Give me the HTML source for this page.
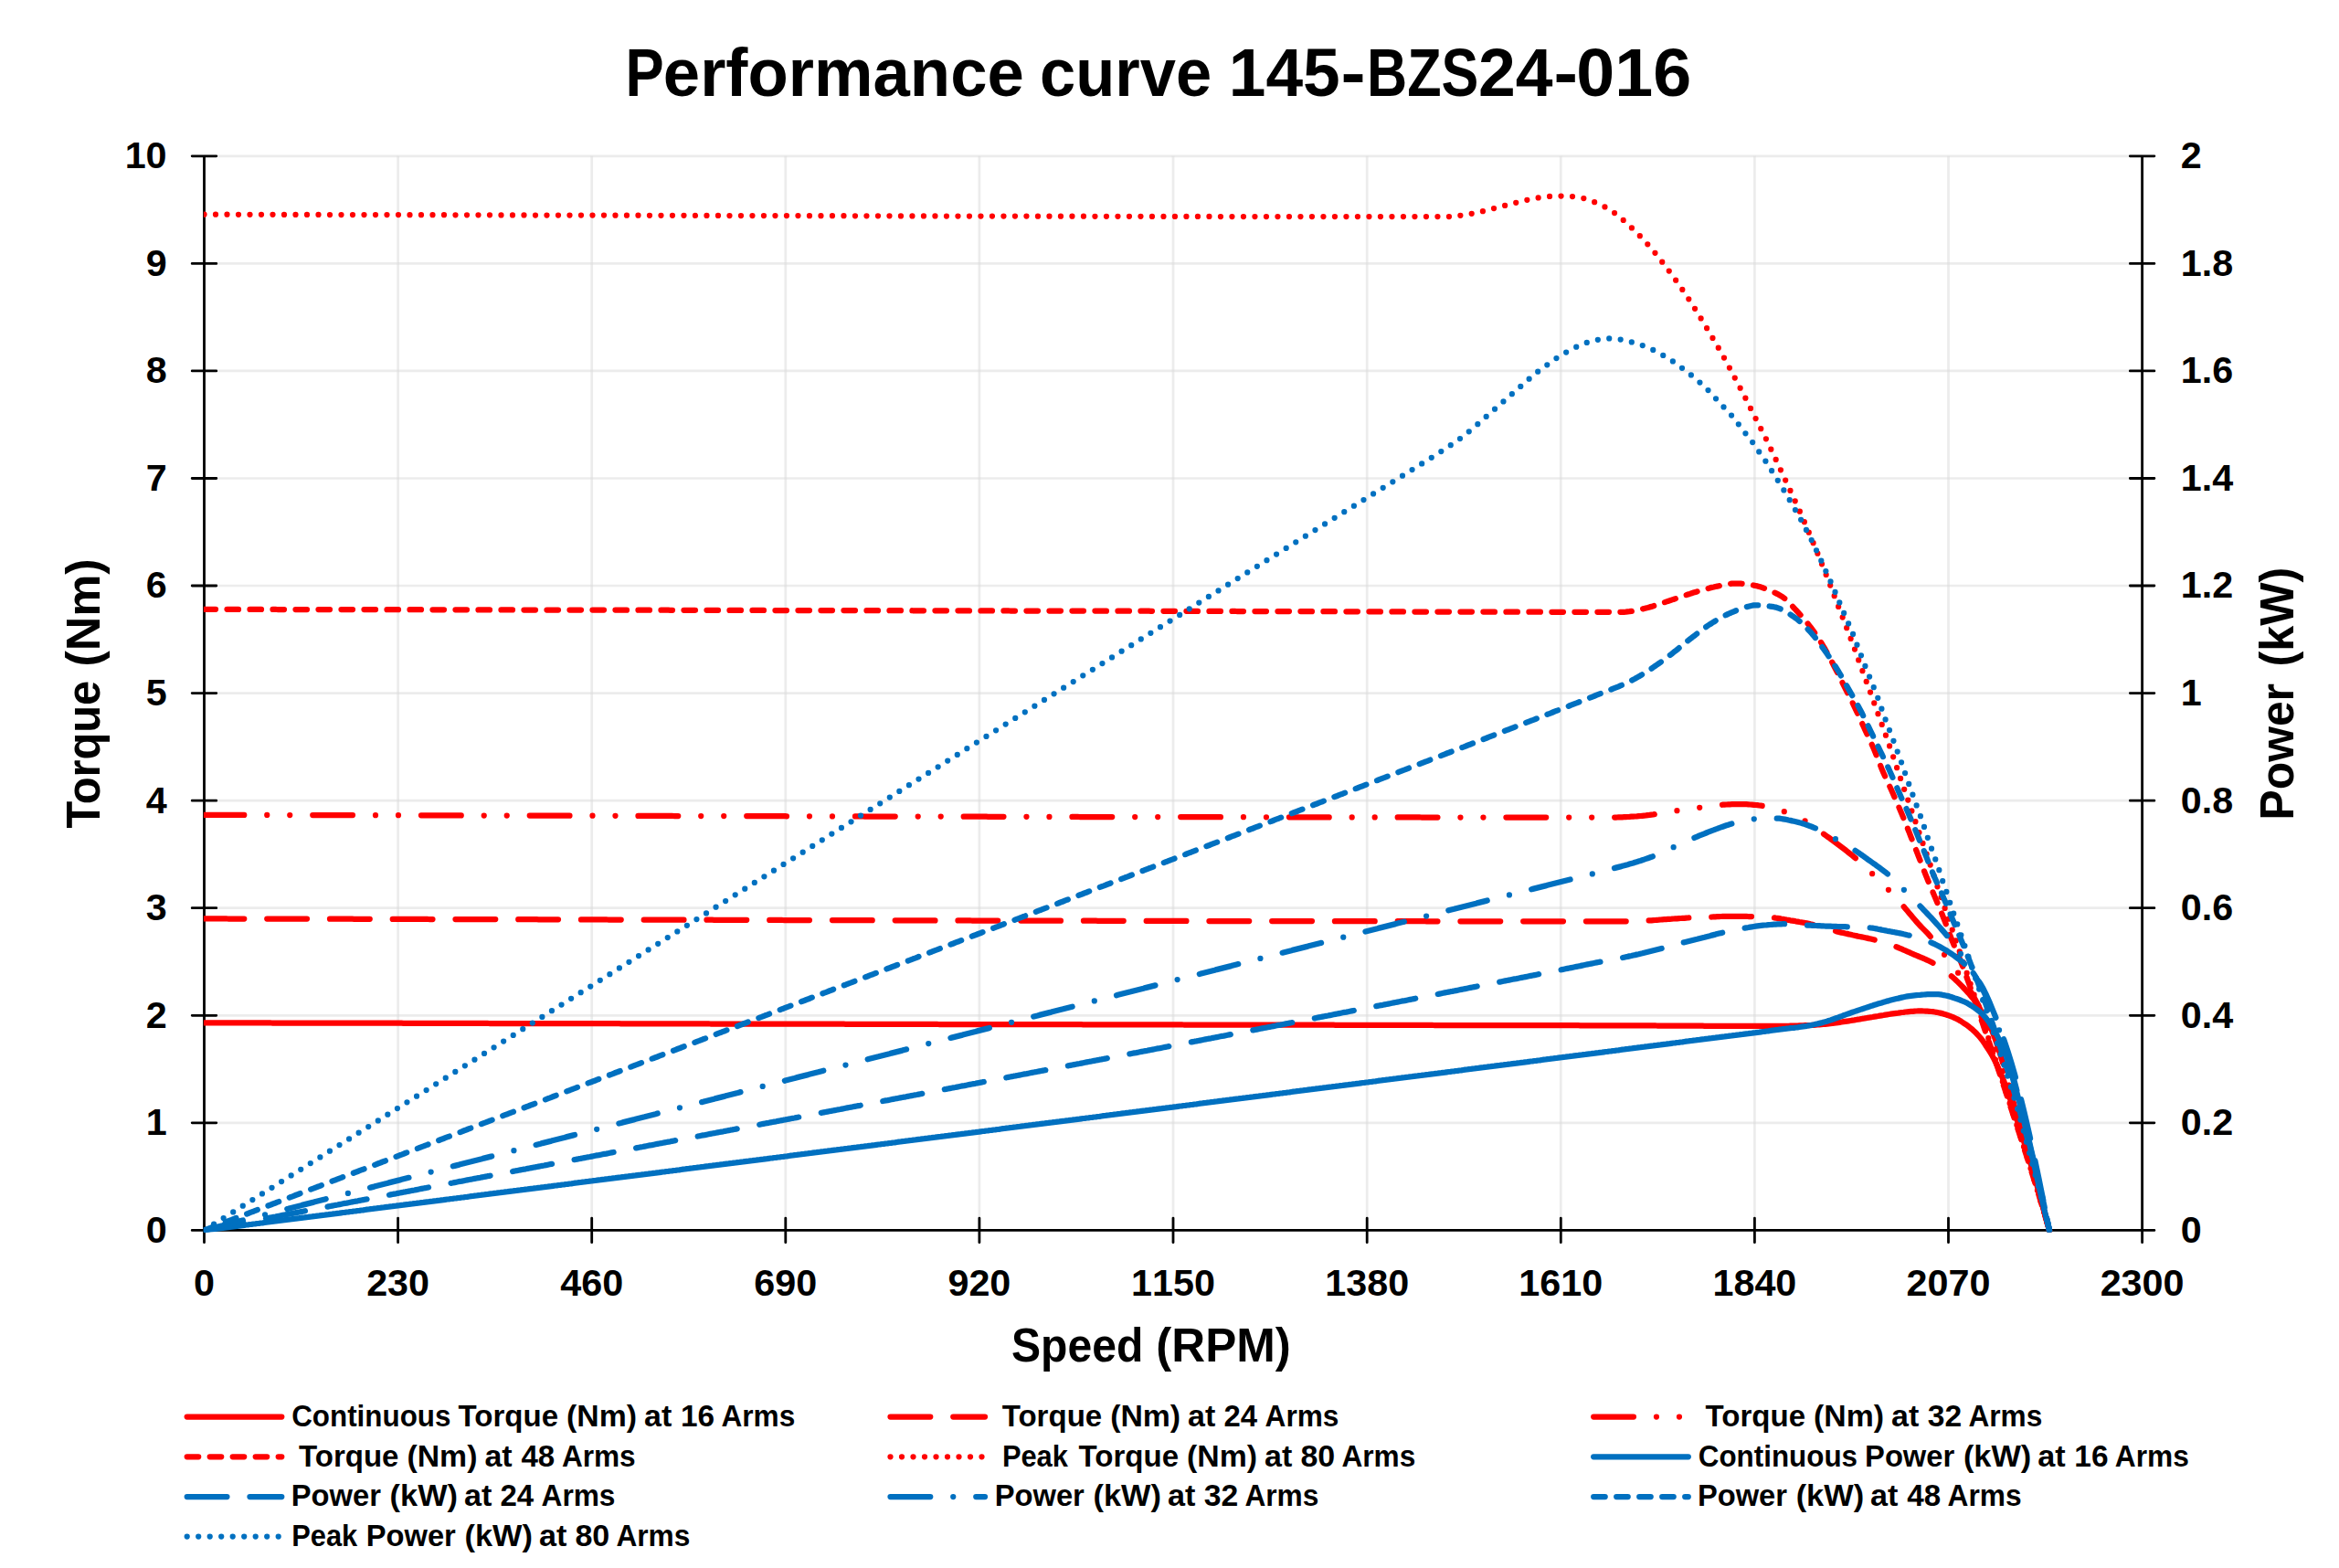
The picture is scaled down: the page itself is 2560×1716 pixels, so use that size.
<!DOCTYPE html>
<html lang="en"><head><meta charset="utf-8"><title>Performance curve 145-BZS24-016</title>
<style>html,body{margin:0;padding:0;background:#fff}svg{display:block}text{font-family:"Liberation Sans",sans-serif;font-weight:bold;fill:#000}.tk{font-kerning:none}</style>
</head><body>
<svg width="2560" height="1716" viewBox="0 0 2560 1716">
<rect width="2560" height="1716" fill="#fff"/>
<defs><clipPath id="plot"><rect x="222.9" y="166.8" width="2126.1" height="1181.6"/></clipPath></defs>
<path d="M223.5 1346.4H2344.6M223.5 1228.8H2344.6M223.5 1111.3H2344.6M223.5 993.7H2344.6M223.5 876.2H2344.6M223.5 758.6H2344.6M223.5 641.0H2344.6M223.5 523.5H2344.6M223.5 405.9H2344.6M223.5 288.4H2344.6M223.5 170.8H2344.6" stroke="#D9D9D9" stroke-opacity="0.5" stroke-width="2.7" fill="none"/>
<path d="M223.5 170.8V1346.4M435.6 170.8V1346.4M647.7 170.8V1346.4M859.8 170.8V1346.4M1071.9 170.8V1346.4M1284.0 170.8V1346.4M1496.2 170.8V1346.4M1708.3 170.8V1346.4M1920.4 170.8V1346.4M2132.5 170.8V1346.4M2344.6 170.8V1346.4" stroke="#D9D9D9" stroke-opacity="0.5" stroke-width="2.7" fill="none"/>
<path d="M223.5 170.8V1346.4M2344.6 170.8V1346.4M223.5 1346.4H2344.6M210.2 1346.4H236.8M2331.3 1346.4H2357.9M223.5 1333.1V1359.7M210.2 1228.8H236.8M2331.3 1228.8H2357.9M435.6 1333.1V1359.7M210.2 1111.3H236.8M2331.3 1111.3H2357.9M647.7 1333.1V1359.7M210.2 993.7H236.8M2331.3 993.7H2357.9M859.8 1333.1V1359.7M210.2 876.2H236.8M2331.3 876.2H2357.9M1071.9 1333.1V1359.7M210.2 758.6H236.8M2331.3 758.6H2357.9M1284.0 1333.1V1359.7M210.2 641.0H236.8M2331.3 641.0H2357.9M1496.2 1333.1V1359.7M210.2 523.5H236.8M2331.3 523.5H2357.9M1708.3 1333.1V1359.7M210.2 405.9H236.8M2331.3 405.9H2357.9M1920.4 1333.1V1359.7M210.2 288.4H236.8M2331.3 288.4H2357.9M2132.5 1333.1V1359.7M210.2 170.8H236.8M2331.3 170.8H2357.9M2344.6 1333.1V1359.7" stroke="#000" stroke-width="2.8" stroke-linecap="round" fill="none"/>
<g clip-path="url(#plot)" fill="none" stroke-linecap="round" stroke-linejoin="round" stroke-width="6.25">
<path d="M223.5 1119.3 L225.5 1119.3 L227.5 1119.3 L229.5 1119.3 L231.5 1119.3 L233.5 1119.3 L235.5 1119.3 L237.5 1119.3 L239.5 1119.3 L241.5 1119.3 L243.5 1119.3 L245.5 1119.3 L247.5 1119.3 L249.5 1119.4 L251.5 1119.4 L253.5 1119.4 L255.5 1119.4 L257.5 1119.4 L259.5 1119.4 L261.5 1119.4 L263.5 1119.4 L265.5 1119.4 L267.5 1119.4 L269.5 1119.4 L271.5 1119.4 L273.5 1119.4 L275.5 1119.4 L277.5 1119.4 L279.5 1119.4 L281.5 1119.4 L283.5 1119.4 L285.5 1119.4 L287.5 1119.4 L289.5 1119.4 L291.5 1119.4 L293.5 1119.4 L295.5 1119.4 L297.5 1119.5 L299.5 1119.5 L301.5 1119.5 L303.5 1119.5 L305.5 1119.5 L307.5 1119.5 L309.5 1119.5 L311.5 1119.5 L313.5 1119.5 L315.5 1119.5 L317.5 1119.5 L319.5 1119.5 L321.5 1119.5 L323.5 1119.5 L325.5 1119.5 L327.5 1119.5 L329.5 1119.5 L331.5 1119.5 L333.5 1119.5 L335.5 1119.5 L337.5 1119.5 L339.5 1119.5 L341.5 1119.5 L343.5 1119.5 L345.5 1119.6 L347.5 1119.6 L349.5 1119.6 L351.5 1119.6 L353.5 1119.6 L355.5 1119.6 L357.5 1119.6 L359.5 1119.6 L361.5 1119.6 L363.5 1119.6 L365.5 1119.6 L367.5 1119.6 L369.5 1119.6 L371.5 1119.6 L373.5 1119.6 L375.5 1119.6 L377.5 1119.6 L379.5 1119.6 L381.5 1119.6 L383.5 1119.6 L385.5 1119.6 L387.5 1119.6 L389.5 1119.6 L391.5 1119.6 L393.5 1119.7 L395.5 1119.7 L397.5 1119.7 L399.5 1119.7 L401.5 1119.7 L403.5 1119.7 L405.5 1119.7 L407.5 1119.7 L409.5 1119.7 L411.5 1119.7 L413.5 1119.7 L415.5 1119.7 L417.5 1119.7 L419.5 1119.7 L421.5 1119.7 L423.5 1119.7 L425.5 1119.7 L427.5 1119.7 L429.5 1119.7 L431.5 1119.7 L433.5 1119.7 L435.5 1119.7 L437.5 1119.7 L439.5 1119.7 L441.5 1119.8 L443.5 1119.8 L445.5 1119.8 L447.5 1119.8 L449.5 1119.8 L451.5 1119.8 L453.5 1119.8 L455.5 1119.8 L457.5 1119.8 L459.5 1119.8 L461.5 1119.8 L463.5 1119.8 L465.5 1119.8 L467.5 1119.8 L469.5 1119.8 L471.5 1119.8 L473.5 1119.8 L475.5 1119.8 L477.5 1119.8 L479.5 1119.8 L481.5 1119.8 L483.5 1119.8 L485.5 1119.8 L487.5 1119.9 L489.5 1119.9 L491.5 1119.9 L493.5 1119.9 L495.5 1119.9 L497.5 1119.9 L499.5 1119.9 L501.5 1119.9 L503.5 1119.9 L505.5 1119.9 L507.5 1119.9 L509.5 1119.9 L511.5 1119.9 L513.5 1119.9 L515.5 1119.9 L517.5 1119.9 L519.5 1119.9 L521.5 1119.9 L523.5 1119.9 L525.5 1119.9 L527.5 1119.9 L529.5 1119.9 L531.5 1119.9 L533.5 1119.9 L535.5 1120.0 L537.5 1120.0 L539.5 1120.0 L541.5 1120.0 L543.5 1120.0 L545.5 1120.0 L547.5 1120.0 L549.5 1120.0 L551.5 1120.0 L553.5 1120.0 L555.5 1120.0 L557.5 1120.0 L559.5 1120.0 L561.5 1120.0 L563.5 1120.0 L565.5 1120.0 L567.5 1120.0 L569.5 1120.0 L571.5 1120.0 L573.5 1120.0 L575.5 1120.0 L577.5 1120.0 L579.5 1120.0 L581.5 1120.0 L583.5 1120.1 L585.5 1120.1 L587.5 1120.1 L589.5 1120.1 L591.5 1120.1 L593.5 1120.1 L595.5 1120.1 L597.5 1120.1 L599.5 1120.1 L601.5 1120.1 L603.5 1120.1 L605.5 1120.1 L607.5 1120.1 L609.5 1120.1 L611.5 1120.1 L613.5 1120.1 L615.5 1120.1 L617.5 1120.1 L619.5 1120.1 L621.5 1120.1 L623.5 1120.1 L625.5 1120.1 L627.5 1120.1 L629.5 1120.1 L631.5 1120.2 L633.5 1120.2 L635.5 1120.2 L637.5 1120.2 L639.5 1120.2 L641.5 1120.2 L643.5 1120.2 L645.5 1120.2 L647.5 1120.2 L649.5 1120.2 L651.5 1120.2 L653.5 1120.2 L655.5 1120.2 L657.5 1120.2 L659.5 1120.2 L661.5 1120.2 L663.5 1120.2 L665.5 1120.2 L667.5 1120.2 L669.5 1120.2 L671.5 1120.2 L673.5 1120.2 L675.5 1120.2 L677.5 1120.2 L679.5 1120.3 L681.5 1120.3 L683.5 1120.3 L685.5 1120.3 L687.5 1120.3 L689.5 1120.3 L691.5 1120.3 L693.5 1120.3 L695.5 1120.3 L697.5 1120.3 L699.5 1120.3 L701.5 1120.3 L703.5 1120.3 L705.5 1120.3 L707.5 1120.3 L709.5 1120.3 L711.5 1120.3 L713.5 1120.3 L715.5 1120.3 L717.5 1120.3 L719.5 1120.3 L721.5 1120.3 L723.5 1120.3 L725.5 1120.3 L727.5 1120.4 L729.5 1120.4 L731.5 1120.4 L733.5 1120.4 L735.5 1120.4 L737.5 1120.4 L739.5 1120.4 L741.5 1120.4 L743.5 1120.4 L745.5 1120.4 L747.5 1120.4 L749.5 1120.4 L751.5 1120.4 L753.5 1120.4 L755.5 1120.4 L757.5 1120.4 L759.5 1120.4 L761.5 1120.4 L763.5 1120.4 L765.5 1120.4 L767.5 1120.4 L769.5 1120.4 L771.5 1120.4 L773.5 1120.4 L775.5 1120.4 L777.5 1120.5 L779.5 1120.5 L781.5 1120.5 L783.5 1120.5 L785.5 1120.5 L787.5 1120.5 L789.5 1120.5 L791.5 1120.5 L793.5 1120.5 L795.5 1120.5 L797.5 1120.5 L799.5 1120.5 L801.5 1120.5 L803.5 1120.5 L805.5 1120.5 L807.5 1120.5 L809.5 1120.5 L811.5 1120.5 L813.5 1120.5 L815.5 1120.5 L817.5 1120.5 L819.5 1120.5 L821.5 1120.5 L823.5 1120.5 L825.5 1120.6 L827.5 1120.6 L829.5 1120.6 L831.5 1120.6 L833.5 1120.6 L835.5 1120.6 L837.5 1120.6 L839.5 1120.6 L841.5 1120.6 L843.5 1120.6 L845.5 1120.6 L847.5 1120.6 L849.5 1120.6 L851.5 1120.6 L853.5 1120.6 L855.5 1120.6 L857.5 1120.6 L859.5 1120.6 L861.5 1120.6 L863.5 1120.6 L865.5 1120.6 L867.5 1120.6 L869.5 1120.6 L871.5 1120.6 L873.5 1120.6 L875.5 1120.7 L877.5 1120.7 L879.5 1120.7 L881.5 1120.7 L883.5 1120.7 L885.5 1120.7 L887.5 1120.7 L889.5 1120.7 L891.5 1120.7 L893.5 1120.7 L895.5 1120.7 L897.5 1120.7 L899.5 1120.7 L901.5 1120.7 L903.5 1120.7 L905.5 1120.7 L907.5 1120.7 L909.5 1120.7 L911.5 1120.7 L913.5 1120.7 L915.5 1120.7 L917.5 1120.7 L919.5 1120.7 L921.5 1120.7 L923.5 1120.7 L925.5 1120.8 L927.5 1120.8 L929.5 1120.8 L931.5 1120.8 L933.5 1120.8 L935.5 1120.8 L937.5 1120.8 L939.5 1120.8 L941.5 1120.8 L943.5 1120.8 L945.5 1120.8 L947.5 1120.8 L949.5 1120.8 L951.5 1120.8 L953.5 1120.8 L955.5 1120.8 L957.5 1120.8 L959.5 1120.8 L961.5 1120.8 L963.5 1120.8 L965.5 1120.8 L967.5 1120.8 L969.5 1120.8 L971.5 1120.8 L973.5 1120.8 L975.5 1120.9 L977.5 1120.9 L979.5 1120.9 L981.5 1120.9 L983.5 1120.9 L985.5 1120.9 L987.5 1120.9 L989.5 1120.9 L991.5 1120.9 L993.5 1120.9 L995.5 1120.9 L997.5 1120.9 L999.5 1120.9 L1001.5 1120.9 L1003.5 1120.9 L1005.5 1120.9 L1007.5 1120.9 L1009.5 1120.9 L1011.5 1120.9 L1013.5 1120.9 L1015.5 1120.9 L1017.5 1120.9 L1019.5 1120.9 L1021.5 1120.9 L1023.5 1120.9 L1025.5 1120.9 L1027.5 1121.0 L1029.5 1121.0 L1031.5 1121.0 L1033.5 1121.0 L1035.5 1121.0 L1037.5 1121.0 L1039.5 1121.0 L1041.5 1121.0 L1043.5 1121.0 L1045.5 1121.0 L1047.5 1121.0 L1049.5 1121.0 L1051.5 1121.0 L1053.5 1121.0 L1055.5 1121.0 L1057.5 1121.0 L1059.5 1121.0 L1061.5 1121.0 L1063.5 1121.0 L1065.5 1121.0 L1067.5 1121.0 L1069.5 1121.0 L1071.5 1121.0 L1073.5 1121.0 L1075.5 1121.0 L1077.5 1121.0 L1079.5 1121.1 L1081.5 1121.1 L1083.5 1121.1 L1085.5 1121.1 L1087.5 1121.1 L1089.5 1121.1 L1091.5 1121.1 L1093.5 1121.1 L1095.5 1121.1 L1097.5 1121.1 L1099.5 1121.1 L1101.5 1121.1 L1103.5 1121.1 L1105.5 1121.1 L1107.5 1121.1 L1109.5 1121.1 L1111.5 1121.1 L1113.5 1121.1 L1115.5 1121.1 L1117.5 1121.1 L1119.5 1121.1 L1121.5 1121.1 L1123.5 1121.1 L1125.5 1121.1 L1127.5 1121.1 L1129.5 1121.1 L1131.5 1121.2 L1133.5 1121.2 L1135.5 1121.2 L1137.5 1121.2 L1139.5 1121.2 L1141.5 1121.2 L1143.5 1121.2 L1145.5 1121.2 L1147.5 1121.2 L1149.5 1121.2 L1151.5 1121.2 L1153.5 1121.2 L1155.5 1121.2 L1157.5 1121.2 L1159.5 1121.2 L1161.5 1121.2 L1163.5 1121.2 L1165.5 1121.2 L1167.5 1121.2 L1169.5 1121.2 L1171.5 1121.2 L1173.5 1121.2 L1175.5 1121.2 L1177.5 1121.2 L1179.5 1121.2 L1181.5 1121.2 L1183.5 1121.2 L1185.5 1121.3 L1187.5 1121.3 L1189.5 1121.3 L1191.5 1121.3 L1193.5 1121.3 L1195.5 1121.3 L1197.5 1121.3 L1199.5 1121.3 L1201.5 1121.3 L1203.5 1121.3 L1205.5 1121.3 L1207.5 1121.3 L1209.5 1121.3 L1211.5 1121.3 L1213.5 1121.3 L1215.5 1121.3 L1217.5 1121.3 L1219.5 1121.3 L1221.5 1121.3 L1223.5 1121.3 L1225.5 1121.3 L1227.5 1121.3 L1229.5 1121.3 L1231.5 1121.3 L1233.5 1121.3 L1235.5 1121.3 L1237.5 1121.3 L1239.5 1121.3 L1241.5 1121.4 L1243.5 1121.4 L1245.5 1121.4 L1247.5 1121.4 L1249.5 1121.4 L1251.5 1121.4 L1253.5 1121.4 L1255.5 1121.4 L1257.5 1121.4 L1259.5 1121.4 L1261.5 1121.4 L1263.5 1121.4 L1265.5 1121.4 L1267.5 1121.4 L1269.5 1121.4 L1271.5 1121.4 L1273.5 1121.4 L1275.5 1121.4 L1277.5 1121.4 L1279.5 1121.4 L1281.5 1121.4 L1283.5 1121.4 L1285.5 1121.4 L1287.5 1121.4 L1289.5 1121.4 L1291.5 1121.4 L1293.5 1121.4 L1295.5 1121.5 L1297.5 1121.5 L1299.5 1121.5 L1301.5 1121.5 L1303.5 1121.5 L1305.5 1121.5 L1307.5 1121.5 L1309.5 1121.5 L1311.5 1121.5 L1313.5 1121.5 L1315.5 1121.5 L1317.5 1121.5 L1319.5 1121.5 L1321.5 1121.5 L1323.5 1121.5 L1325.5 1121.5 L1327.5 1121.5 L1329.5 1121.5 L1331.5 1121.5 L1333.5 1121.5 L1335.5 1121.5 L1337.5 1121.5 L1339.5 1121.5 L1341.5 1121.5 L1343.5 1121.5 L1345.5 1121.5 L1347.5 1121.5 L1349.5 1121.5 L1351.5 1121.6 L1353.5 1121.6 L1355.5 1121.6 L1357.5 1121.6 L1359.5 1121.6 L1361.5 1121.6 L1363.5 1121.6 L1365.5 1121.6 L1367.5 1121.6 L1369.5 1121.6 L1371.5 1121.6 L1373.5 1121.6 L1375.5 1121.6 L1377.5 1121.6 L1379.5 1121.6 L1381.5 1121.6 L1383.5 1121.6 L1385.5 1121.6 L1387.5 1121.6 L1389.5 1121.6 L1391.5 1121.6 L1393.5 1121.6 L1395.5 1121.6 L1397.5 1121.6 L1399.5 1121.6 L1401.5 1121.6 L1403.5 1121.6 L1405.5 1121.7 L1407.5 1121.7 L1409.5 1121.7 L1411.5 1121.7 L1413.5 1121.7 L1415.5 1121.7 L1417.5 1121.7 L1419.5 1121.7 L1421.5 1121.7 L1423.5 1121.7 L1425.5 1121.7 L1427.5 1121.7 L1429.5 1121.7 L1431.5 1121.7 L1433.5 1121.7 L1435.5 1121.7 L1437.5 1121.7 L1439.5 1121.7 L1441.5 1121.7 L1443.5 1121.7 L1445.5 1121.7 L1447.5 1121.7 L1449.5 1121.7 L1451.5 1121.7 L1453.5 1121.7 L1455.5 1121.7 L1457.5 1121.7 L1459.5 1121.7 L1461.5 1121.8 L1463.5 1121.8 L1465.5 1121.8 L1467.5 1121.8 L1469.5 1121.8 L1471.5 1121.8 L1473.5 1121.8 L1475.5 1121.8 L1477.5 1121.8 L1479.5 1121.8 L1481.5 1121.8 L1483.5 1121.8 L1485.5 1121.8 L1487.5 1121.8 L1489.5 1121.8 L1491.5 1121.8 L1493.5 1121.8 L1495.5 1121.8 L1497.5 1121.8 L1499.5 1121.8 L1501.5 1121.8 L1503.5 1121.8 L1505.5 1121.8 L1507.5 1121.8 L1509.5 1121.8 L1511.5 1121.8 L1513.5 1121.8 L1515.5 1121.9 L1517.5 1121.9 L1519.5 1121.9 L1521.5 1121.9 L1523.5 1121.9 L1525.5 1121.9 L1527.5 1121.9 L1529.5 1121.9 L1531.5 1121.9 L1533.5 1121.9 L1535.5 1121.9 L1537.5 1121.9 L1539.5 1121.9 L1541.5 1121.9 L1543.5 1121.9 L1545.5 1121.9 L1547.5 1121.9 L1549.5 1121.9 L1551.5 1121.9 L1553.5 1121.9 L1555.5 1121.9 L1557.5 1121.9 L1559.5 1121.9 L1561.5 1121.9 L1563.5 1121.9 L1565.5 1121.9 L1567.5 1121.9 L1569.5 1122.0 L1571.5 1122.0 L1573.5 1122.0 L1575.5 1122.0 L1577.5 1122.0 L1579.5 1122.0 L1581.5 1122.0 L1583.5 1122.0 L1585.5 1122.0 L1587.5 1122.0 L1589.5 1122.0 L1591.5 1122.0 L1593.5 1122.0 L1595.5 1122.0 L1597.5 1122.0 L1599.5 1122.0 L1601.5 1122.0 L1603.5 1122.0 L1605.5 1122.0 L1607.5 1122.0 L1609.5 1122.0 L1611.5 1122.0 L1613.5 1122.0 L1615.5 1122.0 L1617.5 1122.0 L1619.5 1122.0 L1621.5 1122.0 L1623.5 1122.1 L1625.5 1122.1 L1627.5 1122.1 L1629.5 1122.1 L1631.5 1122.1 L1633.5 1122.1 L1635.5 1122.1 L1637.5 1122.1 L1639.5 1122.1 L1641.5 1122.1 L1643.5 1122.1 L1645.5 1122.1 L1647.5 1122.1 L1649.5 1122.1 L1651.5 1122.1 L1653.5 1122.1 L1655.5 1122.1 L1657.5 1122.1 L1659.5 1122.1 L1661.5 1122.1 L1663.5 1122.1 L1665.5 1122.1 L1667.5 1122.1 L1669.5 1122.1 L1671.5 1122.1 L1673.5 1122.1 L1675.5 1122.2 L1677.5 1122.2 L1679.5 1122.2 L1681.5 1122.2 L1683.5 1122.2 L1685.5 1122.2 L1687.5 1122.2 L1689.5 1122.2 L1691.5 1122.2 L1693.5 1122.2 L1695.5 1122.2 L1697.5 1122.2 L1699.5 1122.2 L1701.5 1122.2 L1703.5 1122.2 L1705.5 1122.2 L1707.5 1122.2 L1709.5 1122.2 L1711.5 1122.2 L1713.5 1122.2 L1715.5 1122.2 L1717.5 1122.2 L1719.5 1122.2 L1721.5 1122.2 L1723.5 1122.2 L1725.5 1122.2 L1727.5 1122.2 L1729.5 1122.3 L1731.5 1122.3 L1733.5 1122.3 L1735.5 1122.3 L1737.5 1122.3 L1739.5 1122.3 L1741.5 1122.3 L1743.5 1122.3 L1745.5 1122.3 L1747.5 1122.3 L1749.5 1122.3 L1751.5 1122.3 L1753.5 1122.3 L1755.5 1122.3 L1757.5 1122.3 L1759.5 1122.3 L1761.5 1122.3 L1763.5 1122.3 L1765.5 1122.3 L1767.5 1122.3 L1769.5 1122.3 L1771.5 1122.3 L1773.5 1122.3 L1775.5 1122.3 L1777.5 1122.3 L1779.5 1122.3 L1781.5 1122.4 L1783.5 1122.4 L1785.5 1122.4 L1787.5 1122.4 L1789.5 1122.4 L1791.5 1122.4 L1793.5 1122.4 L1795.5 1122.4 L1797.5 1122.4 L1799.5 1122.4 L1801.5 1122.4 L1803.5 1122.4 L1805.5 1122.4 L1807.5 1122.4 L1809.5 1122.4 L1811.5 1122.4 L1813.5 1122.5 L1815.5 1122.5 L1817.5 1122.5 L1819.5 1122.5 L1821.5 1122.5 L1823.5 1122.5 L1825.5 1122.5 L1827.5 1122.5 L1829.5 1122.5 L1831.5 1122.6 L1833.5 1122.6 L1835.5 1122.6 L1837.5 1122.6 L1839.5 1122.6 L1841.5 1122.6 L1843.5 1122.6 L1845.5 1122.6 L1847.5 1122.7 L1849.5 1122.7 L1851.5 1122.7 L1853.5 1122.7 L1855.5 1122.7 L1857.5 1122.7 L1859.5 1122.7 L1861.5 1122.7 L1863.5 1122.7 L1865.5 1122.8 L1867.5 1122.8 L1869.5 1122.8 L1871.5 1122.8 L1873.5 1122.8 L1875.5 1122.8 L1877.5 1122.8 L1879.5 1122.8 L1881.5 1122.8 L1883.5 1122.8 L1885.5 1122.8 L1887.5 1122.8 L1889.5 1122.8 L1891.5 1122.8 L1893.5 1122.8 L1895.5 1122.8 L1897.5 1122.8 L1899.5 1122.8 L1901.5 1122.8 L1903.5 1122.8 L1905.5 1122.8 L1907.5 1122.8 L1909.5 1122.8 L1911.5 1122.8 L1913.5 1122.8 L1915.5 1122.8 L1917.5 1122.8 L1919.5 1122.8 L1921.5 1122.8 L1923.5 1122.8 L1925.5 1122.8 L1927.5 1122.8 L1929.5 1122.8 L1931.5 1122.8 L1933.5 1122.8 L1935.5 1122.8 L1937.5 1122.8 L1939.5 1122.8 L1941.5 1122.8 L1943.5 1122.8 L1945.5 1122.8 L1947.5 1122.8 L1949.5 1122.8 L1951.5 1122.8 L1953.5 1122.8 L1955.5 1122.8 L1957.5 1122.8 L1959.5 1122.7 L1961.5 1122.7 L1963.5 1122.6 L1965.5 1122.6 L1967.5 1122.5 L1969.5 1122.4 L1971.5 1122.4 L1973.5 1122.3 L1975.5 1122.2 L1977.5 1122.2 L1979.5 1122.1 L1981.5 1122.0 L1983.5 1121.9 L1985.5 1121.8 L1987.5 1121.6 L1989.5 1121.5 L1991.5 1121.3 L1993.5 1121.2 L1995.5 1121.0 L1997.5 1120.8 L1999.5 1120.6 L2001.5 1120.3 L2003.5 1120.1 L2005.5 1119.9 L2007.5 1119.6 L2009.5 1119.4 L2011.5 1119.1 L2013.5 1118.8 L2015.5 1118.5 L2017.5 1118.2 L2019.5 1117.9 L2021.5 1117.6 L2023.5 1117.3 L2025.5 1117.0 L2027.5 1116.7 L2029.5 1116.4 L2031.5 1116.0 L2033.5 1115.7 L2035.5 1115.4 L2037.5 1115.0 L2039.5 1114.7 L2041.5 1114.3 L2043.5 1114.0 L2045.5 1113.7 L2047.5 1113.3 L2049.5 1113.0 L2051.5 1112.6 L2053.5 1112.3 L2055.5 1112.0 L2057.5 1111.6 L2059.5 1111.3 L2061.5 1111.0 L2063.5 1110.6 L2065.5 1110.3 L2067.5 1110.0 L2069.5 1109.7 L2071.5 1109.4 L2073.5 1109.1 L2075.5 1108.8 L2077.5 1108.6 L2079.5 1108.3 L2081.5 1108.0 L2083.5 1107.8 L2085.5 1107.5 L2087.5 1107.3 L2089.5 1107.1 L2091.5 1106.9 L2093.5 1106.8 L2095.5 1106.6 L2097.5 1106.5 L2099.5 1106.4 L2101.5 1106.4 L2103.5 1106.4 L2105.5 1106.5 L2107.5 1106.6 L2109.5 1106.7 L2111.5 1106.8 L2113.5 1107.0 L2115.5 1107.2 L2117.5 1107.5 L2119.5 1107.8 L2121.5 1108.2 L2123.5 1108.6 L2125.5 1109.1 L2127.5 1109.7 L2129.5 1110.3 L2131.5 1110.9 L2133.5 1111.6 L2135.5 1112.4 L2137.5 1113.2 L2139.5 1114.1 L2141.5 1115.0 L2143.5 1116.1 L2145.5 1117.2 L2147.5 1118.5 L2149.5 1119.8 L2151.5 1121.1 L2153.5 1122.6 L2155.5 1124.1 L2157.5 1125.7 L2159.5 1127.4 L2161.5 1129.3 L2163.5 1131.3 L2165.5 1133.5 L2167.5 1135.8 L2169.5 1138.3 L2171.5 1141.1 L2173.5 1144.2 L2175.5 1147.3 L2177.5 1150.4 L2179.5 1153.6 L2181.5 1157.2 L2183.5 1161.2 L2185.5 1165.4 L2187.5 1169.7 L2189.5 1174.3 L2191.5 1179.0 L2193.5 1184.0 L2195.5 1189.4 L2197.5 1195.0 L2199.5 1200.9 L2201.5 1206.9 L2203.5 1212.9 L2205.5 1219.0 L2207.5 1225.1 L2209.5 1231.3 L2211.5 1237.6 L2213.5 1243.9 L2215.5 1250.2 L2217.5 1256.6 L2219.5 1263.2 L2221.5 1269.8 L2223.5 1276.6 L2225.5 1283.4 L2227.5 1290.4 L2229.5 1297.4 L2231.5 1304.6 L2233.5 1311.9 L2235.5 1319.2 L2237.5 1326.4 L2239.5 1333.7 L2241.5 1340.9 L2243.0 1346.4" stroke="#FF0000"/>
<path d="M223.5 1005.4 L225.5 1005.4 L227.5 1005.4 L229.5 1005.4 L231.5 1005.4 L233.5 1005.4 L235.5 1005.4 L237.5 1005.4 L239.5 1005.4 L241.5 1005.4 L243.5 1005.4 L245.5 1005.4 L247.5 1005.4 L249.5 1005.5 L251.5 1005.5 L253.5 1005.5 L255.5 1005.5 L257.5 1005.5 L259.5 1005.5 L261.5 1005.5 L263.5 1005.5 L265.5 1005.5 L267.5 1005.5 L269.5 1005.5 L271.5 1005.5 L273.5 1005.5 L275.5 1005.5 L277.5 1005.5 L279.5 1005.5 L281.5 1005.5 L283.5 1005.5 L285.5 1005.5 L287.5 1005.5 L289.5 1005.5 L291.5 1005.5 L293.5 1005.5 L295.5 1005.5 L297.5 1005.6 L299.5 1005.6 L301.5 1005.6 L303.5 1005.6 L305.5 1005.6 L307.5 1005.6 L309.5 1005.6 L311.5 1005.6 L313.5 1005.6 L315.5 1005.6 L317.5 1005.6 L319.5 1005.6 L321.5 1005.6 L323.5 1005.6 L325.5 1005.6 L327.5 1005.6 L329.5 1005.6 L331.5 1005.6 L333.5 1005.6 L335.5 1005.6 L337.5 1005.6 L339.5 1005.6 L341.5 1005.6 L343.5 1005.7 L345.5 1005.7 L347.5 1005.7 L349.5 1005.7 L351.5 1005.7 L353.5 1005.7 L355.5 1005.7 L357.5 1005.7 L359.5 1005.7 L361.5 1005.7 L363.5 1005.7 L365.5 1005.7 L367.5 1005.7 L369.5 1005.7 L371.5 1005.7 L373.5 1005.7 L375.5 1005.7 L377.5 1005.7 L379.5 1005.7 L381.5 1005.7 L383.5 1005.7 L385.5 1005.7 L387.5 1005.8 L389.5 1005.8 L391.5 1005.8 L393.5 1005.8 L395.5 1005.8 L397.5 1005.8 L399.5 1005.8 L401.5 1005.8 L403.5 1005.8 L405.5 1005.8 L407.5 1005.8 L409.5 1005.8 L411.5 1005.8 L413.5 1005.8 L415.5 1005.8 L417.5 1005.8 L419.5 1005.8 L421.5 1005.8 L423.5 1005.8 L425.5 1005.8 L427.5 1005.8 L429.5 1005.9 L431.5 1005.9 L433.5 1005.9 L435.5 1005.9 L437.5 1005.9 L439.5 1005.9 L441.5 1005.9 L443.5 1005.9 L445.5 1005.9 L447.5 1005.9 L449.5 1005.9 L451.5 1005.9 L453.5 1005.9 L455.5 1005.9 L457.5 1005.9 L459.5 1005.9 L461.5 1005.9 L463.5 1005.9 L465.5 1005.9 L467.5 1005.9 L469.5 1006.0 L471.5 1006.0 L473.5 1006.0 L475.5 1006.0 L477.5 1006.0 L479.5 1006.0 L481.5 1006.0 L483.5 1006.0 L485.5 1006.0 L487.5 1006.0 L489.5 1006.0 L491.5 1006.0 L493.5 1006.0 L495.5 1006.0 L497.5 1006.0 L499.5 1006.0 L501.5 1006.0 L503.5 1006.0 L505.5 1006.0 L507.5 1006.0 L509.5 1006.0 L511.5 1006.1 L513.5 1006.1 L515.5 1006.1 L517.5 1006.1 L519.5 1006.1 L521.5 1006.1 L523.5 1006.1 L525.5 1006.1 L527.5 1006.1 L529.5 1006.1 L531.5 1006.1 L533.5 1006.1 L535.5 1006.1 L537.5 1006.1 L539.5 1006.1 L541.5 1006.1 L543.5 1006.1 L545.5 1006.1 L547.5 1006.1 L549.5 1006.2 L551.5 1006.2 L553.5 1006.2 L555.5 1006.2 L557.5 1006.2 L559.5 1006.2 L561.5 1006.2 L563.5 1006.2 L565.5 1006.2 L567.5 1006.2 L569.5 1006.2 L571.5 1006.2 L573.5 1006.2 L575.5 1006.2 L577.5 1006.2 L579.5 1006.2 L581.5 1006.2 L583.5 1006.2 L585.5 1006.2 L587.5 1006.2 L589.5 1006.3 L591.5 1006.3 L593.5 1006.3 L595.5 1006.3 L597.5 1006.3 L599.5 1006.3 L601.5 1006.3 L603.5 1006.3 L605.5 1006.3 L607.5 1006.3 L609.5 1006.3 L611.5 1006.3 L613.5 1006.3 L615.5 1006.3 L617.5 1006.3 L619.5 1006.3 L621.5 1006.3 L623.5 1006.3 L625.5 1006.3 L627.5 1006.4 L629.5 1006.4 L631.5 1006.4 L633.5 1006.4 L635.5 1006.4 L637.5 1006.4 L639.5 1006.4 L641.5 1006.4 L643.5 1006.4 L645.5 1006.4 L647.5 1006.4 L649.5 1006.4 L651.5 1006.4 L653.5 1006.4 L655.5 1006.4 L657.5 1006.4 L659.5 1006.4 L661.5 1006.4 L663.5 1006.4 L665.5 1006.5 L667.5 1006.5 L669.5 1006.5 L671.5 1006.5 L673.5 1006.5 L675.5 1006.5 L677.5 1006.5 L679.5 1006.5 L681.5 1006.5 L683.5 1006.5 L685.5 1006.5 L687.5 1006.5 L689.5 1006.5 L691.5 1006.5 L693.5 1006.5 L695.5 1006.5 L697.5 1006.5 L699.5 1006.5 L701.5 1006.5 L703.5 1006.5 L705.5 1006.6 L707.5 1006.6 L709.5 1006.6 L711.5 1006.6 L713.5 1006.6 L715.5 1006.6 L717.5 1006.6 L719.5 1006.6 L721.5 1006.6 L723.5 1006.6 L725.5 1006.6 L727.5 1006.6 L729.5 1006.6 L731.5 1006.6 L733.5 1006.6 L735.5 1006.6 L737.5 1006.6 L739.5 1006.6 L741.5 1006.6 L743.5 1006.7 L745.5 1006.7 L747.5 1006.7 L749.5 1006.7 L751.5 1006.7 L753.5 1006.7 L755.5 1006.7 L757.5 1006.7 L759.5 1006.7 L761.5 1006.7 L763.5 1006.7 L765.5 1006.7 L767.5 1006.7 L769.5 1006.7 L771.5 1006.7 L773.5 1006.7 L775.5 1006.7 L777.5 1006.7 L779.5 1006.7 L781.5 1006.8 L783.5 1006.8 L785.5 1006.8 L787.5 1006.8 L789.5 1006.8 L791.5 1006.8 L793.5 1006.8 L795.5 1006.8 L797.5 1006.8 L799.5 1006.8 L801.5 1006.8 L803.5 1006.8 L805.5 1006.8 L807.5 1006.8 L809.5 1006.8 L811.5 1006.8 L813.5 1006.8 L815.5 1006.8 L817.5 1006.8 L819.5 1006.9 L821.5 1006.9 L823.5 1006.9 L825.5 1006.9 L827.5 1006.9 L829.5 1006.9 L831.5 1006.9 L833.5 1006.9 L835.5 1006.9 L837.5 1006.9 L839.5 1006.9 L841.5 1006.9 L843.5 1006.9 L845.5 1006.9 L847.5 1006.9 L849.5 1006.9 L851.5 1006.9 L853.5 1006.9 L855.5 1006.9 L857.5 1007.0 L859.5 1007.0 L861.5 1007.0 L863.5 1007.0 L865.5 1007.0 L867.5 1007.0 L869.5 1007.0 L871.5 1007.0 L873.5 1007.0 L875.5 1007.0 L877.5 1007.0 L879.5 1007.0 L881.5 1007.0 L883.5 1007.0 L885.5 1007.0 L887.5 1007.0 L889.5 1007.0 L891.5 1007.0 L893.5 1007.0 L895.5 1007.0 L897.5 1007.1 L899.5 1007.1 L901.5 1007.1 L903.5 1007.1 L905.5 1007.1 L907.5 1007.1 L909.5 1007.1 L911.5 1007.1 L913.5 1007.1 L915.5 1007.1 L917.5 1007.1 L919.5 1007.1 L921.5 1007.1 L923.5 1007.1 L925.5 1007.1 L927.5 1007.1 L929.5 1007.1 L931.5 1007.1 L933.5 1007.1 L935.5 1007.1 L937.5 1007.2 L939.5 1007.2 L941.5 1007.2 L943.5 1007.2 L945.5 1007.2 L947.5 1007.2 L949.5 1007.2 L951.5 1007.2 L953.5 1007.2 L955.5 1007.2 L957.5 1007.2 L959.5 1007.2 L961.5 1007.2 L963.5 1007.2 L965.5 1007.2 L967.5 1007.2 L969.5 1007.2 L971.5 1007.2 L973.5 1007.2 L975.5 1007.2 L977.5 1007.3 L979.5 1007.3 L981.5 1007.3 L983.5 1007.3 L985.5 1007.3 L987.5 1007.3 L989.5 1007.3 L991.5 1007.3 L993.5 1007.3 L995.5 1007.3 L997.5 1007.3 L999.5 1007.3 L1001.5 1007.3 L1003.5 1007.3 L1005.5 1007.3 L1007.5 1007.3 L1009.5 1007.3 L1011.5 1007.3 L1013.5 1007.3 L1015.5 1007.3 L1017.5 1007.3 L1019.5 1007.4 L1021.5 1007.4 L1023.5 1007.4 L1025.5 1007.4 L1027.5 1007.4 L1029.5 1007.4 L1031.5 1007.4 L1033.5 1007.4 L1035.5 1007.4 L1037.5 1007.4 L1039.5 1007.4 L1041.5 1007.4 L1043.5 1007.4 L1045.5 1007.4 L1047.5 1007.4 L1049.5 1007.4 L1051.5 1007.4 L1053.5 1007.4 L1055.5 1007.4 L1057.5 1007.4 L1059.5 1007.4 L1061.5 1007.4 L1063.5 1007.5 L1065.5 1007.5 L1067.5 1007.5 L1069.5 1007.5 L1071.5 1007.5 L1073.5 1007.5 L1075.5 1007.5 L1077.5 1007.5 L1079.5 1007.5 L1081.5 1007.5 L1083.5 1007.5 L1085.5 1007.5 L1087.5 1007.5 L1089.5 1007.5 L1091.5 1007.5 L1093.5 1007.5 L1095.5 1007.5 L1097.5 1007.5 L1099.5 1007.5 L1101.5 1007.5 L1103.5 1007.5 L1105.5 1007.5 L1107.5 1007.6 L1109.5 1007.6 L1111.5 1007.6 L1113.5 1007.6 L1115.5 1007.6 L1117.5 1007.6 L1119.5 1007.6 L1121.5 1007.6 L1123.5 1007.6 L1125.5 1007.6 L1127.5 1007.6 L1129.5 1007.6 L1131.5 1007.6 L1133.5 1007.6 L1135.5 1007.6 L1137.5 1007.6 L1139.5 1007.6 L1141.5 1007.6 L1143.5 1007.6 L1145.5 1007.6 L1147.5 1007.6 L1149.5 1007.6 L1151.5 1007.6 L1153.5 1007.7 L1155.5 1007.7 L1157.5 1007.7 L1159.5 1007.7 L1161.5 1007.7 L1163.5 1007.7 L1165.5 1007.7 L1167.5 1007.7 L1169.5 1007.7 L1171.5 1007.7 L1173.5 1007.7 L1175.5 1007.7 L1177.5 1007.7 L1179.5 1007.7 L1181.5 1007.7 L1183.5 1007.7 L1185.5 1007.7 L1187.5 1007.7 L1189.5 1007.7 L1191.5 1007.7 L1193.5 1007.7 L1195.5 1007.7 L1197.5 1007.7 L1199.5 1007.7 L1201.5 1007.8 L1203.5 1007.8 L1205.5 1007.8 L1207.5 1007.8 L1209.5 1007.8 L1211.5 1007.8 L1213.5 1007.8 L1215.5 1007.8 L1217.5 1007.8 L1219.5 1007.8 L1221.5 1007.8 L1223.5 1007.8 L1225.5 1007.8 L1227.5 1007.8 L1229.5 1007.8 L1231.5 1007.8 L1233.5 1007.8 L1235.5 1007.8 L1237.5 1007.8 L1239.5 1007.8 L1241.5 1007.8 L1243.5 1007.8 L1245.5 1007.8 L1247.5 1007.8 L1249.5 1007.8 L1251.5 1007.8 L1253.5 1007.8 L1255.5 1007.9 L1257.5 1007.9 L1259.5 1007.9 L1261.5 1007.9 L1263.5 1007.9 L1265.5 1007.9 L1267.5 1007.9 L1269.5 1007.9 L1271.5 1007.9 L1273.5 1007.9 L1275.5 1007.9 L1277.5 1007.9 L1279.5 1007.9 L1281.5 1007.9 L1283.5 1007.9 L1285.5 1007.9 L1287.5 1007.9 L1289.5 1007.9 L1291.5 1007.9 L1293.5 1007.9 L1295.5 1007.9 L1297.5 1007.9 L1299.5 1007.9 L1301.5 1007.9 L1303.5 1007.9 L1305.5 1007.9 L1307.5 1007.9 L1309.5 1007.9 L1311.5 1008.0 L1313.5 1008.0 L1315.5 1008.0 L1317.5 1008.0 L1319.5 1008.0 L1321.5 1008.0 L1323.5 1008.0 L1325.5 1008.0 L1327.5 1008.0 L1329.5 1008.0 L1331.5 1008.0 L1333.5 1008.0 L1335.5 1008.0 L1337.5 1008.0 L1339.5 1008.0 L1341.5 1008.0 L1343.5 1008.0 L1345.5 1008.0 L1347.5 1008.0 L1349.5 1008.0 L1351.5 1008.0 L1353.5 1008.0 L1355.5 1008.0 L1357.5 1008.0 L1359.5 1008.0 L1361.5 1008.0 L1363.5 1008.0 L1365.5 1008.0 L1367.5 1008.0 L1369.5 1008.0 L1371.5 1008.0 L1373.5 1008.0 L1375.5 1008.1 L1377.5 1008.1 L1379.5 1008.1 L1381.5 1008.1 L1383.5 1008.1 L1385.5 1008.1 L1387.5 1008.1 L1389.5 1008.1 L1391.5 1008.1 L1393.5 1008.1 L1395.5 1008.1 L1397.5 1008.1 L1399.5 1008.1 L1401.5 1008.1 L1403.5 1008.1 L1405.5 1008.1 L1407.5 1008.1 L1409.5 1008.1 L1411.5 1008.1 L1413.5 1008.1 L1415.5 1008.1 L1417.5 1008.1 L1419.5 1008.1 L1421.5 1008.1 L1423.5 1008.1 L1425.5 1008.1 L1427.5 1008.1 L1429.5 1008.1 L1431.5 1008.1 L1433.5 1008.1 L1435.5 1008.1 L1437.5 1008.1 L1439.5 1008.1 L1441.5 1008.1 L1443.5 1008.1 L1445.5 1008.1 L1447.5 1008.1 L1449.5 1008.1 L1451.5 1008.1 L1453.5 1008.2 L1455.5 1008.2 L1457.5 1008.2 L1459.5 1008.2 L1461.5 1008.2 L1463.5 1008.2 L1465.5 1008.2 L1467.5 1008.2 L1469.5 1008.2 L1471.5 1008.2 L1473.5 1008.2 L1475.5 1008.2 L1477.5 1008.2 L1479.5 1008.2 L1481.5 1008.2 L1483.5 1008.2 L1485.5 1008.2 L1487.5 1008.2 L1489.5 1008.2 L1491.5 1008.2 L1493.5 1008.2 L1495.5 1008.2 L1497.5 1008.2 L1499.5 1008.2 L1501.5 1008.2 L1503.5 1008.2 L1505.5 1008.2 L1507.5 1008.2 L1509.5 1008.2 L1511.5 1008.2 L1513.5 1008.2 L1515.5 1008.2 L1517.5 1008.2 L1519.5 1008.2 L1521.5 1008.2 L1523.5 1008.2 L1525.5 1008.2 L1527.5 1008.2 L1529.5 1008.2 L1531.5 1008.2 L1533.5 1008.2 L1535.5 1008.2 L1537.5 1008.2 L1539.5 1008.2 L1541.5 1008.2 L1543.5 1008.2 L1545.5 1008.2 L1547.5 1008.2 L1549.5 1008.2 L1551.5 1008.2 L1553.5 1008.2 L1555.5 1008.2 L1557.5 1008.2 L1559.5 1008.2 L1561.5 1008.3 L1563.5 1008.3 L1565.5 1008.3 L1567.5 1008.3 L1569.5 1008.3 L1571.5 1008.3 L1573.5 1008.3 L1575.5 1008.3 L1577.5 1008.3 L1579.5 1008.3 L1581.5 1008.3 L1583.5 1008.3 L1585.5 1008.3 L1587.5 1008.3 L1589.5 1008.3 L1591.5 1008.3 L1593.5 1008.3 L1595.5 1008.3 L1597.5 1008.3 L1599.5 1008.3 L1601.5 1008.3 L1603.5 1008.3 L1605.5 1008.3 L1607.5 1008.3 L1609.5 1008.3 L1611.5 1008.3 L1613.5 1008.3 L1615.5 1008.3 L1617.5 1008.3 L1619.5 1008.3 L1621.5 1008.3 L1623.5 1008.3 L1625.5 1008.3 L1627.5 1008.3 L1629.5 1008.3 L1631.5 1008.3 L1633.5 1008.3 L1635.5 1008.3 L1637.5 1008.3 L1639.5 1008.3 L1641.5 1008.3 L1643.5 1008.3 L1645.5 1008.3 L1647.5 1008.3 L1649.5 1008.3 L1651.5 1008.3 L1653.5 1008.3 L1655.5 1008.3 L1657.5 1008.3 L1659.5 1008.3 L1661.5 1008.3 L1663.5 1008.3 L1665.5 1008.3 L1667.5 1008.3 L1669.5 1008.3 L1671.5 1008.3 L1673.5 1008.3 L1675.5 1008.3 L1677.5 1008.3 L1679.5 1008.3 L1681.5 1008.3 L1683.5 1008.3 L1685.5 1008.3 L1687.5 1008.3 L1689.5 1008.3 L1691.5 1008.3 L1693.5 1008.3 L1695.5 1008.3 L1697.5 1008.3 L1699.5 1008.3 L1701.5 1008.3 L1703.5 1008.3 L1705.5 1008.3 L1707.5 1008.3 L1709.5 1008.3 L1711.5 1008.3 L1713.5 1008.3 L1715.5 1008.3 L1717.5 1008.3 L1719.5 1008.3 L1721.5 1008.3 L1723.5 1008.3 L1725.5 1008.3 L1727.5 1008.3 L1729.5 1008.3 L1731.5 1008.3 L1733.5 1008.3 L1735.5 1008.3 L1737.5 1008.3 L1739.5 1008.3 L1741.5 1008.3 L1743.5 1008.3 L1745.5 1008.3 L1747.5 1008.3 L1749.5 1008.3 L1751.5 1008.3 L1753.5 1008.3 L1755.5 1008.3 L1757.5 1008.3 L1759.5 1008.3 L1761.5 1008.3 L1763.5 1008.3 L1765.5 1008.3 L1767.5 1008.3 L1769.5 1008.3 L1771.5 1008.3 L1773.5 1008.3 L1775.5 1008.3 L1777.5 1008.3 L1779.5 1008.3 L1781.5 1008.3 L1783.5 1008.3 L1785.5 1008.2 L1787.5 1008.2 L1789.5 1008.1 L1791.5 1008.0 L1793.5 1008.0 L1795.5 1007.9 L1797.5 1007.8 L1799.5 1007.7 L1801.5 1007.6 L1803.5 1007.5 L1805.5 1007.4 L1807.5 1007.3 L1809.5 1007.1 L1811.5 1007.0 L1813.5 1006.8 L1815.5 1006.7 L1817.5 1006.5 L1819.5 1006.3 L1821.5 1006.2 L1823.5 1006.1 L1825.5 1005.9 L1827.5 1005.8 L1829.5 1005.7 L1831.5 1005.5 L1833.5 1005.4 L1835.5 1005.3 L1837.5 1005.1 L1839.5 1005.0 L1841.5 1004.9 L1843.5 1004.8 L1845.5 1004.6 L1847.5 1004.5 L1849.5 1004.4 L1851.5 1004.3 L1853.5 1004.3 L1855.5 1004.2 L1857.5 1004.1 L1859.5 1004.0 L1861.5 1003.9 L1863.5 1003.9 L1865.5 1003.8 L1867.5 1003.7 L1869.5 1003.6 L1871.5 1003.6 L1873.5 1003.5 L1875.5 1003.4 L1877.5 1003.3 L1879.5 1003.2 L1881.5 1003.1 L1883.5 1003.0 L1885.5 1002.9 L1887.5 1002.9 L1889.5 1002.8 L1891.5 1002.8 L1893.5 1002.8 L1895.5 1002.8 L1897.5 1002.8 L1899.5 1002.8 L1901.5 1002.8 L1903.5 1002.8 L1905.5 1002.9 L1907.5 1002.9 L1909.5 1002.9 L1911.5 1002.9 L1913.5 1003.0 L1915.5 1003.0 L1917.5 1003.0 L1919.5 1003.0 L1921.5 1003.1 L1923.5 1003.2 L1925.5 1003.3 L1927.5 1003.3 L1929.5 1003.5 L1931.5 1003.6 L1933.5 1003.7 L1935.5 1003.8 L1937.5 1004.0 L1939.5 1004.1 L1941.5 1004.3 L1943.5 1004.6 L1945.5 1004.8 L1947.5 1005.1 L1949.5 1005.5 L1951.5 1005.8 L1953.5 1006.2 L1955.5 1006.6 L1957.5 1006.9 L1959.5 1007.3 L1961.5 1007.6 L1963.5 1007.9 L1965.5 1008.3 L1967.5 1008.6 L1969.5 1009.0 L1971.5 1009.3 L1973.5 1009.7 L1975.5 1010.0 L1977.5 1010.4 L1979.5 1010.8 L1981.5 1011.3 L1983.5 1011.7 L1985.5 1012.3 L1987.5 1012.8 L1989.5 1013.4 L1991.5 1014.0 L1993.5 1014.6 L1995.5 1015.2 L1997.5 1015.8 L1999.5 1016.4 L2001.5 1017.0 L2003.5 1017.6 L2005.5 1018.1 L2007.5 1018.7 L2009.5 1019.1 L2011.5 1019.6 L2013.5 1020.1 L2015.5 1020.6 L2017.5 1021.0 L2019.5 1021.5 L2021.5 1021.9 L2023.5 1022.4 L2025.5 1022.8 L2027.5 1023.3 L2029.5 1023.7 L2031.5 1024.1 L2033.5 1024.6 L2035.5 1025.0 L2037.5 1025.4 L2039.5 1025.8 L2041.5 1026.2 L2043.5 1026.6 L2045.5 1027.1 L2047.5 1027.5 L2049.5 1028.0 L2051.5 1028.5 L2053.5 1029.1 L2055.5 1029.6 L2057.5 1030.2 L2059.5 1030.8 L2061.5 1031.4 L2063.5 1032.0 L2065.5 1032.7 L2067.5 1033.4 L2069.5 1034.1 L2071.5 1034.8 L2073.5 1035.5 L2075.5 1036.2 L2077.5 1037.0 L2079.5 1037.8 L2081.5 1038.7 L2083.5 1039.6 L2085.5 1040.4 L2087.5 1041.3 L2089.5 1042.2 L2091.5 1043.1 L2093.5 1044.0 L2095.5 1044.8 L2097.5 1045.7 L2099.5 1046.5 L2101.5 1047.3 L2103.5 1048.2 L2105.5 1049.0 L2107.5 1049.9 L2109.5 1050.8 L2111.5 1051.8 L2113.5 1052.8 L2115.5 1053.8 L2117.5 1055.0 L2119.5 1056.2 L2121.5 1057.5 L2123.5 1058.8 L2125.5 1060.2 L2127.5 1061.7 L2129.5 1063.2 L2131.5 1064.7 L2133.5 1066.3 L2135.5 1068.0 L2137.5 1069.7 L2139.5 1071.5 L2141.5 1073.4 L2143.5 1075.4 L2145.5 1077.4 L2147.5 1079.4 L2149.5 1081.5 L2151.5 1083.6 L2153.5 1085.8 L2155.5 1088.0 L2157.5 1090.4 L2159.5 1092.8 L2161.5 1095.3 L2163.5 1098.0 L2165.5 1100.8 L2167.5 1103.7 L2169.5 1106.8 L2171.5 1110.1 L2173.5 1113.7 L2175.5 1117.7 L2177.5 1121.9 L2179.5 1126.4 L2181.5 1131.2 L2183.5 1136.5 L2185.5 1142.2 L2187.5 1148.3 L2189.5 1154.6 L2191.5 1161.4 L2193.5 1168.5 L2195.5 1175.8 L2197.5 1183.2 L2199.5 1190.8 L2201.5 1198.5 L2203.5 1206.0 L2205.5 1213.3 L2207.5 1220.5 L2209.5 1227.7 L2211.5 1234.8 L2213.5 1241.7 L2215.5 1248.5 L2217.5 1255.3 L2219.5 1262.2 L2221.5 1269.0 L2223.5 1275.8 L2225.5 1282.7 L2227.5 1289.6 L2229.5 1296.8 L2231.5 1304.1 L2233.5 1311.5 L2235.5 1318.8 L2237.5 1326.2 L2239.5 1333.5 L2241.5 1340.9 L2243.0 1346.4" stroke="#FF0000" stroke-dasharray="43.75 25.00"/>
<path d="M223.5 891.8 L225.5 891.8 L227.5 891.8 L229.5 891.8 L231.5 891.8 L233.5 891.8 L235.5 891.8 L237.5 891.8 L239.5 891.8 L241.5 891.8 L243.5 891.8 L245.5 891.8 L247.5 891.8 L249.5 891.8 L251.5 891.9 L253.5 891.9 L255.5 891.9 L257.5 891.9 L259.5 891.9 L261.5 891.9 L263.5 891.9 L265.5 891.9 L267.5 891.9 L269.5 891.9 L271.5 891.9 L273.5 891.9 L275.5 891.9 L277.5 891.9 L279.5 891.9 L281.5 891.9 L283.5 891.9 L285.5 891.9 L287.5 891.9 L289.5 891.9 L291.5 891.9 L293.5 891.9 L295.5 891.9 L297.5 891.9 L299.5 891.9 L301.5 891.9 L303.5 892.0 L305.5 892.0 L307.5 892.0 L309.5 892.0 L311.5 892.0 L313.5 892.0 L315.5 892.0 L317.5 892.0 L319.5 892.0 L321.5 892.0 L323.5 892.0 L325.5 892.0 L327.5 892.0 L329.5 892.0 L331.5 892.0 L333.5 892.0 L335.5 892.0 L337.5 892.0 L339.5 892.0 L341.5 892.0 L343.5 892.0 L345.5 892.0 L347.5 892.0 L349.5 892.0 L351.5 892.1 L353.5 892.1 L355.5 892.1 L357.5 892.1 L359.5 892.1 L361.5 892.1 L363.5 892.1 L365.5 892.1 L367.5 892.1 L369.5 892.1 L371.5 892.1 L373.5 892.1 L375.5 892.1 L377.5 892.1 L379.5 892.1 L381.5 892.1 L383.5 892.1 L385.5 892.1 L387.5 892.1 L389.5 892.1 L391.5 892.1 L393.5 892.1 L395.5 892.1 L397.5 892.2 L399.5 892.2 L401.5 892.2 L403.5 892.2 L405.5 892.2 L407.5 892.2 L409.5 892.2 L411.5 892.2 L413.5 892.2 L415.5 892.2 L417.5 892.2 L419.5 892.2 L421.5 892.2 L423.5 892.2 L425.5 892.2 L427.5 892.2 L429.5 892.2 L431.5 892.2 L433.5 892.2 L435.5 892.2 L437.5 892.2 L439.5 892.2 L441.5 892.2 L443.5 892.3 L445.5 892.3 L447.5 892.3 L449.5 892.3 L451.5 892.3 L453.5 892.3 L455.5 892.3 L457.5 892.3 L459.5 892.3 L461.5 892.3 L463.5 892.3 L465.5 892.3 L467.5 892.3 L469.5 892.3 L471.5 892.3 L473.5 892.3 L475.5 892.3 L477.5 892.3 L479.5 892.3 L481.5 892.3 L483.5 892.3 L485.5 892.3 L487.5 892.4 L489.5 892.4 L491.5 892.4 L493.5 892.4 L495.5 892.4 L497.5 892.4 L499.5 892.4 L501.5 892.4 L503.5 892.4 L505.5 892.4 L507.5 892.4 L509.5 892.4 L511.5 892.4 L513.5 892.4 L515.5 892.4 L517.5 892.4 L519.5 892.4 L521.5 892.4 L523.5 892.4 L525.5 892.4 L527.5 892.4 L529.5 892.5 L531.5 892.5 L533.5 892.5 L535.5 892.5 L537.5 892.5 L539.5 892.5 L541.5 892.5 L543.5 892.5 L545.5 892.5 L547.5 892.5 L549.5 892.5 L551.5 892.5 L553.5 892.5 L555.5 892.5 L557.5 892.5 L559.5 892.5 L561.5 892.5 L563.5 892.5 L565.5 892.5 L567.5 892.5 L569.5 892.5 L571.5 892.6 L573.5 892.6 L575.5 892.6 L577.5 892.6 L579.5 892.6 L581.5 892.6 L583.5 892.6 L585.5 892.6 L587.5 892.6 L589.5 892.6 L591.5 892.6 L593.5 892.6 L595.5 892.6 L597.5 892.6 L599.5 892.6 L601.5 892.6 L603.5 892.6 L605.5 892.6 L607.5 892.6 L609.5 892.6 L611.5 892.6 L613.5 892.7 L615.5 892.7 L617.5 892.7 L619.5 892.7 L621.5 892.7 L623.5 892.7 L625.5 892.7 L627.5 892.7 L629.5 892.7 L631.5 892.7 L633.5 892.7 L635.5 892.7 L637.5 892.7 L639.5 892.7 L641.5 892.7 L643.5 892.7 L645.5 892.7 L647.5 892.7 L649.5 892.7 L651.5 892.7 L653.5 892.7 L655.5 892.8 L657.5 892.8 L659.5 892.8 L661.5 892.8 L663.5 892.8 L665.5 892.8 L667.5 892.8 L669.5 892.8 L671.5 892.8 L673.5 892.8 L675.5 892.8 L677.5 892.8 L679.5 892.8 L681.5 892.8 L683.5 892.8 L685.5 892.8 L687.5 892.8 L689.5 892.8 L691.5 892.8 L693.5 892.8 L695.5 892.9 L697.5 892.9 L699.5 892.9 L701.5 892.9 L703.5 892.9 L705.5 892.9 L707.5 892.9 L709.5 892.9 L711.5 892.9 L713.5 892.9 L715.5 892.9 L717.5 892.9 L719.5 892.9 L721.5 892.9 L723.5 892.9 L725.5 892.9 L727.5 892.9 L729.5 892.9 L731.5 892.9 L733.5 892.9 L735.5 892.9 L737.5 893.0 L739.5 893.0 L741.5 893.0 L743.5 893.0 L745.5 893.0 L747.5 893.0 L749.5 893.0 L751.5 893.0 L753.5 893.0 L755.5 893.0 L757.5 893.0 L759.5 893.0 L761.5 893.0 L763.5 893.0 L765.5 893.0 L767.5 893.0 L769.5 893.0 L771.5 893.0 L773.5 893.0 L775.5 893.0 L777.5 893.1 L779.5 893.1 L781.5 893.1 L783.5 893.1 L785.5 893.1 L787.5 893.1 L789.5 893.1 L791.5 893.1 L793.5 893.1 L795.5 893.1 L797.5 893.1 L799.5 893.1 L801.5 893.1 L803.5 893.1 L805.5 893.1 L807.5 893.1 L809.5 893.1 L811.5 893.1 L813.5 893.1 L815.5 893.1 L817.5 893.1 L819.5 893.2 L821.5 893.2 L823.5 893.2 L825.5 893.2 L827.5 893.2 L829.5 893.2 L831.5 893.2 L833.5 893.2 L835.5 893.2 L837.5 893.2 L839.5 893.2 L841.5 893.2 L843.5 893.2 L845.5 893.2 L847.5 893.2 L849.5 893.2 L851.5 893.2 L853.5 893.2 L855.5 893.2 L857.5 893.2 L859.5 893.2 L861.5 893.3 L863.5 893.3 L865.5 893.3 L867.5 893.3 L869.5 893.3 L871.5 893.3 L873.5 893.3 L875.5 893.3 L877.5 893.3 L879.5 893.3 L881.5 893.3 L883.5 893.3 L885.5 893.3 L887.5 893.3 L889.5 893.3 L891.5 893.3 L893.5 893.3 L895.5 893.3 L897.5 893.3 L899.5 893.3 L901.5 893.3 L903.5 893.4 L905.5 893.4 L907.5 893.4 L909.5 893.4 L911.5 893.4 L913.5 893.4 L915.5 893.4 L917.5 893.4 L919.5 893.4 L921.5 893.4 L923.5 893.4 L925.5 893.4 L927.5 893.4 L929.5 893.4 L931.5 893.4 L933.5 893.4 L935.5 893.4 L937.5 893.4 L939.5 893.4 L941.5 893.4 L943.5 893.4 L945.5 893.5 L947.5 893.5 L949.5 893.5 L951.5 893.5 L953.5 893.5 L955.5 893.5 L957.5 893.5 L959.5 893.5 L961.5 893.5 L963.5 893.5 L965.5 893.5 L967.5 893.5 L969.5 893.5 L971.5 893.5 L973.5 893.5 L975.5 893.5 L977.5 893.5 L979.5 893.5 L981.5 893.5 L983.5 893.5 L985.5 893.5 L987.5 893.5 L989.5 893.6 L991.5 893.6 L993.5 893.6 L995.5 893.6 L997.5 893.6 L999.5 893.6 L1001.5 893.6 L1003.5 893.6 L1005.5 893.6 L1007.5 893.6 L1009.5 893.6 L1011.5 893.6 L1013.5 893.6 L1015.5 893.6 L1017.5 893.6 L1019.5 893.6 L1021.5 893.6 L1023.5 893.6 L1025.5 893.6 L1027.5 893.6 L1029.5 893.6 L1031.5 893.6 L1033.5 893.6 L1035.5 893.7 L1037.5 893.7 L1039.5 893.7 L1041.5 893.7 L1043.5 893.7 L1045.5 893.7 L1047.5 893.7 L1049.5 893.7 L1051.5 893.7 L1053.5 893.7 L1055.5 893.7 L1057.5 893.7 L1059.5 893.7 L1061.5 893.7 L1063.5 893.7 L1065.5 893.7 L1067.5 893.7 L1069.5 893.7 L1071.5 893.7 L1073.5 893.7 L1075.5 893.7 L1077.5 893.7 L1079.5 893.7 L1081.5 893.8 L1083.5 893.8 L1085.5 893.8 L1087.5 893.8 L1089.5 893.8 L1091.5 893.8 L1093.5 893.8 L1095.5 893.8 L1097.5 893.8 L1099.5 893.8 L1101.5 893.8 L1103.5 893.8 L1105.5 893.8 L1107.5 893.8 L1109.5 893.8 L1111.5 893.8 L1113.5 893.8 L1115.5 893.8 L1117.5 893.8 L1119.5 893.8 L1121.5 893.8 L1123.5 893.8 L1125.5 893.8 L1127.5 893.8 L1129.5 893.8 L1131.5 893.9 L1133.5 893.9 L1135.5 893.9 L1137.5 893.9 L1139.5 893.9 L1141.5 893.9 L1143.5 893.9 L1145.5 893.9 L1147.5 893.9 L1149.5 893.9 L1151.5 893.9 L1153.5 893.9 L1155.5 893.9 L1157.5 893.9 L1159.5 893.9 L1161.5 893.9 L1163.5 893.9 L1165.5 893.9 L1167.5 893.9 L1169.5 893.9 L1171.5 893.9 L1173.5 893.9 L1175.5 893.9 L1177.5 893.9 L1179.5 893.9 L1181.5 894.0 L1183.5 894.0 L1185.5 894.0 L1187.5 894.0 L1189.5 894.0 L1191.5 894.0 L1193.5 894.0 L1195.5 894.0 L1197.5 894.0 L1199.5 894.0 L1201.5 894.0 L1203.5 894.0 L1205.5 894.0 L1207.5 894.0 L1209.5 894.0 L1211.5 894.0 L1213.5 894.0 L1215.5 894.0 L1217.5 894.0 L1219.5 894.0 L1221.5 894.0 L1223.5 894.0 L1225.5 894.0 L1227.5 894.0 L1229.5 894.0 L1231.5 894.0 L1233.5 894.0 L1235.5 894.0 L1237.5 894.1 L1239.5 894.1 L1241.5 894.1 L1243.5 894.1 L1245.5 894.1 L1247.5 894.1 L1249.5 894.1 L1251.5 894.1 L1253.5 894.1 L1255.5 894.1 L1257.5 894.1 L1259.5 894.1 L1261.5 894.1 L1263.5 894.1 L1265.5 894.1 L1267.5 894.1 L1269.5 894.1 L1271.5 894.1 L1273.5 894.1 L1275.5 894.1 L1277.5 894.1 L1279.5 894.1 L1281.5 894.1 L1283.5 894.1 L1285.5 894.1 L1287.5 894.1 L1289.5 894.1 L1291.5 894.1 L1293.5 894.1 L1295.5 894.2 L1297.5 894.2 L1299.5 894.2 L1301.5 894.2 L1303.5 894.2 L1305.5 894.2 L1307.5 894.2 L1309.5 894.2 L1311.5 894.2 L1313.5 894.2 L1315.5 894.2 L1317.5 894.2 L1319.5 894.2 L1321.5 894.2 L1323.5 894.2 L1325.5 894.2 L1327.5 894.2 L1329.5 894.2 L1331.5 894.2 L1333.5 894.2 L1335.5 894.2 L1337.5 894.2 L1339.5 894.2 L1341.5 894.2 L1343.5 894.2 L1345.5 894.2 L1347.5 894.2 L1349.5 894.2 L1351.5 894.2 L1353.5 894.2 L1355.5 894.2 L1357.5 894.2 L1359.5 894.2 L1361.5 894.2 L1363.5 894.3 L1365.5 894.3 L1367.5 894.3 L1369.5 894.3 L1371.5 894.3 L1373.5 894.3 L1375.5 894.3 L1377.5 894.3 L1379.5 894.3 L1381.5 894.3 L1383.5 894.3 L1385.5 894.3 L1387.5 894.3 L1389.5 894.3 L1391.5 894.3 L1393.5 894.3 L1395.5 894.3 L1397.5 894.3 L1399.5 894.3 L1401.5 894.3 L1403.5 894.3 L1405.5 894.3 L1407.5 894.3 L1409.5 894.3 L1411.5 894.3 L1413.5 894.3 L1415.5 894.3 L1417.5 894.3 L1419.5 894.3 L1421.5 894.3 L1423.5 894.3 L1425.5 894.3 L1427.5 894.3 L1429.5 894.3 L1431.5 894.3 L1433.5 894.3 L1435.5 894.3 L1437.5 894.3 L1439.5 894.3 L1441.5 894.3 L1443.5 894.4 L1445.5 894.4 L1447.5 894.4 L1449.5 894.4 L1451.5 894.4 L1453.5 894.4 L1455.5 894.4 L1457.5 894.4 L1459.5 894.4 L1461.5 894.4 L1463.5 894.4 L1465.5 894.4 L1467.5 894.4 L1469.5 894.4 L1471.5 894.4 L1473.5 894.4 L1475.5 894.4 L1477.5 894.4 L1479.5 894.4 L1481.5 894.4 L1483.5 894.4 L1485.5 894.4 L1487.5 894.4 L1489.5 894.4 L1491.5 894.4 L1493.5 894.4 L1495.5 894.4 L1497.5 894.4 L1499.5 894.4 L1501.5 894.4 L1503.5 894.4 L1505.5 894.4 L1507.5 894.4 L1509.5 894.4 L1511.5 894.4 L1513.5 894.4 L1515.5 894.4 L1517.5 894.4 L1519.5 894.4 L1521.5 894.4 L1523.5 894.4 L1525.5 894.4 L1527.5 894.4 L1529.5 894.4 L1531.5 894.4 L1533.5 894.4 L1535.5 894.4 L1537.5 894.4 L1539.5 894.4 L1541.5 894.4 L1543.5 894.4 L1545.5 894.4 L1547.5 894.4 L1549.5 894.4 L1551.5 894.4 L1553.5 894.4 L1555.5 894.5 L1557.5 894.5 L1559.5 894.5 L1561.5 894.5 L1563.5 894.5 L1565.5 894.5 L1567.5 894.5 L1569.5 894.5 L1571.5 894.5 L1573.5 894.5 L1575.5 894.5 L1577.5 894.5 L1579.5 894.5 L1581.5 894.5 L1583.5 894.5 L1585.5 894.5 L1587.5 894.5 L1589.5 894.5 L1591.5 894.5 L1593.5 894.5 L1595.5 894.5 L1597.5 894.5 L1599.5 894.5 L1601.5 894.5 L1603.5 894.5 L1605.5 894.5 L1607.5 894.5 L1609.5 894.5 L1611.5 894.5 L1613.5 894.5 L1615.5 894.5 L1617.5 894.5 L1619.5 894.5 L1621.5 894.5 L1623.5 894.5 L1625.5 894.5 L1627.5 894.5 L1629.5 894.5 L1631.5 894.5 L1633.5 894.5 L1635.5 894.5 L1637.5 894.5 L1639.5 894.5 L1641.5 894.5 L1643.5 894.5 L1645.5 894.5 L1647.5 894.5 L1649.5 894.5 L1651.5 894.5 L1653.5 894.5 L1655.5 894.5 L1657.5 894.5 L1659.5 894.5 L1661.5 894.5 L1663.5 894.5 L1665.5 894.5 L1667.5 894.5 L1669.5 894.5 L1671.5 894.5 L1673.5 894.5 L1675.5 894.5 L1677.5 894.5 L1679.5 894.5 L1681.5 894.5 L1683.5 894.5 L1685.5 894.5 L1687.5 894.5 L1689.5 894.5 L1691.5 894.5 L1693.5 894.5 L1695.5 894.5 L1697.5 894.5 L1699.5 894.5 L1701.5 894.5 L1703.5 894.5 L1705.5 894.5 L1707.5 894.5 L1709.5 894.5 L1711.5 894.5 L1713.5 894.5 L1715.5 894.5 L1717.5 894.5 L1719.5 894.5 L1721.5 894.5 L1723.5 894.5 L1725.5 894.5 L1727.5 894.5 L1729.5 894.5 L1731.5 894.5 L1733.5 894.5 L1735.5 894.5 L1737.5 894.5 L1739.5 894.5 L1741.5 894.5 L1743.5 894.5 L1745.5 894.5 L1747.5 894.5 L1749.5 894.5 L1751.5 894.5 L1753.5 894.5 L1755.5 894.5 L1757.5 894.5 L1759.5 894.5 L1761.5 894.5 L1763.5 894.5 L1765.5 894.5 L1767.5 894.5 L1769.5 894.5 L1771.5 894.4 L1773.5 894.3 L1775.5 894.3 L1777.5 894.2 L1779.5 894.1 L1781.5 894.0 L1783.5 893.9 L1785.5 893.7 L1787.5 893.6 L1789.5 893.5 L1791.5 893.4 L1793.5 893.2 L1795.5 893.0 L1797.5 892.8 L1799.5 892.6 L1801.5 892.4 L1803.5 892.1 L1805.5 891.9 L1807.5 891.6 L1809.5 891.4 L1811.5 891.1 L1813.5 890.8 L1815.5 890.5 L1817.5 890.2 L1819.5 889.8 L1821.5 889.5 L1823.5 889.1 L1825.5 888.8 L1827.5 888.4 L1829.5 888.1 L1831.5 887.8 L1833.5 887.5 L1835.5 887.2 L1837.5 886.9 L1839.5 886.6 L1841.5 886.3 L1843.5 886.0 L1845.5 885.8 L1847.5 885.5 L1849.5 885.2 L1851.5 885.0 L1853.5 884.7 L1855.5 884.4 L1857.5 884.2 L1859.5 883.9 L1861.5 883.6 L1863.5 883.3 L1865.5 883.0 L1867.5 882.7 L1869.5 882.4 L1871.5 882.1 L1873.5 881.8 L1875.5 881.6 L1877.5 881.4 L1879.5 881.2 L1881.5 881.0 L1883.5 880.9 L1885.5 880.7 L1887.5 880.6 L1889.5 880.5 L1891.5 880.4 L1893.5 880.3 L1895.5 880.2 L1897.5 880.1 L1899.5 880.1 L1901.5 880.0 L1903.5 880.0 L1905.5 880.0 L1907.5 880.0 L1909.5 880.1 L1911.5 880.2 L1913.5 880.3 L1915.5 880.5 L1917.5 880.6 L1919.5 880.8 L1921.5 881.0 L1923.5 881.2 L1925.5 881.5 L1927.5 881.7 L1929.5 881.9 L1931.5 882.3 L1933.5 882.7 L1935.5 883.1 L1937.5 883.6 L1939.5 884.1 L1941.5 884.7 L1943.5 885.3 L1945.5 885.9 L1947.5 886.5 L1949.5 887.1 L1951.5 887.8 L1953.5 888.4 L1955.5 889.1 L1957.5 889.9 L1959.5 890.7 L1961.5 891.5 L1963.5 892.3 L1965.5 893.2 L1967.5 894.2 L1969.5 895.1 L1971.5 896.1 L1973.5 897.2 L1975.5 898.3 L1977.5 899.5 L1979.5 900.8 L1981.5 902.1 L1983.5 903.6 L1985.5 905.0 L1987.5 906.5 L1989.5 908.0 L1991.5 909.5 L1993.5 910.9 L1995.5 912.3 L1997.5 913.8 L1999.5 915.2 L2001.5 916.6 L2003.5 918.1 L2005.5 919.5 L2007.5 921.0 L2009.5 922.5 L2011.5 924.0 L2013.5 925.5 L2015.5 927.0 L2017.5 928.5 L2019.5 930.0 L2021.5 931.6 L2023.5 933.2 L2025.5 934.8 L2027.5 936.4 L2029.5 938.1 L2031.5 939.8 L2033.5 941.6 L2035.5 943.4 L2037.5 945.2 L2039.5 947.1 L2041.5 949.0 L2043.5 950.9 L2045.5 952.8 L2047.5 954.7 L2049.5 956.6 L2051.5 958.5 L2053.5 960.4 L2055.5 962.4 L2057.5 964.3 L2059.5 966.3 L2061.5 968.2 L2063.5 970.2 L2065.5 972.3 L2067.5 974.4 L2069.5 976.5 L2071.5 978.7 L2073.5 980.9 L2075.5 983.1 L2077.5 985.3 L2079.5 987.6 L2081.5 989.9 L2083.5 992.1 L2085.5 994.5 L2087.5 996.8 L2089.5 999.2 L2091.5 1001.6 L2093.5 1004.0 L2095.5 1006.3 L2097.5 1008.6 L2099.5 1010.9 L2101.5 1013.0 L2103.5 1015.1 L2105.5 1017.1 L2107.5 1019.1 L2109.5 1021.2 L2111.5 1023.4 L2113.5 1025.7 L2115.5 1028.2 L2117.5 1030.7 L2119.5 1033.3 L2121.5 1036.0 L2123.5 1038.7 L2125.5 1041.4 L2127.5 1044.1 L2129.5 1046.7 L2131.5 1049.3 L2133.5 1051.9 L2135.5 1054.5 L2137.5 1057.1 L2139.5 1059.8 L2141.5 1062.5 L2143.5 1065.3 L2145.5 1068.0 L2147.5 1070.8 L2149.5 1073.6 L2151.5 1076.6 L2153.5 1079.6 L2155.5 1082.8 L2157.5 1086.2 L2159.5 1089.6 L2161.5 1093.3 L2163.5 1097.0 L2165.5 1101.0 L2167.5 1105.1 L2169.5 1109.5 L2171.5 1114.1 L2173.5 1118.9 L2175.5 1123.8 L2177.5 1128.8 L2179.5 1134.0 L2181.5 1139.4 L2183.5 1144.9 L2185.5 1150.6 L2187.5 1156.4 L2189.5 1162.4 L2191.5 1168.7 L2193.5 1175.0 L2195.5 1181.4 L2197.5 1187.9 L2199.5 1194.5 L2201.5 1201.2 L2203.5 1207.9 L2205.5 1214.8 L2207.5 1221.8 L2209.5 1228.9 L2211.5 1235.7 L2213.5 1242.2 L2215.5 1248.7 L2217.5 1255.1 L2219.5 1261.7 L2221.5 1268.4 L2223.5 1275.2 L2225.5 1282.1 L2227.5 1289.1 L2229.5 1296.3 L2231.5 1303.7 L2233.5 1311.1 L2235.5 1318.5 L2237.5 1325.9 L2239.5 1333.4 L2241.5 1340.8 L2243.0 1346.4" stroke="#FF0000" stroke-dasharray="43.75 25.00 0.00 25.00 0.00 25.00"/>
<path d="M223.5 666.8 L225.5 666.8 L227.5 666.8 L229.5 666.8 L231.5 666.8 L233.5 666.8 L235.5 666.8 L237.5 666.8 L239.5 666.8 L241.5 666.8 L243.5 666.8 L245.5 666.8 L247.5 666.8 L249.5 666.8 L251.5 666.9 L253.5 666.9 L255.5 666.9 L257.5 666.9 L259.5 666.9 L261.5 666.9 L263.5 666.9 L265.5 666.9 L267.5 666.9 L269.5 666.9 L271.5 666.9 L273.5 666.9 L275.5 666.9 L277.5 666.9 L279.5 666.9 L281.5 666.9 L283.5 666.9 L285.5 666.9 L287.5 666.9 L289.5 666.9 L291.5 666.9 L293.5 666.9 L295.5 666.9 L297.5 666.9 L299.5 666.9 L301.5 666.9 L303.5 667.0 L305.5 667.0 L307.5 667.0 L309.5 667.0 L311.5 667.0 L313.5 667.0 L315.5 667.0 L317.5 667.0 L319.5 667.0 L321.5 667.0 L323.5 667.0 L325.5 667.0 L327.5 667.0 L329.5 667.0 L331.5 667.0 L333.5 667.0 L335.5 667.0 L337.5 667.0 L339.5 667.0 L341.5 667.0 L343.5 667.0 L345.5 667.0 L347.5 667.0 L349.5 667.0 L351.5 667.0 L353.5 667.0 L355.5 667.0 L357.5 667.1 L359.5 667.1 L361.5 667.1 L363.5 667.1 L365.5 667.1 L367.5 667.1 L369.5 667.1 L371.5 667.1 L373.5 667.1 L375.5 667.1 L377.5 667.1 L379.5 667.1 L381.5 667.1 L383.5 667.1 L385.5 667.1 L387.5 667.1 L389.5 667.1 L391.5 667.1 L393.5 667.1 L395.5 667.1 L397.5 667.1 L399.5 667.1 L401.5 667.1 L403.5 667.1 L405.5 667.1 L407.5 667.1 L409.5 667.1 L411.5 667.2 L413.5 667.2 L415.5 667.2 L417.5 667.2 L419.5 667.2 L421.5 667.2 L423.5 667.2 L425.5 667.2 L427.5 667.2 L429.5 667.2 L431.5 667.2 L433.5 667.2 L435.5 667.2 L437.5 667.2 L439.5 667.2 L441.5 667.2 L443.5 667.2 L445.5 667.2 L447.5 667.2 L449.5 667.2 L451.5 667.2 L453.5 667.2 L455.5 667.2 L457.5 667.2 L459.5 667.2 L461.5 667.2 L463.5 667.2 L465.5 667.3 L467.5 667.3 L469.5 667.3 L471.5 667.3 L473.5 667.3 L475.5 667.3 L477.5 667.3 L479.5 667.3 L481.5 667.3 L483.5 667.3 L485.5 667.3 L487.5 667.3 L489.5 667.3 L491.5 667.3 L493.5 667.3 L495.5 667.3 L497.5 667.3 L499.5 667.3 L501.5 667.3 L503.5 667.3 L505.5 667.3 L507.5 667.3 L509.5 667.3 L511.5 667.3 L513.5 667.3 L515.5 667.3 L517.5 667.3 L519.5 667.4 L521.5 667.4 L523.5 667.4 L525.5 667.4 L527.5 667.4 L529.5 667.4 L531.5 667.4 L533.5 667.4 L535.5 667.4 L537.5 667.4 L539.5 667.4 L541.5 667.4 L543.5 667.4 L545.5 667.4 L547.5 667.4 L549.5 667.4 L551.5 667.4 L553.5 667.4 L555.5 667.4 L557.5 667.4 L559.5 667.4 L561.5 667.4 L563.5 667.4 L565.5 667.4 L567.5 667.4 L569.5 667.4 L571.5 667.5 L573.5 667.5 L575.5 667.5 L577.5 667.5 L579.5 667.5 L581.5 667.5 L583.5 667.5 L585.5 667.5 L587.5 667.5 L589.5 667.5 L591.5 667.5 L593.5 667.5 L595.5 667.5 L597.5 667.5 L599.5 667.5 L601.5 667.5 L603.5 667.5 L605.5 667.5 L607.5 667.5 L609.5 667.5 L611.5 667.5 L613.5 667.5 L615.5 667.5 L617.5 667.5 L619.5 667.5 L621.5 667.5 L623.5 667.5 L625.5 667.6 L627.5 667.6 L629.5 667.6 L631.5 667.6 L633.5 667.6 L635.5 667.6 L637.5 667.6 L639.5 667.6 L641.5 667.6 L643.5 667.6 L645.5 667.6 L647.5 667.6 L649.5 667.6 L651.5 667.6 L653.5 667.6 L655.5 667.6 L657.5 667.6 L659.5 667.6 L661.5 667.6 L663.5 667.6 L665.5 667.6 L667.5 667.6 L669.5 667.6 L671.5 667.6 L673.5 667.6 L675.5 667.6 L677.5 667.6 L679.5 667.7 L681.5 667.7 L683.5 667.7 L685.5 667.7 L687.5 667.7 L689.5 667.7 L691.5 667.7 L693.5 667.7 L695.5 667.7 L697.5 667.7 L699.5 667.7 L701.5 667.7 L703.5 667.7 L705.5 667.7 L707.5 667.7 L709.5 667.7 L711.5 667.7 L713.5 667.7 L715.5 667.7 L717.5 667.7 L719.5 667.7 L721.5 667.7 L723.5 667.7 L725.5 667.7 L727.5 667.7 L729.5 667.7 L731.5 667.7 L733.5 667.8 L735.5 667.8 L737.5 667.8 L739.5 667.8 L741.5 667.8 L743.5 667.8 L745.5 667.8 L747.5 667.8 L749.5 667.8 L751.5 667.8 L753.5 667.8 L755.5 667.8 L757.5 667.8 L759.5 667.8 L761.5 667.8 L763.5 667.8 L765.5 667.8 L767.5 667.8 L769.5 667.8 L771.5 667.8 L773.5 667.8 L775.5 667.8 L777.5 667.8 L779.5 667.8 L781.5 667.8 L783.5 667.8 L785.5 667.8 L787.5 667.9 L789.5 667.9 L791.5 667.9 L793.5 667.9 L795.5 667.9 L797.5 667.9 L799.5 667.9 L801.5 667.9 L803.5 667.9 L805.5 667.9 L807.5 667.9 L809.5 667.9 L811.5 667.9 L813.5 667.9 L815.5 667.9 L817.5 667.9 L819.5 667.9 L821.5 667.9 L823.5 667.9 L825.5 667.9 L827.5 667.9 L829.5 667.9 L831.5 667.9 L833.5 667.9 L835.5 667.9 L837.5 667.9 L839.5 668.0 L841.5 668.0 L843.5 668.0 L845.5 668.0 L847.5 668.0 L849.5 668.0 L851.5 668.0 L853.5 668.0 L855.5 668.0 L857.5 668.0 L859.5 668.0 L861.5 668.0 L863.5 668.0 L865.5 668.0 L867.5 668.0 L869.5 668.0 L871.5 668.0 L873.5 668.0 L875.5 668.0 L877.5 668.0 L879.5 668.0 L881.5 668.0 L883.5 668.0 L885.5 668.0 L887.5 668.0 L889.5 668.0 L891.5 668.0 L893.5 668.1 L895.5 668.1 L897.5 668.1 L899.5 668.1 L901.5 668.1 L903.5 668.1 L905.5 668.1 L907.5 668.1 L909.5 668.1 L911.5 668.1 L913.5 668.1 L915.5 668.1 L917.5 668.1 L919.5 668.1 L921.5 668.1 L923.5 668.1 L925.5 668.1 L927.5 668.1 L929.5 668.1 L931.5 668.1 L933.5 668.1 L935.5 668.1 L937.5 668.1 L939.5 668.1 L941.5 668.1 L943.5 668.1 L945.5 668.1 L947.5 668.2 L949.5 668.2 L951.5 668.2 L953.5 668.2 L955.5 668.2 L957.5 668.2 L959.5 668.2 L961.5 668.2 L963.5 668.2 L965.5 668.2 L967.5 668.2 L969.5 668.2 L971.5 668.2 L973.5 668.2 L975.5 668.2 L977.5 668.2 L979.5 668.2 L981.5 668.2 L983.5 668.2 L985.5 668.2 L987.5 668.2 L989.5 668.2 L991.5 668.2 L993.5 668.2 L995.5 668.2 L997.5 668.2 L999.5 668.3 L1001.5 668.3 L1003.5 668.3 L1005.5 668.3 L1007.5 668.3 L1009.5 668.3 L1011.5 668.3 L1013.5 668.3 L1015.5 668.3 L1017.5 668.3 L1019.5 668.3 L1021.5 668.3 L1023.5 668.3 L1025.5 668.3 L1027.5 668.3 L1029.5 668.3 L1031.5 668.3 L1033.5 668.3 L1035.5 668.3 L1037.5 668.3 L1039.5 668.3 L1041.5 668.3 L1043.5 668.3 L1045.5 668.3 L1047.5 668.3 L1049.5 668.3 L1051.5 668.4 L1053.5 668.4 L1055.5 668.4 L1057.5 668.4 L1059.5 668.4 L1061.5 668.4 L1063.5 668.4 L1065.5 668.4 L1067.5 668.4 L1069.5 668.4 L1071.5 668.4 L1073.5 668.4 L1075.5 668.4 L1077.5 668.4 L1079.5 668.4 L1081.5 668.4 L1083.5 668.4 L1085.5 668.4 L1087.5 668.4 L1089.5 668.4 L1091.5 668.4 L1093.5 668.4 L1095.5 668.4 L1097.5 668.4 L1099.5 668.4 L1101.5 668.4 L1103.5 668.4 L1105.5 668.5 L1107.5 668.5 L1109.5 668.5 L1111.5 668.5 L1113.5 668.5 L1115.5 668.5 L1117.5 668.5 L1119.5 668.5 L1121.5 668.5 L1123.5 668.5 L1125.5 668.5 L1127.5 668.5 L1129.5 668.5 L1131.5 668.5 L1133.5 668.5 L1135.5 668.5 L1137.5 668.5 L1139.5 668.5 L1141.5 668.5 L1143.5 668.5 L1145.5 668.5 L1147.5 668.5 L1149.5 668.5 L1151.5 668.5 L1153.5 668.5 L1155.5 668.5 L1157.5 668.6 L1159.5 668.6 L1161.5 668.6 L1163.5 668.6 L1165.5 668.6 L1167.5 668.6 L1169.5 668.6 L1171.5 668.6 L1173.5 668.6 L1175.5 668.6 L1177.5 668.6 L1179.5 668.6 L1181.5 668.6 L1183.5 668.6 L1185.5 668.6 L1187.5 668.6 L1189.5 668.6 L1191.5 668.6 L1193.5 668.6 L1195.5 668.6 L1197.5 668.6 L1199.5 668.6 L1201.5 668.6 L1203.5 668.6 L1205.5 668.6 L1207.5 668.7 L1209.5 668.7 L1211.5 668.7 L1213.5 668.7 L1215.5 668.7 L1217.5 668.7 L1219.5 668.7 L1221.5 668.7 L1223.5 668.7 L1225.5 668.7 L1227.5 668.7 L1229.5 668.7 L1231.5 668.7 L1233.5 668.7 L1235.5 668.7 L1237.5 668.7 L1239.5 668.7 L1241.5 668.7 L1243.5 668.7 L1245.5 668.7 L1247.5 668.7 L1249.5 668.7 L1251.5 668.7 L1253.5 668.7 L1255.5 668.7 L1257.5 668.7 L1259.5 668.8 L1261.5 668.8 L1263.5 668.8 L1265.5 668.8 L1267.5 668.8 L1269.5 668.8 L1271.5 668.8 L1273.5 668.8 L1275.5 668.8 L1277.5 668.8 L1279.5 668.8 L1281.5 668.8 L1283.5 668.8 L1285.5 668.8 L1287.5 668.8 L1289.5 668.8 L1291.5 668.8 L1293.5 668.8 L1295.5 668.8 L1297.5 668.8 L1299.5 668.8 L1301.5 668.8 L1303.5 668.8 L1305.5 668.8 L1307.5 668.8 L1309.5 668.9 L1311.5 668.9 L1313.5 668.9 L1315.5 668.9 L1317.5 668.9 L1319.5 668.9 L1321.5 668.9 L1323.5 668.9 L1325.5 668.9 L1327.5 668.9 L1329.5 668.9 L1331.5 668.9 L1333.5 668.9 L1335.5 668.9 L1337.5 668.9 L1339.5 668.9 L1341.5 668.9 L1343.5 668.9 L1345.5 668.9 L1347.5 668.9 L1349.5 668.9 L1351.5 668.9 L1353.5 669.0 L1355.5 669.0 L1357.5 669.0 L1359.5 669.0 L1361.5 669.0 L1363.5 669.0 L1365.5 669.0 L1367.5 669.0 L1369.5 669.0 L1371.5 669.0 L1373.5 669.0 L1375.5 669.0 L1377.5 669.0 L1379.5 669.0 L1381.5 669.0 L1383.5 669.0 L1385.5 669.0 L1387.5 669.0 L1389.5 669.0 L1391.5 669.1 L1393.5 669.1 L1395.5 669.1 L1397.5 669.1 L1399.5 669.1 L1401.5 669.1 L1403.5 669.1 L1405.5 669.1 L1407.5 669.1 L1409.5 669.1 L1411.5 669.1 L1413.5 669.1 L1415.5 669.1 L1417.5 669.1 L1419.5 669.1 L1421.5 669.1 L1423.5 669.1 L1425.5 669.1 L1427.5 669.1 L1429.5 669.2 L1431.5 669.2 L1433.5 669.2 L1435.5 669.2 L1437.5 669.2 L1439.5 669.2 L1441.5 669.2 L1443.5 669.2 L1445.5 669.2 L1447.5 669.2 L1449.5 669.2 L1451.5 669.2 L1453.5 669.2 L1455.5 669.2 L1457.5 669.2 L1459.5 669.2 L1461.5 669.2 L1463.5 669.2 L1465.5 669.2 L1467.5 669.3 L1469.5 669.3 L1471.5 669.3 L1473.5 669.3 L1475.5 669.3 L1477.5 669.3 L1479.5 669.3 L1481.5 669.3 L1483.5 669.3 L1485.5 669.3 L1487.5 669.3 L1489.5 669.3 L1491.5 669.3 L1493.5 669.3 L1495.5 669.3 L1497.5 669.3 L1499.5 669.3 L1501.5 669.3 L1503.5 669.4 L1505.5 669.4 L1507.5 669.4 L1509.5 669.4 L1511.5 669.4 L1513.5 669.4 L1515.5 669.4 L1517.5 669.4 L1519.5 669.4 L1521.5 669.4 L1523.5 669.4 L1525.5 669.4 L1527.5 669.4 L1529.5 669.4 L1531.5 669.4 L1533.5 669.4 L1535.5 669.4 L1537.5 669.4 L1539.5 669.4 L1541.5 669.4 L1543.5 669.5 L1545.5 669.5 L1547.5 669.5 L1549.5 669.5 L1551.5 669.5 L1553.5 669.5 L1555.5 669.5 L1557.5 669.5 L1559.5 669.5 L1561.5 669.5 L1563.5 669.5 L1565.5 669.5 L1567.5 669.5 L1569.5 669.5 L1571.5 669.5 L1573.5 669.5 L1575.5 669.5 L1577.5 669.5 L1579.5 669.5 L1581.5 669.5 L1583.5 669.5 L1585.5 669.6 L1587.5 669.6 L1589.5 669.6 L1591.5 669.6 L1593.5 669.6 L1595.5 669.6 L1597.5 669.6 L1599.5 669.6 L1601.5 669.6 L1603.5 669.6 L1605.5 669.6 L1607.5 669.6 L1609.5 669.6 L1611.5 669.6 L1613.5 669.6 L1615.5 669.6 L1617.5 669.6 L1619.5 669.6 L1621.5 669.6 L1623.5 669.6 L1625.5 669.6 L1627.5 669.6 L1629.5 669.6 L1631.5 669.6 L1633.5 669.7 L1635.5 669.7 L1637.5 669.7 L1639.5 669.7 L1641.5 669.7 L1643.5 669.7 L1645.5 669.7 L1647.5 669.7 L1649.5 669.7 L1651.5 669.7 L1653.5 669.7 L1655.5 669.7 L1657.5 669.7 L1659.5 669.7 L1661.5 669.7 L1663.5 669.7 L1665.5 669.7 L1667.5 669.7 L1669.5 669.7 L1671.5 669.7 L1673.5 669.7 L1675.5 669.7 L1677.5 669.7 L1679.5 669.7 L1681.5 669.7 L1683.5 669.7 L1685.5 669.7 L1687.5 669.7 L1689.5 669.7 L1691.5 669.7 L1693.5 669.7 L1695.5 669.7 L1697.5 669.8 L1699.5 669.8 L1701.5 669.8 L1703.5 669.8 L1705.5 669.8 L1707.5 669.8 L1709.5 669.8 L1711.5 669.8 L1713.5 669.8 L1715.5 669.8 L1717.5 669.8 L1719.5 669.8 L1721.5 669.8 L1723.5 669.8 L1725.5 669.8 L1727.5 669.8 L1729.5 669.8 L1731.5 669.8 L1733.5 669.8 L1735.5 669.8 L1737.5 669.8 L1739.5 669.8 L1741.5 669.8 L1743.5 669.8 L1745.5 669.8 L1747.5 669.8 L1749.5 669.8 L1751.5 669.8 L1753.5 669.8 L1755.5 669.8 L1757.5 669.8 L1759.5 669.8 L1761.5 669.8 L1763.5 669.8 L1765.5 669.8 L1767.5 669.8 L1769.5 669.8 L1771.5 669.8 L1773.5 669.8 L1775.5 669.8 L1777.5 669.8 L1779.5 669.7 L1781.5 669.4 L1783.5 669.2 L1785.5 668.9 L1787.5 668.6 L1789.5 668.2 L1791.5 667.8 L1793.5 667.4 L1795.5 666.9 L1797.5 666.5 L1799.5 666.0 L1801.5 665.5 L1803.5 665.0 L1805.5 664.4 L1807.5 663.9 L1809.5 663.3 L1811.5 662.6 L1813.5 662.0 L1815.5 661.3 L1817.5 660.6 L1819.5 660.0 L1821.5 659.3 L1823.5 658.6 L1825.5 657.9 L1827.5 657.3 L1829.5 656.6 L1831.5 655.9 L1833.5 655.3 L1835.5 654.6 L1837.5 653.9 L1839.5 653.2 L1841.5 652.5 L1843.5 651.8 L1845.5 651.2 L1847.5 650.5 L1849.5 649.9 L1851.5 649.2 L1853.5 648.6 L1855.5 648.0 L1857.5 647.4 L1859.5 646.8 L1861.5 646.2 L1863.5 645.6 L1865.5 645.1 L1867.5 644.5 L1869.5 644.0 L1871.5 643.4 L1873.5 642.9 L1875.5 642.5 L1877.5 642.0 L1879.5 641.6 L1881.5 641.2 L1883.5 640.8 L1885.5 640.4 L1887.5 640.0 L1889.5 639.6 L1891.5 639.3 L1893.5 639.0 L1895.5 638.7 L1897.5 638.6 L1899.5 638.5 L1901.5 638.5 L1903.5 638.6 L1905.5 638.7 L1907.5 638.9 L1909.5 639.1 L1911.5 639.4 L1913.5 639.6 L1915.5 639.9 L1917.5 640.3 L1919.5 640.6 L1921.5 641.0 L1923.5 641.4 L1925.5 642.0 L1927.5 642.6 L1929.5 643.3 L1931.5 644.1 L1933.5 644.9 L1935.5 645.7 L1937.5 646.5 L1939.5 647.3 L1941.5 648.2 L1943.5 649.1 L1945.5 650.1 L1947.5 651.2 L1949.5 652.4 L1951.5 653.7 L1953.5 655.2 L1955.5 656.9 L1957.5 658.8 L1959.5 660.9 L1961.5 663.1 L1963.5 665.3 L1965.5 667.5 L1967.5 669.6 L1969.5 671.8 L1971.5 674.0 L1973.5 676.3 L1975.5 678.7 L1977.5 681.1 L1979.5 683.6 L1981.5 686.1 L1983.5 688.8 L1985.5 691.6 L1987.5 694.5 L1989.5 697.4 L1991.5 700.5 L1993.5 703.7 L1995.5 707.0 L1997.5 710.4 L1999.5 714.0 L2001.5 717.7 L2003.5 721.5 L2005.5 725.3 L2007.5 729.2 L2009.5 733.1 L2011.5 737.0 L2013.5 741.0 L2015.5 745.1 L2017.5 749.1 L2019.5 753.1 L2021.5 757.0 L2023.5 761.0 L2025.5 764.9 L2027.5 769.0 L2029.5 773.1 L2031.5 777.3 L2033.5 781.6 L2035.5 786.0 L2037.5 790.4 L2039.5 794.8 L2041.5 799.2 L2043.5 803.5 L2045.5 807.7 L2047.5 812.1 L2049.5 816.5 L2051.5 821.1 L2053.5 826.1 L2055.5 831.2 L2057.5 836.3 L2059.5 841.3 L2061.5 846.0 L2063.5 850.4 L2065.5 854.7 L2067.5 859.0 L2069.5 863.3 L2071.5 867.8 L2073.5 872.3 L2075.5 876.8 L2077.5 881.4 L2079.5 886.1 L2081.5 890.8 L2083.5 895.7 L2085.5 900.7 L2087.5 905.7 L2089.5 910.7 L2091.5 915.8 L2093.5 920.9 L2095.5 926.0 L2097.5 931.2 L2099.5 936.3 L2101.5 941.5 L2103.5 946.8 L2105.5 952.0 L2107.5 957.1 L2109.5 962.0 L2111.5 966.9 L2113.5 971.6 L2115.5 976.4 L2117.5 981.1 L2119.5 985.9 L2121.5 990.6 L2123.5 995.4 L2125.5 1000.3 L2127.5 1005.3 L2129.5 1010.5 L2131.5 1016.0 L2133.5 1021.5 L2135.5 1026.7 L2137.5 1031.7 L2139.5 1036.4 L2141.5 1041.1 L2143.5 1045.8 L2145.5 1050.8 L2147.5 1055.9 L2149.5 1061.2 L2151.5 1066.6 L2153.5 1072.2 L2155.5 1077.8 L2157.5 1083.5 L2159.5 1089.3 L2161.5 1095.1 L2163.5 1100.9 L2165.5 1106.8 L2167.5 1112.7 L2169.5 1118.5 L2171.5 1124.4 L2173.5 1130.2 L2175.5 1136.1 L2177.5 1141.9 L2179.5 1147.8 L2181.5 1153.7 L2183.5 1159.6 L2185.5 1165.5 L2187.5 1171.5 L2189.5 1177.5 L2191.5 1183.5 L2193.5 1189.6 L2195.5 1195.7 L2197.5 1201.8 L2199.5 1208.0 L2201.5 1214.1 L2203.5 1220.2 L2205.5 1226.4 L2207.5 1232.5 L2209.5 1238.6 L2211.5 1244.8 L2213.5 1251.0 L2215.5 1257.2 L2217.5 1263.4 L2219.5 1269.6 L2221.5 1275.9 L2223.5 1282.2 L2225.5 1288.5 L2227.5 1294.9 L2229.5 1301.4 L2231.5 1307.9 L2233.5 1314.5 L2235.5 1321.2 L2237.5 1327.9 L2239.5 1334.7 L2241.5 1341.4 L2243.0 1346.4" stroke="#FF0000" stroke-dasharray="12.50 12.50"/>
<path d="M223.5 234.7 L225.5 234.7 L227.5 234.7 L229.5 234.7 L231.5 234.7 L233.5 234.7 L235.5 234.7 L237.5 234.7 L239.5 234.7 L241.5 234.7 L243.5 234.7 L245.5 234.7 L247.5 234.7 L249.5 234.7 L251.5 234.8 L253.5 234.8 L255.5 234.8 L257.5 234.8 L259.5 234.8 L261.5 234.8 L263.5 234.8 L265.5 234.8 L267.5 234.8 L269.5 234.8 L271.5 234.8 L273.5 234.8 L275.5 234.8 L277.5 234.8 L279.5 234.8 L281.5 234.8 L283.5 234.8 L285.5 234.8 L287.5 234.8 L289.5 234.8 L291.5 234.8 L293.5 234.8 L295.5 234.8 L297.5 234.8 L299.5 234.8 L301.5 234.8 L303.5 234.8 L305.5 234.9 L307.5 234.9 L309.5 234.9 L311.5 234.9 L313.5 234.9 L315.5 234.9 L317.5 234.9 L319.5 234.9 L321.5 234.9 L323.5 234.9 L325.5 234.9 L327.5 234.9 L329.5 234.9 L331.5 234.9 L333.5 234.9 L335.5 234.9 L337.5 234.9 L339.5 234.9 L341.5 234.9 L343.5 234.9 L345.5 234.9 L347.5 234.9 L349.5 234.9 L351.5 234.9 L353.5 234.9 L355.5 235.0 L357.5 235.0 L359.5 235.0 L361.5 235.0 L363.5 235.0 L365.5 235.0 L367.5 235.0 L369.5 235.0 L371.5 235.0 L373.5 235.0 L375.5 235.0 L377.5 235.0 L379.5 235.0 L381.5 235.0 L383.5 235.0 L385.5 235.0 L387.5 235.0 L389.5 235.0 L391.5 235.0 L393.5 235.0 L395.5 235.0 L397.5 235.0 L399.5 235.0 L401.5 235.0 L403.5 235.1 L405.5 235.1 L407.5 235.1 L409.5 235.1 L411.5 235.1 L413.5 235.1 L415.5 235.1 L417.5 235.1 L419.5 235.1 L421.5 235.1 L423.5 235.1 L425.5 235.1 L427.5 235.1 L429.5 235.1 L431.5 235.1 L433.5 235.1 L435.5 235.1 L437.5 235.1 L439.5 235.1 L441.5 235.1 L443.5 235.1 L445.5 235.1 L447.5 235.1 L449.5 235.2 L451.5 235.2 L453.5 235.2 L455.5 235.2 L457.5 235.2 L459.5 235.2 L461.5 235.2 L463.5 235.2 L465.5 235.2 L467.5 235.2 L469.5 235.2 L471.5 235.2 L473.5 235.2 L475.5 235.2 L477.5 235.2 L479.5 235.2 L481.5 235.2 L483.5 235.2 L485.5 235.2 L487.5 235.2 L489.5 235.2 L491.5 235.2 L493.5 235.3 L495.5 235.3 L497.5 235.3 L499.5 235.3 L501.5 235.3 L503.5 235.3 L505.5 235.3 L507.5 235.3 L509.5 235.3 L511.5 235.3 L513.5 235.3 L515.5 235.3 L517.5 235.3 L519.5 235.3 L521.5 235.3 L523.5 235.3 L525.5 235.3 L527.5 235.3 L529.5 235.3 L531.5 235.3 L533.5 235.3 L535.5 235.3 L537.5 235.4 L539.5 235.4 L541.5 235.4 L543.5 235.4 L545.5 235.4 L547.5 235.4 L549.5 235.4 L551.5 235.4 L553.5 235.4 L555.5 235.4 L557.5 235.4 L559.5 235.4 L561.5 235.4 L563.5 235.4 L565.5 235.4 L567.5 235.4 L569.5 235.4 L571.5 235.4 L573.5 235.4 L575.5 235.4 L577.5 235.4 L579.5 235.4 L581.5 235.5 L583.5 235.5 L585.5 235.5 L587.5 235.5 L589.5 235.5 L591.5 235.5 L593.5 235.5 L595.5 235.5 L597.5 235.5 L599.5 235.5 L601.5 235.5 L603.5 235.5 L605.5 235.5 L607.5 235.5 L609.5 235.5 L611.5 235.5 L613.5 235.5 L615.5 235.5 L617.5 235.5 L619.5 235.5 L621.5 235.5 L623.5 235.6 L625.5 235.6 L627.5 235.6 L629.5 235.6 L631.5 235.6 L633.5 235.6 L635.5 235.6 L637.5 235.6 L639.5 235.6 L641.5 235.6 L643.5 235.6 L645.5 235.6 L647.5 235.6 L649.5 235.6 L651.5 235.6 L653.5 235.6 L655.5 235.6 L657.5 235.6 L659.5 235.6 L661.5 235.6 L663.5 235.6 L665.5 235.6 L667.5 235.7 L669.5 235.7 L671.5 235.7 L673.5 235.7 L675.5 235.7 L677.5 235.7 L679.5 235.7 L681.5 235.7 L683.5 235.7 L685.5 235.7 L687.5 235.7 L689.5 235.7 L691.5 235.7 L693.5 235.7 L695.5 235.7 L697.5 235.7 L699.5 235.7 L701.5 235.7 L703.5 235.7 L705.5 235.7 L707.5 235.7 L709.5 235.8 L711.5 235.8 L713.5 235.8 L715.5 235.8 L717.5 235.8 L719.5 235.8 L721.5 235.8 L723.5 235.8 L725.5 235.8 L727.5 235.8 L729.5 235.8 L731.5 235.8 L733.5 235.8 L735.5 235.8 L737.5 235.8 L739.5 235.8 L741.5 235.8 L743.5 235.8 L745.5 235.8 L747.5 235.8 L749.5 235.8 L751.5 235.9 L753.5 235.9 L755.5 235.9 L757.5 235.9 L759.5 235.9 L761.5 235.9 L763.5 235.9 L765.5 235.9 L767.5 235.9 L769.5 235.9 L771.5 235.9 L773.5 235.9 L775.5 235.9 L777.5 235.9 L779.5 235.9 L781.5 235.9 L783.5 235.9 L785.5 235.9 L787.5 235.9 L789.5 235.9 L791.5 235.9 L793.5 235.9 L795.5 236.0 L797.5 236.0 L799.5 236.0 L801.5 236.0 L803.5 236.0 L805.5 236.0 L807.5 236.0 L809.5 236.0 L811.5 236.0 L813.5 236.0 L815.5 236.0 L817.5 236.0 L819.5 236.0 L821.5 236.0 L823.5 236.0 L825.5 236.0 L827.5 236.0 L829.5 236.0 L831.5 236.0 L833.5 236.0 L835.5 236.0 L837.5 236.1 L839.5 236.1 L841.5 236.1 L843.5 236.1 L845.5 236.1 L847.5 236.1 L849.5 236.1 L851.5 236.1 L853.5 236.1 L855.5 236.1 L857.5 236.1 L859.5 236.1 L861.5 236.1 L863.5 236.1 L865.5 236.1 L867.5 236.1 L869.5 236.1 L871.5 236.1 L873.5 236.1 L875.5 236.1 L877.5 236.1 L879.5 236.1 L881.5 236.1 L883.5 236.2 L885.5 236.2 L887.5 236.2 L889.5 236.2 L891.5 236.2 L893.5 236.2 L895.5 236.2 L897.5 236.2 L899.5 236.2 L901.5 236.2 L903.5 236.2 L905.5 236.2 L907.5 236.2 L909.5 236.2 L911.5 236.2 L913.5 236.2 L915.5 236.2 L917.5 236.2 L919.5 236.2 L921.5 236.2 L923.5 236.2 L925.5 236.2 L927.5 236.3 L929.5 236.3 L931.5 236.3 L933.5 236.3 L935.5 236.3 L937.5 236.3 L939.5 236.3 L941.5 236.3 L943.5 236.3 L945.5 236.3 L947.5 236.3 L949.5 236.3 L951.5 236.3 L953.5 236.3 L955.5 236.3 L957.5 236.3 L959.5 236.3 L961.5 236.3 L963.5 236.3 L965.5 236.3 L967.5 236.3 L969.5 236.3 L971.5 236.3 L973.5 236.3 L975.5 236.4 L977.5 236.4 L979.5 236.4 L981.5 236.4 L983.5 236.4 L985.5 236.4 L987.5 236.4 L989.5 236.4 L991.5 236.4 L993.5 236.4 L995.5 236.4 L997.5 236.4 L999.5 236.4 L1001.5 236.4 L1003.5 236.4 L1005.5 236.4 L1007.5 236.4 L1009.5 236.4 L1011.5 236.4 L1013.5 236.4 L1015.5 236.4 L1017.5 236.4 L1019.5 236.4 L1021.5 236.4 L1023.5 236.5 L1025.5 236.5 L1027.5 236.5 L1029.5 236.5 L1031.5 236.5 L1033.5 236.5 L1035.5 236.5 L1037.5 236.5 L1039.5 236.5 L1041.5 236.5 L1043.5 236.5 L1045.5 236.5 L1047.5 236.5 L1049.5 236.5 L1051.5 236.5 L1053.5 236.5 L1055.5 236.5 L1057.5 236.5 L1059.5 236.5 L1061.5 236.5 L1063.5 236.5 L1065.5 236.5 L1067.5 236.5 L1069.5 236.5 L1071.5 236.5 L1073.5 236.5 L1075.5 236.6 L1077.5 236.6 L1079.5 236.6 L1081.5 236.6 L1083.5 236.6 L1085.5 236.6 L1087.5 236.6 L1089.5 236.6 L1091.5 236.6 L1093.5 236.6 L1095.5 236.6 L1097.5 236.6 L1099.5 236.6 L1101.5 236.6 L1103.5 236.6 L1105.5 236.6 L1107.5 236.6 L1109.5 236.6 L1111.5 236.6 L1113.5 236.6 L1115.5 236.6 L1117.5 236.6 L1119.5 236.6 L1121.5 236.6 L1123.5 236.6 L1125.5 236.6 L1127.5 236.6 L1129.5 236.7 L1131.5 236.7 L1133.5 236.7 L1135.5 236.7 L1137.5 236.7 L1139.5 236.7 L1141.5 236.7 L1143.5 236.7 L1145.5 236.7 L1147.5 236.7 L1149.5 236.7 L1151.5 236.7 L1153.5 236.7 L1155.5 236.7 L1157.5 236.7 L1159.5 236.7 L1161.5 236.7 L1163.5 236.7 L1165.5 236.7 L1167.5 236.7 L1169.5 236.7 L1171.5 236.7 L1173.5 236.7 L1175.5 236.7 L1177.5 236.7 L1179.5 236.7 L1181.5 236.7 L1183.5 236.7 L1185.5 236.7 L1187.5 236.8 L1189.5 236.8 L1191.5 236.8 L1193.5 236.8 L1195.5 236.8 L1197.5 236.8 L1199.5 236.8 L1201.5 236.8 L1203.5 236.8 L1205.5 236.8 L1207.5 236.8 L1209.5 236.8 L1211.5 236.8 L1213.5 236.8 L1215.5 236.8 L1217.5 236.8 L1219.5 236.8 L1221.5 236.8 L1223.5 236.8 L1225.5 236.8 L1227.5 236.8 L1229.5 236.8 L1231.5 236.8 L1233.5 236.8 L1235.5 236.8 L1237.5 236.8 L1239.5 236.8 L1241.5 236.8 L1243.5 236.8 L1245.5 236.8 L1247.5 236.8 L1249.5 236.8 L1251.5 236.8 L1253.5 236.8 L1255.5 236.9 L1257.5 236.9 L1259.5 236.9 L1261.5 236.9 L1263.5 236.9 L1265.5 236.9 L1267.5 236.9 L1269.5 236.9 L1271.5 236.9 L1273.5 236.9 L1275.5 236.9 L1277.5 236.9 L1279.5 236.9 L1281.5 236.9 L1283.5 236.9 L1285.5 236.9 L1287.5 236.9 L1289.5 236.9 L1291.5 236.9 L1293.5 236.9 L1295.5 236.9 L1297.5 236.9 L1299.5 236.9 L1301.5 236.9 L1303.5 236.9 L1305.5 236.9 L1307.5 236.9 L1309.5 236.9 L1311.5 236.9 L1313.5 236.9 L1315.5 236.9 L1317.5 236.9 L1319.5 236.9 L1321.5 236.9 L1323.5 236.9 L1325.5 236.9 L1327.5 236.9 L1329.5 236.9 L1331.5 236.9 L1333.5 237.0 L1335.5 237.0 L1337.5 237.0 L1339.5 237.0 L1341.5 237.0 L1343.5 237.0 L1345.5 237.0 L1347.5 237.0 L1349.5 237.0 L1351.5 237.0 L1353.5 237.0 L1355.5 237.0 L1357.5 237.0 L1359.5 237.0 L1361.5 237.0 L1363.5 237.0 L1365.5 237.0 L1367.5 237.0 L1369.5 237.0 L1371.5 237.0 L1373.5 237.0 L1375.5 237.0 L1377.5 237.0 L1379.5 237.0 L1381.5 237.0 L1383.5 237.0 L1385.5 237.0 L1387.5 237.0 L1389.5 237.0 L1391.5 237.0 L1393.5 237.0 L1395.5 237.0 L1397.5 237.0 L1399.5 237.0 L1401.5 237.0 L1403.5 237.0 L1405.5 237.0 L1407.5 237.0 L1409.5 237.0 L1411.5 237.0 L1413.5 237.0 L1415.5 237.0 L1417.5 237.0 L1419.5 237.0 L1421.5 237.0 L1423.5 237.0 L1425.5 237.0 L1427.5 237.0 L1429.5 237.0 L1431.5 237.0 L1433.5 237.0 L1435.5 237.0 L1437.5 237.0 L1439.5 237.0 L1441.5 237.0 L1443.5 237.1 L1445.5 237.1 L1447.5 237.1 L1449.5 237.1 L1451.5 237.1 L1453.5 237.1 L1455.5 237.1 L1457.5 237.1 L1459.5 237.1 L1461.5 237.1 L1463.5 237.1 L1465.5 237.1 L1467.5 237.1 L1469.5 237.1 L1471.5 237.1 L1473.5 237.1 L1475.5 237.1 L1477.5 237.1 L1479.5 237.1 L1481.5 237.1 L1483.5 237.1 L1485.5 237.1 L1487.5 237.1 L1489.5 237.1 L1491.5 237.1 L1493.5 237.1 L1495.5 237.1 L1497.5 237.1 L1499.5 237.1 L1501.5 237.1 L1503.5 237.1 L1505.5 237.1 L1507.5 237.1 L1509.5 237.1 L1511.5 237.1 L1513.5 237.1 L1515.5 237.1 L1517.5 237.1 L1519.5 237.1 L1521.5 237.1 L1523.5 237.1 L1525.5 237.1 L1527.5 237.1 L1529.5 237.1 L1531.5 237.1 L1533.5 237.1 L1535.5 237.1 L1537.5 237.1 L1539.5 237.1 L1541.5 237.1 L1543.5 237.1 L1545.5 237.1 L1547.5 237.1 L1549.5 237.1 L1551.5 237.1 L1553.5 237.1 L1555.5 237.1 L1557.5 237.1 L1559.5 237.1 L1561.5 237.1 L1563.5 237.1 L1565.5 237.1 L1567.5 237.1 L1569.5 237.1 L1571.5 237.1 L1573.5 237.1 L1575.5 237.1 L1577.5 237.1 L1579.5 237.1 L1581.5 237.1 L1583.5 237.1 L1585.5 237.1 L1587.5 237.0 L1589.5 236.9 L1591.5 236.7 L1593.5 236.4 L1595.5 236.2 L1597.5 235.9 L1599.5 235.6 L1601.5 235.4 L1603.5 235.0 L1605.5 234.7 L1607.5 234.4 L1609.5 234.0 L1611.5 233.6 L1613.5 233.2 L1615.5 232.8 L1617.5 232.4 L1619.5 231.9 L1621.5 231.5 L1623.5 231.0 L1625.5 230.5 L1627.5 230.0 L1629.5 229.5 L1631.5 228.9 L1633.5 228.4 L1635.5 227.9 L1637.5 227.4 L1639.5 226.9 L1641.5 226.4 L1643.5 225.8 L1645.5 225.3 L1647.5 224.8 L1649.5 224.3 L1651.5 223.8 L1653.5 223.2 L1655.5 222.7 L1657.5 222.2 L1659.5 221.7 L1661.5 221.2 L1663.5 220.7 L1665.5 220.2 L1667.5 219.7 L1669.5 219.3 L1671.5 218.8 L1673.5 218.4 L1675.5 218.0 L1677.5 217.6 L1679.5 217.2 L1681.5 216.8 L1683.5 216.5 L1685.5 216.2 L1687.5 215.9 L1689.5 215.6 L1691.5 215.3 L1693.5 215.1 L1695.5 215.0 L1697.5 214.9 L1699.5 214.7 L1701.5 214.7 L1703.5 214.6 L1705.5 214.5 L1707.5 214.5 L1709.5 214.5 L1711.5 214.6 L1713.5 214.6 L1715.5 214.7 L1717.5 214.8 L1719.5 214.9 L1721.5 215.1 L1723.5 215.3 L1725.5 215.6 L1727.5 215.9 L1729.5 216.3 L1731.5 216.7 L1733.5 217.1 L1735.5 217.6 L1737.5 218.3 L1739.5 219.0 L1741.5 219.8 L1743.5 220.5 L1745.5 221.3 L1747.5 222.2 L1749.5 223.0 L1751.5 223.9 L1753.5 224.9 L1755.5 225.9 L1757.5 227.0 L1759.5 228.1 L1761.5 229.4 L1763.5 230.7 L1765.5 232.0 L1767.5 233.4 L1769.5 234.9 L1771.5 236.5 L1773.5 238.2 L1775.5 239.9 L1777.5 241.6 L1779.5 243.4 L1781.5 245.2 L1783.5 247.1 L1785.5 249.0 L1787.5 250.9 L1789.5 252.9 L1791.5 254.9 L1793.5 256.9 L1795.5 258.9 L1797.5 261.0 L1799.5 263.2 L1801.5 265.3 L1803.5 267.6 L1805.5 269.8 L1807.5 272.2 L1809.5 274.5 L1811.5 276.9 L1813.5 279.4 L1815.5 281.9 L1817.5 284.4 L1819.5 287.0 L1821.5 289.6 L1823.5 292.2 L1825.5 294.9 L1827.5 297.6 L1829.5 300.3 L1831.5 303.0 L1833.5 305.8 L1835.5 308.6 L1837.5 311.4 L1839.5 314.3 L1841.5 317.2 L1843.5 320.1 L1845.5 323.1 L1847.5 326.1 L1849.5 329.1 L1851.5 332.3 L1853.5 335.4 L1855.5 338.6 L1857.5 341.8 L1859.5 345.0 L1861.5 348.3 L1863.5 351.6 L1865.5 354.8 L1867.5 358.2 L1869.5 361.5 L1871.5 364.9 L1873.5 368.3 L1875.5 371.6 L1877.5 375.0 L1879.5 378.5 L1881.5 381.9 L1883.5 385.4 L1885.5 388.9 L1887.5 392.5 L1889.5 396.2 L1891.5 399.9 L1893.5 403.6 L1895.5 407.4 L1897.5 411.2 L1899.5 415.0 L1901.5 418.7 L1903.5 422.5 L1905.5 426.3 L1907.5 430.2 L1909.5 434.0 L1911.5 437.9 L1913.5 441.9 L1915.5 445.9 L1917.5 449.9 L1919.5 453.9 L1921.5 457.9 L1923.5 461.8 L1925.5 465.7 L1927.5 469.7 L1929.5 473.6 L1931.5 477.6 L1933.5 481.6 L1935.5 485.8 L1937.5 489.9 L1939.5 494.1 L1941.5 498.4 L1943.5 502.6 L1945.5 506.9 L1947.5 511.2 L1949.5 515.5 L1951.5 519.8 L1953.5 524.2 L1955.5 528.4 L1957.5 532.7 L1959.5 537.0 L1961.5 541.3 L1963.5 545.6 L1965.5 550.0 L1967.5 554.5 L1969.5 558.9 L1971.5 563.4 L1973.5 568.0 L1975.5 572.6 L1977.5 577.2 L1979.5 582.0 L1981.5 586.7 L1983.5 591.5 L1985.5 596.4 L1987.5 601.2 L1989.5 606.1 L1991.5 611.1 L1993.5 616.1 L1995.5 621.0 L1997.5 626.1 L1999.5 631.1 L2001.5 636.2 L2003.5 641.3 L2005.5 646.5 L2007.5 651.8 L2009.5 657.0 L2011.5 662.3 L2013.5 667.4 L2015.5 672.6 L2017.5 677.7 L2019.5 682.9 L2021.5 688.1 L2023.5 693.3 L2025.5 698.6 L2027.5 703.9 L2029.5 709.3 L2031.5 714.8 L2033.5 720.4 L2035.5 726.0 L2037.5 731.6 L2039.5 737.1 L2041.5 742.6 L2043.5 748.0 L2045.5 753.4 L2047.5 758.9 L2049.5 764.5 L2051.5 770.1 L2053.5 775.7 L2055.5 781.2 L2057.5 786.8 L2059.5 792.3 L2061.5 797.8 L2063.5 803.4 L2065.5 809.1 L2067.5 814.8 L2069.5 820.6 L2071.5 826.4 L2073.5 832.3 L2075.5 838.3 L2077.5 844.4 L2079.5 850.3 L2081.5 856.1 L2083.5 861.9 L2085.5 867.6 L2087.5 873.4 L2089.5 879.1 L2091.5 884.9 L2093.5 890.7 L2095.5 896.5 L2097.5 902.4 L2099.5 908.2 L2101.5 914.1 L2103.5 920.0 L2105.5 925.8 L2107.5 931.5 L2109.5 937.2 L2111.5 943.0 L2113.5 949.0 L2115.5 955.1 L2117.5 961.3 L2119.5 967.4 L2121.5 973.3 L2123.5 979.1 L2125.5 984.9 L2127.5 990.7 L2129.5 996.5 L2131.5 1002.3 L2133.5 1008.1 L2135.5 1013.9 L2137.5 1019.8 L2139.5 1025.7 L2141.5 1031.7 L2143.5 1037.6 L2145.5 1043.6 L2147.5 1049.6 L2149.5 1055.5 L2151.5 1061.5 L2153.5 1067.5 L2155.5 1073.5 L2157.5 1079.4 L2159.5 1085.4 L2161.5 1091.4 L2163.5 1097.4 L2165.5 1103.4 L2167.5 1109.4 L2169.5 1115.5 L2171.5 1121.5 L2173.5 1127.6 L2175.5 1133.7 L2177.5 1139.8 L2179.5 1145.9 L2181.5 1152.0 L2183.5 1158.2 L2185.5 1164.3 L2187.5 1170.4 L2189.5 1176.5 L2191.5 1182.6 L2193.5 1188.7 L2195.5 1194.7 L2197.5 1200.8 L2199.5 1207.0 L2201.5 1213.1 L2203.5 1219.2 L2205.5 1225.4 L2207.5 1231.6 L2209.5 1237.8 L2211.5 1244.0 L2213.5 1250.3 L2215.5 1256.5 L2217.5 1262.8 L2219.5 1269.2 L2221.5 1275.5 L2223.5 1281.9 L2225.5 1288.4 L2227.5 1294.8 L2229.5 1301.4 L2231.5 1307.9 L2233.5 1314.6 L2235.5 1321.2 L2237.5 1328.0 L2239.5 1334.7 L2241.5 1341.4 L2243.0 1346.4" stroke="#FF0000" stroke-dasharray="0.00 12.50"/>
<path d="M223.5 1346.4 L225.5 1346.1 L227.5 1345.9 L229.5 1345.6 L231.5 1345.4 L233.5 1345.1 L235.5 1344.9 L237.5 1344.6 L239.5 1344.4 L241.5 1344.1 L243.5 1343.9 L245.5 1343.6 L247.5 1343.3 L249.5 1343.1 L251.5 1342.8 L253.5 1342.6 L255.5 1342.3 L257.5 1342.1 L259.5 1341.8 L261.5 1341.6 L263.5 1341.3 L265.5 1341.1 L267.5 1340.8 L269.5 1340.5 L271.5 1340.3 L273.5 1340.0 L275.5 1339.8 L277.5 1339.5 L279.5 1339.3 L281.5 1339.0 L283.5 1338.8 L285.5 1338.5 L287.5 1338.3 L289.5 1338.0 L291.5 1337.7 L293.5 1337.5 L295.5 1337.2 L297.5 1337.0 L299.5 1336.7 L301.5 1336.5 L303.5 1336.2 L305.5 1336.0 L307.5 1335.7 L309.5 1335.4 L311.5 1335.2 L313.5 1334.9 L315.5 1334.7 L317.5 1334.4 L319.5 1334.2 L321.5 1333.9 L323.5 1333.7 L325.5 1333.4 L327.5 1333.2 L329.5 1332.9 L331.5 1332.6 L333.5 1332.4 L335.5 1332.1 L337.5 1331.9 L339.5 1331.6 L341.5 1331.4 L343.5 1331.1 L345.5 1330.9 L347.5 1330.6 L349.5 1330.4 L351.5 1330.1 L353.5 1329.8 L355.5 1329.6 L357.5 1329.3 L359.5 1329.1 L361.5 1328.8 L363.5 1328.6 L365.5 1328.3 L367.5 1328.1 L369.5 1327.8 L371.5 1327.6 L373.5 1327.3 L375.5 1327.0 L377.5 1326.8 L379.5 1326.5 L381.5 1326.3 L383.5 1326.0 L385.5 1325.8 L387.5 1325.5 L389.5 1325.3 L391.5 1325.0 L393.5 1324.8 L395.5 1324.5 L397.5 1324.3 L399.5 1324.0 L401.5 1323.7 L403.5 1323.5 L405.5 1323.2 L407.5 1323.0 L409.5 1322.7 L411.5 1322.5 L413.5 1322.2 L415.5 1322.0 L417.5 1321.7 L419.5 1321.5 L421.5 1321.2 L423.5 1320.9 L425.5 1320.7 L427.5 1320.4 L429.5 1320.2 L431.5 1319.9 L433.5 1319.7 L435.5 1319.4 L437.5 1319.2 L439.5 1318.9 L441.5 1318.7 L443.5 1318.4 L445.5 1318.1 L447.5 1317.9 L449.5 1317.6 L451.5 1317.4 L453.5 1317.1 L455.5 1316.9 L457.5 1316.6 L459.5 1316.4 L461.5 1316.1 L463.5 1315.9 L465.5 1315.6 L467.5 1315.3 L469.5 1315.1 L471.5 1314.8 L473.5 1314.6 L475.5 1314.3 L477.5 1314.1 L479.5 1313.8 L481.5 1313.6 L483.5 1313.3 L485.5 1313.1 L487.5 1312.8 L489.5 1312.5 L491.5 1312.3 L493.5 1312.0 L495.5 1311.8 L497.5 1311.5 L499.5 1311.3 L501.5 1311.0 L503.5 1310.8 L505.5 1310.5 L507.5 1310.3 L509.5 1310.0 L511.5 1309.8 L513.5 1309.5 L515.5 1309.2 L517.5 1309.0 L519.5 1308.7 L521.5 1308.5 L523.5 1308.2 L525.5 1308.0 L527.5 1307.7 L529.5 1307.5 L531.5 1307.2 L533.5 1307.0 L535.5 1306.7 L537.5 1306.4 L539.5 1306.2 L541.5 1305.9 L543.5 1305.7 L545.5 1305.4 L547.5 1305.2 L549.5 1304.9 L551.5 1304.7 L553.5 1304.4 L555.5 1304.2 L557.5 1303.9 L559.5 1303.6 L561.5 1303.4 L563.5 1303.1 L565.5 1302.9 L567.5 1302.6 L569.5 1302.4 L571.5 1302.1 L573.5 1301.9 L575.5 1301.6 L577.5 1301.4 L579.5 1301.1 L581.5 1300.8 L583.5 1300.6 L585.5 1300.3 L587.5 1300.1 L589.5 1299.8 L591.5 1299.6 L593.5 1299.3 L595.5 1299.1 L597.5 1298.8 L599.5 1298.6 L601.5 1298.3 L603.5 1298.1 L605.5 1297.8 L607.5 1297.5 L609.5 1297.3 L611.5 1297.0 L613.5 1296.8 L615.5 1296.5 L617.5 1296.3 L619.5 1296.0 L621.5 1295.8 L623.5 1295.5 L625.5 1295.3 L627.5 1295.0 L629.5 1294.7 L631.5 1294.5 L633.5 1294.2 L635.5 1294.0 L637.5 1293.7 L639.5 1293.5 L641.5 1293.2 L643.5 1293.0 L645.5 1292.7 L647.5 1292.5 L649.5 1292.2 L651.5 1292.0 L653.5 1291.7 L655.5 1291.4 L657.5 1291.2 L659.5 1290.9 L661.5 1290.7 L663.5 1290.4 L665.5 1290.2 L667.5 1289.9 L669.5 1289.7 L671.5 1289.4 L673.5 1289.2 L675.5 1288.9 L677.5 1288.6 L679.5 1288.4 L681.5 1288.1 L683.5 1287.9 L685.5 1287.6 L687.5 1287.4 L689.5 1287.1 L691.5 1286.9 L693.5 1286.6 L695.5 1286.4 L697.5 1286.1 L699.5 1285.8 L701.5 1285.6 L703.5 1285.3 L705.5 1285.1 L707.5 1284.8 L709.5 1284.6 L711.5 1284.3 L713.5 1284.1 L715.5 1283.8 L717.5 1283.6 L719.5 1283.3 L721.5 1283.1 L723.5 1282.8 L725.5 1282.5 L727.5 1282.3 L729.5 1282.0 L731.5 1281.8 L733.5 1281.5 L735.5 1281.3 L737.5 1281.0 L739.5 1280.8 L741.5 1280.5 L743.5 1280.3 L745.5 1280.0 L747.5 1279.7 L749.5 1279.5 L751.5 1279.2 L753.5 1279.0 L755.5 1278.7 L757.5 1278.5 L759.5 1278.2 L761.5 1278.0 L763.5 1277.7 L765.5 1277.5 L767.5 1277.2 L769.5 1277.0 L771.5 1276.7 L773.5 1276.4 L775.5 1276.2 L777.5 1275.9 L779.5 1275.7 L781.5 1275.4 L783.5 1275.2 L785.5 1274.9 L787.5 1274.7 L789.5 1274.4 L791.5 1274.2 L793.5 1273.9 L795.5 1273.6 L797.5 1273.4 L799.5 1273.1 L801.5 1272.9 L803.5 1272.6 L805.5 1272.4 L807.5 1272.1 L809.5 1271.9 L811.5 1271.6 L813.5 1271.4 L815.5 1271.1 L817.5 1270.8 L819.5 1270.6 L821.5 1270.3 L823.5 1270.1 L825.5 1269.8 L827.5 1269.6 L829.5 1269.3 L831.5 1269.1 L833.5 1268.8 L835.5 1268.6 L837.5 1268.3 L839.5 1268.1 L841.5 1267.8 L843.5 1267.5 L845.5 1267.3 L847.5 1267.0 L849.5 1266.8 L851.5 1266.5 L853.5 1266.3 L855.5 1266.0 L857.5 1265.8 L859.5 1265.5 L861.5 1265.3 L863.5 1265.0 L865.5 1264.7 L867.5 1264.5 L869.5 1264.2 L871.5 1264.0 L873.5 1263.7 L875.5 1263.5 L877.5 1263.2 L879.5 1263.0 L881.5 1262.7 L883.5 1262.5 L885.5 1262.2 L887.5 1262.0 L889.5 1261.7 L891.5 1261.4 L893.5 1261.2 L895.5 1260.9 L897.5 1260.7 L899.5 1260.4 L901.5 1260.2 L903.5 1259.9 L905.5 1259.7 L907.5 1259.4 L909.5 1259.2 L911.5 1258.9 L913.5 1258.6 L915.5 1258.4 L917.5 1258.1 L919.5 1257.9 L921.5 1257.6 L923.5 1257.4 L925.5 1257.1 L927.5 1256.9 L929.5 1256.6 L931.5 1256.4 L933.5 1256.1 L935.5 1255.8 L937.5 1255.6 L939.5 1255.3 L941.5 1255.1 L943.5 1254.8 L945.5 1254.6 L947.5 1254.3 L949.5 1254.1 L951.5 1253.8 L953.5 1253.6 L955.5 1253.3 L957.5 1253.1 L959.5 1252.8 L961.5 1252.5 L963.5 1252.3 L965.5 1252.0 L967.5 1251.8 L969.5 1251.5 L971.5 1251.3 L973.5 1251.0 L975.5 1250.8 L977.5 1250.5 L979.5 1250.3 L981.5 1250.0 L983.5 1249.7 L985.5 1249.5 L987.5 1249.2 L989.5 1249.0 L991.5 1248.7 L993.5 1248.5 L995.5 1248.2 L997.5 1248.0 L999.5 1247.7 L1001.5 1247.5 L1003.5 1247.2 L1005.5 1246.9 L1007.5 1246.7 L1009.5 1246.4 L1011.5 1246.2 L1013.5 1245.9 L1015.5 1245.7 L1017.5 1245.4 L1019.5 1245.2 L1021.5 1244.9 L1023.5 1244.7 L1025.5 1244.4 L1027.5 1244.1 L1029.5 1243.9 L1031.5 1243.6 L1033.5 1243.4 L1035.5 1243.1 L1037.5 1242.9 L1039.5 1242.6 L1041.5 1242.4 L1043.5 1242.1 L1045.5 1241.9 L1047.5 1241.6 L1049.5 1241.3 L1051.5 1241.1 L1053.5 1240.8 L1055.5 1240.6 L1057.5 1240.3 L1059.5 1240.1 L1061.5 1239.8 L1063.5 1239.6 L1065.5 1239.3 L1067.5 1239.1 L1069.5 1238.8 L1071.5 1238.6 L1073.5 1238.3 L1075.5 1238.0 L1077.5 1237.8 L1079.5 1237.5 L1081.5 1237.3 L1083.5 1237.0 L1085.5 1236.8 L1087.5 1236.5 L1089.5 1236.3 L1091.5 1236.0 L1093.5 1235.8 L1095.5 1235.5 L1097.5 1235.2 L1099.5 1235.0 L1101.5 1234.7 L1103.5 1234.5 L1105.5 1234.2 L1107.5 1234.0 L1109.5 1233.7 L1111.5 1233.5 L1113.5 1233.2 L1115.5 1233.0 L1117.5 1232.7 L1119.5 1232.4 L1121.5 1232.2 L1123.5 1231.9 L1125.5 1231.7 L1127.5 1231.4 L1129.5 1231.2 L1131.5 1230.9 L1133.5 1230.7 L1135.5 1230.4 L1137.5 1230.2 L1139.5 1229.9 L1141.5 1229.6 L1143.5 1229.4 L1145.5 1229.1 L1147.5 1228.9 L1149.5 1228.6 L1151.5 1228.4 L1153.5 1228.1 L1155.5 1227.9 L1157.5 1227.6 L1159.5 1227.4 L1161.5 1227.1 L1163.5 1226.8 L1165.5 1226.6 L1167.5 1226.3 L1169.5 1226.1 L1171.5 1225.8 L1173.5 1225.6 L1175.5 1225.3 L1177.5 1225.1 L1179.5 1224.8 L1181.5 1224.6 L1183.5 1224.3 L1185.5 1224.0 L1187.5 1223.8 L1189.5 1223.5 L1191.5 1223.3 L1193.5 1223.0 L1195.5 1222.8 L1197.5 1222.5 L1199.5 1222.3 L1201.5 1222.0 L1203.5 1221.8 L1205.5 1221.5 L1207.5 1221.2 L1209.5 1221.0 L1211.5 1220.7 L1213.5 1220.5 L1215.5 1220.2 L1217.5 1220.0 L1219.5 1219.7 L1221.5 1219.5 L1223.5 1219.2 L1225.5 1219.0 L1227.5 1218.7 L1229.5 1218.4 L1231.5 1218.2 L1233.5 1217.9 L1235.5 1217.7 L1237.5 1217.4 L1239.5 1217.2 L1241.5 1216.9 L1243.5 1216.7 L1245.5 1216.4 L1247.5 1216.2 L1249.5 1215.9 L1251.5 1215.6 L1253.5 1215.4 L1255.5 1215.1 L1257.5 1214.9 L1259.5 1214.6 L1261.5 1214.4 L1263.5 1214.1 L1265.5 1213.9 L1267.5 1213.6 L1269.5 1213.3 L1271.5 1213.1 L1273.5 1212.8 L1275.5 1212.6 L1277.5 1212.3 L1279.5 1212.1 L1281.5 1211.8 L1283.5 1211.6 L1285.5 1211.3 L1287.5 1211.1 L1289.5 1210.8 L1291.5 1210.5 L1293.5 1210.3 L1295.5 1210.0 L1297.5 1209.8 L1299.5 1209.5 L1301.5 1209.3 L1303.5 1209.0 L1305.5 1208.8 L1307.5 1208.5 L1309.5 1208.3 L1311.5 1208.0 L1313.5 1207.7 L1315.5 1207.5 L1317.5 1207.2 L1319.5 1207.0 L1321.5 1206.7 L1323.5 1206.5 L1325.5 1206.2 L1327.5 1206.0 L1329.5 1205.7 L1331.5 1205.5 L1333.5 1205.2 L1335.5 1204.9 L1337.5 1204.7 L1339.5 1204.4 L1341.5 1204.2 L1343.5 1203.9 L1345.5 1203.7 L1347.5 1203.4 L1349.5 1203.2 L1351.5 1202.9 L1353.5 1202.6 L1355.5 1202.4 L1357.5 1202.1 L1359.5 1201.9 L1361.5 1201.6 L1363.5 1201.4 L1365.5 1201.1 L1367.5 1200.9 L1369.5 1200.6 L1371.5 1200.4 L1373.5 1200.1 L1375.5 1199.8 L1377.5 1199.6 L1379.5 1199.3 L1381.5 1199.1 L1383.5 1198.8 L1385.5 1198.6 L1387.5 1198.3 L1389.5 1198.1 L1391.5 1197.8 L1393.5 1197.5 L1395.5 1197.3 L1397.5 1197.0 L1399.5 1196.8 L1401.5 1196.5 L1403.5 1196.3 L1405.5 1196.0 L1407.5 1195.8 L1409.5 1195.5 L1411.5 1195.3 L1413.5 1195.0 L1415.5 1194.7 L1417.5 1194.5 L1419.5 1194.2 L1421.5 1194.0 L1423.5 1193.7 L1425.5 1193.5 L1427.5 1193.2 L1429.5 1193.0 L1431.5 1192.7 L1433.5 1192.4 L1435.5 1192.2 L1437.5 1191.9 L1439.5 1191.7 L1441.5 1191.4 L1443.5 1191.2 L1445.5 1190.9 L1447.5 1190.7 L1449.5 1190.4 L1451.5 1190.2 L1453.5 1189.9 L1455.5 1189.6 L1457.5 1189.4 L1459.5 1189.1 L1461.5 1188.9 L1463.5 1188.6 L1465.5 1188.4 L1467.5 1188.1 L1469.5 1187.9 L1471.5 1187.6 L1473.5 1187.3 L1475.5 1187.1 L1477.5 1186.8 L1479.5 1186.6 L1481.5 1186.3 L1483.5 1186.1 L1485.5 1185.8 L1487.5 1185.6 L1489.5 1185.3 L1491.5 1185.0 L1493.5 1184.8 L1495.5 1184.5 L1497.5 1184.3 L1499.5 1184.0 L1501.5 1183.8 L1503.5 1183.5 L1505.5 1183.3 L1507.5 1183.0 L1509.5 1182.7 L1511.5 1182.5 L1513.5 1182.2 L1515.5 1182.0 L1517.5 1181.7 L1519.5 1181.5 L1521.5 1181.2 L1523.5 1181.0 L1525.5 1180.7 L1527.5 1180.5 L1529.5 1180.2 L1531.5 1179.9 L1533.5 1179.7 L1535.5 1179.4 L1537.5 1179.2 L1539.5 1178.9 L1541.5 1178.7 L1543.5 1178.4 L1545.5 1178.2 L1547.5 1177.9 L1549.5 1177.6 L1551.5 1177.4 L1553.5 1177.1 L1555.5 1176.9 L1557.5 1176.6 L1559.5 1176.4 L1561.5 1176.1 L1563.5 1175.9 L1565.5 1175.6 L1567.5 1175.3 L1569.5 1175.1 L1571.5 1174.8 L1573.5 1174.6 L1575.5 1174.3 L1577.5 1174.1 L1579.5 1173.8 L1581.5 1173.6 L1583.5 1173.3 L1585.5 1173.0 L1587.5 1172.8 L1589.5 1172.5 L1591.5 1172.3 L1593.5 1172.0 L1595.5 1171.8 L1597.5 1171.5 L1599.5 1171.3 L1601.5 1171.0 L1603.5 1170.7 L1605.5 1170.5 L1607.5 1170.2 L1609.5 1170.0 L1611.5 1169.7 L1613.5 1169.5 L1615.5 1169.2 L1617.5 1169.0 L1619.5 1168.7 L1621.5 1168.4 L1623.5 1168.2 L1625.5 1167.9 L1627.5 1167.7 L1629.5 1167.4 L1631.5 1167.2 L1633.5 1166.9 L1635.5 1166.7 L1637.5 1166.4 L1639.5 1166.1 L1641.5 1165.9 L1643.5 1165.6 L1645.5 1165.4 L1647.5 1165.1 L1649.5 1164.9 L1651.5 1164.6 L1653.5 1164.4 L1655.5 1164.1 L1657.5 1163.8 L1659.5 1163.6 L1661.5 1163.3 L1663.5 1163.1 L1665.5 1162.8 L1667.5 1162.6 L1669.5 1162.3 L1671.5 1162.1 L1673.5 1161.8 L1675.5 1161.5 L1677.5 1161.3 L1679.5 1161.0 L1681.5 1160.8 L1683.5 1160.5 L1685.5 1160.3 L1687.5 1160.0 L1689.5 1159.7 L1691.5 1159.5 L1693.5 1159.2 L1695.5 1159.0 L1697.5 1158.7 L1699.5 1158.5 L1701.5 1158.2 L1703.5 1158.0 L1705.5 1157.7 L1707.5 1157.4 L1709.5 1157.2 L1711.5 1156.9 L1713.5 1156.7 L1715.5 1156.4 L1717.5 1156.2 L1719.5 1155.9 L1721.5 1155.7 L1723.5 1155.4 L1725.5 1155.1 L1727.5 1154.9 L1729.5 1154.6 L1731.5 1154.4 L1733.5 1154.1 L1735.5 1153.9 L1737.5 1153.6 L1739.5 1153.3 L1741.5 1153.1 L1743.5 1152.8 L1745.5 1152.6 L1747.5 1152.3 L1749.5 1152.1 L1751.5 1151.8 L1753.5 1151.6 L1755.5 1151.3 L1757.5 1151.0 L1759.5 1150.8 L1761.5 1150.5 L1763.5 1150.3 L1765.5 1150.0 L1767.5 1149.8 L1769.5 1149.5 L1771.5 1149.3 L1773.5 1149.0 L1775.5 1148.7 L1777.5 1148.5 L1779.5 1148.2 L1781.5 1148.0 L1783.5 1147.7 L1785.5 1147.5 L1787.5 1147.2 L1789.5 1146.9 L1791.5 1146.7 L1793.5 1146.4 L1795.5 1146.2 L1797.5 1145.9 L1799.5 1145.7 L1801.5 1145.4 L1803.5 1145.2 L1805.5 1144.9 L1807.5 1144.6 L1809.5 1144.4 L1811.5 1144.1 L1813.5 1143.9 L1815.5 1143.6 L1817.5 1143.4 L1819.5 1143.1 L1821.5 1142.8 L1823.5 1142.6 L1825.5 1142.3 L1827.5 1142.1 L1829.5 1141.8 L1831.5 1141.5 L1833.5 1141.3 L1835.5 1141.0 L1837.5 1140.8 L1839.5 1140.5 L1841.5 1140.3 L1843.5 1140.0 L1845.5 1139.7 L1847.5 1139.5 L1849.5 1139.2 L1851.5 1139.0 L1853.5 1138.7 L1855.5 1138.5 L1857.5 1138.2 L1859.5 1138.0 L1861.5 1137.7 L1863.5 1137.4 L1865.5 1137.2 L1867.5 1136.9 L1869.5 1136.7 L1871.5 1136.4 L1873.5 1136.2 L1875.5 1135.9 L1877.5 1135.7 L1879.5 1135.4 L1881.5 1135.2 L1883.5 1134.9 L1885.5 1134.6 L1887.5 1134.4 L1889.5 1134.1 L1891.5 1133.9 L1893.5 1133.6 L1895.5 1133.4 L1897.5 1133.1 L1899.5 1132.9 L1901.5 1132.6 L1903.5 1132.4 L1905.5 1132.1 L1907.5 1131.9 L1909.5 1131.6 L1911.5 1131.3 L1913.5 1131.1 L1915.5 1130.8 L1917.5 1130.6 L1919.5 1130.3 L1921.5 1130.1 L1923.5 1129.8 L1925.5 1129.6 L1927.5 1129.3 L1929.5 1129.0 L1931.5 1128.8 L1933.5 1128.5 L1935.5 1128.3 L1937.5 1128.0 L1939.5 1127.7 L1941.5 1127.5 L1943.5 1127.2 L1945.5 1127.0 L1947.5 1126.7 L1949.5 1126.5 L1951.5 1126.2 L1953.5 1126.0 L1955.5 1125.7 L1957.5 1125.5 L1959.5 1125.2 L1961.5 1125.0 L1963.5 1124.8 L1965.5 1124.5 L1967.5 1124.3 L1969.5 1124.0 L1971.5 1123.7 L1973.5 1123.4 L1975.5 1123.1 L1977.5 1122.8 L1979.5 1122.4 L1981.5 1122.1 L1983.5 1121.7 L1985.5 1121.3 L1987.5 1120.8 L1989.5 1120.4 L1991.5 1119.9 L1993.5 1119.4 L1995.5 1118.8 L1997.5 1118.3 L1999.5 1117.7 L2001.5 1117.0 L2003.5 1116.4 L2005.5 1115.7 L2007.5 1115.0 L2009.5 1114.3 L2011.5 1113.6 L2013.5 1112.8 L2015.5 1112.1 L2017.5 1111.3 L2019.5 1110.6 L2021.5 1109.9 L2023.5 1109.2 L2025.5 1108.5 L2027.5 1107.8 L2029.5 1107.1 L2031.5 1106.4 L2033.5 1105.8 L2035.5 1105.1 L2037.5 1104.4 L2039.5 1103.8 L2041.5 1103.1 L2043.5 1102.4 L2045.5 1101.8 L2047.5 1101.1 L2049.5 1100.5 L2051.5 1099.8 L2053.5 1099.2 L2055.5 1098.6 L2057.5 1098.0 L2059.5 1097.4 L2061.5 1096.8 L2063.5 1096.2 L2065.5 1095.6 L2067.5 1095.1 L2069.5 1094.5 L2071.5 1094.0 L2073.5 1093.5 L2075.5 1093.0 L2077.5 1092.6 L2079.5 1092.1 L2081.5 1091.6 L2083.5 1091.2 L2085.5 1090.8 L2087.5 1090.4 L2089.5 1090.1 L2091.5 1089.8 L2093.5 1089.6 L2095.5 1089.4 L2097.5 1089.2 L2099.5 1089.0 L2101.5 1088.9 L2103.5 1088.7 L2105.5 1088.5 L2107.5 1088.3 L2109.5 1088.2 L2111.5 1088.2 L2113.5 1088.2 L2115.5 1088.2 L2117.5 1088.2 L2119.5 1088.2 L2121.5 1088.2 L2123.5 1088.4 L2125.5 1088.7 L2127.5 1089.1 L2129.5 1089.5 L2131.5 1089.9 L2133.5 1090.4 L2135.5 1091.0 L2137.5 1091.7 L2139.5 1092.4 L2141.5 1093.0 L2143.5 1093.7 L2145.5 1094.5 L2147.5 1095.3 L2149.5 1096.1 L2151.5 1097.0 L2153.5 1098.1 L2155.5 1099.3 L2157.5 1100.5 L2159.5 1101.8 L2161.5 1103.2 L2163.5 1104.6 L2165.5 1106.2 L2167.5 1107.9 L2169.5 1109.7 L2171.5 1111.8 L2173.5 1114.1 L2175.5 1116.7 L2177.5 1119.5 L2179.5 1122.5 L2181.5 1125.7 L2183.5 1129.2 L2185.5 1132.8 L2187.5 1136.6 L2189.5 1140.5 L2191.5 1144.9 L2193.5 1150.0 L2195.5 1155.5 L2197.5 1161.6 L2199.5 1168.4 L2201.5 1175.3 L2203.5 1182.1 L2205.5 1189.0 L2207.5 1196.1 L2209.5 1203.8 L2211.5 1211.8 L2213.5 1220.0 L2215.5 1228.2 L2217.5 1236.5 L2219.5 1244.9 L2221.5 1253.4 L2223.5 1262.0 L2225.5 1270.8 L2227.5 1279.7 L2229.5 1288.8 L2231.5 1297.8 L2233.5 1306.6 L2235.5 1315.3 L2237.5 1323.9 L2239.5 1332.2 L2241.5 1340.3 L2243.0 1346.4" stroke="#0070C0"/>
<path d="M223.5 1346.4 L225.5 1346.0 L227.5 1345.6 L229.5 1345.2 L231.5 1344.9 L233.5 1344.5 L235.5 1344.1 L237.5 1343.7 L239.5 1343.3 L241.5 1342.9 L243.5 1342.6 L245.5 1342.2 L247.5 1341.8 L249.5 1341.4 L251.5 1341.0 L253.5 1340.6 L255.5 1340.3 L257.5 1339.9 L259.5 1339.5 L261.5 1339.1 L263.5 1338.7 L265.5 1338.3 L267.5 1338.0 L269.5 1337.6 L271.5 1337.2 L273.5 1336.8 L275.5 1336.4 L277.5 1336.0 L279.5 1335.7 L281.5 1335.3 L283.5 1334.9 L285.5 1334.5 L287.5 1334.1 L289.5 1333.8 L291.5 1333.4 L293.5 1333.0 L295.5 1332.6 L297.5 1332.2 L299.5 1331.8 L301.5 1331.5 L303.5 1331.1 L305.5 1330.7 L307.5 1330.3 L309.5 1329.9 L311.5 1329.5 L313.5 1329.2 L315.5 1328.8 L317.5 1328.4 L319.5 1328.0 L321.5 1327.6 L323.5 1327.2 L325.5 1326.9 L327.5 1326.5 L329.5 1326.1 L331.5 1325.7 L333.5 1325.3 L335.5 1325.0 L337.5 1324.6 L339.5 1324.2 L341.5 1323.8 L343.5 1323.4 L345.5 1323.0 L347.5 1322.7 L349.5 1322.3 L351.5 1321.9 L353.5 1321.5 L355.5 1321.1 L357.5 1320.8 L359.5 1320.4 L361.5 1320.0 L363.5 1319.6 L365.5 1319.2 L367.5 1318.8 L369.5 1318.5 L371.5 1318.1 L373.5 1317.7 L375.5 1317.3 L377.5 1316.9 L379.5 1316.6 L381.5 1316.2 L383.5 1315.8 L385.5 1315.4 L387.5 1315.0 L389.5 1314.6 L391.5 1314.3 L393.5 1313.9 L395.5 1313.5 L397.5 1313.1 L399.5 1312.7 L401.5 1312.4 L403.5 1312.0 L405.5 1311.6 L407.5 1311.2 L409.5 1310.8 L411.5 1310.5 L413.5 1310.1 L415.5 1309.7 L417.5 1309.3 L419.5 1308.9 L421.5 1308.5 L423.5 1308.2 L425.5 1307.8 L427.5 1307.4 L429.5 1307.0 L431.5 1306.6 L433.5 1306.3 L435.5 1305.9 L437.5 1305.5 L439.5 1305.1 L441.5 1304.7 L443.5 1304.4 L445.5 1304.0 L447.5 1303.6 L449.5 1303.2 L451.5 1302.8 L453.5 1302.5 L455.5 1302.1 L457.5 1301.7 L459.5 1301.3 L461.5 1300.9 L463.5 1300.5 L465.5 1300.2 L467.5 1299.8 L469.5 1299.4 L471.5 1299.0 L473.5 1298.6 L475.5 1298.3 L477.5 1297.9 L479.5 1297.5 L481.5 1297.1 L483.5 1296.7 L485.5 1296.4 L487.5 1296.0 L489.5 1295.6 L491.5 1295.2 L493.5 1294.8 L495.5 1294.5 L497.5 1294.1 L499.5 1293.7 L501.5 1293.3 L503.5 1292.9 L505.5 1292.6 L507.5 1292.2 L509.5 1291.8 L511.5 1291.4 L513.5 1291.0 L515.5 1290.7 L517.5 1290.3 L519.5 1289.9 L521.5 1289.5 L523.5 1289.1 L525.5 1288.8 L527.5 1288.4 L529.5 1288.0 L531.5 1287.6 L533.5 1287.2 L535.5 1286.9 L537.5 1286.5 L539.5 1286.1 L541.5 1285.7 L543.5 1285.3 L545.5 1285.0 L547.5 1284.6 L549.5 1284.2 L551.5 1283.8 L553.5 1283.4 L555.5 1283.1 L557.5 1282.7 L559.5 1282.3 L561.5 1281.9 L563.5 1281.5 L565.5 1281.2 L567.5 1280.8 L569.5 1280.4 L571.5 1280.0 L573.5 1279.6 L575.5 1279.3 L577.5 1278.9 L579.5 1278.5 L581.5 1278.1 L583.5 1277.7 L585.5 1277.4 L587.5 1277.0 L589.5 1276.6 L591.5 1276.2 L593.5 1275.8 L595.5 1275.5 L597.5 1275.1 L599.5 1274.7 L601.5 1274.3 L603.5 1273.9 L605.5 1273.6 L607.5 1273.2 L609.5 1272.8 L611.5 1272.4 L613.5 1272.0 L615.5 1271.7 L617.5 1271.3 L619.5 1270.9 L621.5 1270.5 L623.5 1270.1 L625.5 1269.8 L627.5 1269.4 L629.5 1269.0 L631.5 1268.6 L633.5 1268.2 L635.5 1267.9 L637.5 1267.5 L639.5 1267.1 L641.5 1266.7 L643.5 1266.3 L645.5 1266.0 L647.5 1265.6 L649.5 1265.2 L651.5 1264.8 L653.5 1264.4 L655.5 1264.1 L657.5 1263.7 L659.5 1263.3 L661.5 1262.9 L663.5 1262.6 L665.5 1262.2 L667.5 1261.8 L669.5 1261.4 L671.5 1261.0 L673.5 1260.7 L675.5 1260.3 L677.5 1259.9 L679.5 1259.5 L681.5 1259.1 L683.5 1258.8 L685.5 1258.4 L687.5 1258.0 L689.5 1257.6 L691.5 1257.2 L693.5 1256.9 L695.5 1256.5 L697.5 1256.1 L699.5 1255.7 L701.5 1255.3 L703.5 1255.0 L705.5 1254.6 L707.5 1254.2 L709.5 1253.8 L711.5 1253.4 L713.5 1253.1 L715.5 1252.7 L717.5 1252.3 L719.5 1251.9 L721.5 1251.5 L723.5 1251.2 L725.5 1250.8 L727.5 1250.4 L729.5 1250.0 L731.5 1249.6 L733.5 1249.3 L735.5 1248.9 L737.5 1248.5 L739.5 1248.1 L741.5 1247.7 L743.5 1247.4 L745.5 1247.0 L747.5 1246.6 L749.5 1246.2 L751.5 1245.9 L753.5 1245.5 L755.5 1245.1 L757.5 1244.7 L759.5 1244.3 L761.5 1244.0 L763.5 1243.6 L765.5 1243.2 L767.5 1242.8 L769.5 1242.4 L771.5 1242.1 L773.5 1241.7 L775.5 1241.3 L777.5 1240.9 L779.5 1240.5 L781.5 1240.2 L783.5 1239.8 L785.5 1239.4 L787.5 1239.0 L789.5 1238.6 L791.5 1238.3 L793.5 1237.9 L795.5 1237.5 L797.5 1237.1 L799.5 1236.7 L801.5 1236.4 L803.5 1236.0 L805.5 1235.6 L807.5 1235.2 L809.5 1234.8 L811.5 1234.5 L813.5 1234.1 L815.5 1233.7 L817.5 1233.3 L819.5 1232.9 L821.5 1232.6 L823.5 1232.2 L825.5 1231.8 L827.5 1231.4 L829.5 1231.0 L831.5 1230.7 L833.5 1230.3 L835.5 1229.9 L837.5 1229.5 L839.5 1229.1 L841.5 1228.8 L843.5 1228.4 L845.5 1228.0 L847.5 1227.6 L849.5 1227.3 L851.5 1226.9 L853.5 1226.5 L855.5 1226.1 L857.5 1225.7 L859.5 1225.4 L861.5 1225.0 L863.5 1224.6 L865.5 1224.2 L867.5 1223.8 L869.5 1223.5 L871.5 1223.1 L873.5 1222.7 L875.5 1222.3 L877.5 1221.9 L879.5 1221.6 L881.5 1221.2 L883.5 1220.8 L885.5 1220.4 L887.5 1220.0 L889.5 1219.7 L891.5 1219.3 L893.5 1218.9 L895.5 1218.5 L897.5 1218.1 L899.5 1217.8 L901.5 1217.4 L903.5 1217.0 L905.5 1216.6 L907.5 1216.2 L909.5 1215.9 L911.5 1215.5 L913.5 1215.1 L915.5 1214.7 L917.5 1214.3 L919.5 1214.0 L921.5 1213.6 L923.5 1213.2 L925.5 1212.8 L927.5 1212.4 L929.5 1212.0 L931.5 1211.7 L933.5 1211.3 L935.5 1210.9 L937.5 1210.5 L939.5 1210.1 L941.5 1209.8 L943.5 1209.4 L945.5 1209.0 L947.5 1208.6 L949.5 1208.2 L951.5 1207.9 L953.5 1207.5 L955.5 1207.1 L957.5 1206.7 L959.5 1206.3 L961.5 1206.0 L963.5 1205.6 L965.5 1205.2 L967.5 1204.8 L969.5 1204.4 L971.5 1204.1 L973.5 1203.7 L975.5 1203.3 L977.5 1202.9 L979.5 1202.5 L981.5 1202.2 L983.5 1201.8 L985.5 1201.4 L987.5 1201.0 L989.5 1200.6 L991.5 1200.3 L993.5 1199.9 L995.5 1199.5 L997.5 1199.1 L999.5 1198.7 L1001.5 1198.3 L1003.5 1198.0 L1005.5 1197.6 L1007.5 1197.2 L1009.5 1196.8 L1011.5 1196.4 L1013.5 1196.1 L1015.5 1195.7 L1017.5 1195.3 L1019.5 1194.9 L1021.5 1194.5 L1023.5 1194.2 L1025.5 1193.8 L1027.5 1193.4 L1029.5 1193.0 L1031.5 1192.6 L1033.5 1192.2 L1035.5 1191.9 L1037.5 1191.5 L1039.5 1191.1 L1041.5 1190.7 L1043.5 1190.3 L1045.5 1190.0 L1047.5 1189.6 L1049.5 1189.2 L1051.5 1188.8 L1053.5 1188.4 L1055.5 1188.1 L1057.5 1187.7 L1059.5 1187.3 L1061.5 1186.9 L1063.5 1186.5 L1065.5 1186.1 L1067.5 1185.8 L1069.5 1185.4 L1071.5 1185.0 L1073.5 1184.6 L1075.5 1184.2 L1077.5 1183.9 L1079.5 1183.5 L1081.5 1183.1 L1083.5 1182.7 L1085.5 1182.3 L1087.5 1181.9 L1089.5 1181.6 L1091.5 1181.2 L1093.5 1180.8 L1095.5 1180.4 L1097.5 1180.0 L1099.5 1179.7 L1101.5 1179.3 L1103.5 1178.9 L1105.5 1178.5 L1107.5 1178.1 L1109.5 1177.7 L1111.5 1177.4 L1113.5 1177.0 L1115.5 1176.6 L1117.5 1176.2 L1119.5 1175.8 L1121.5 1175.4 L1123.5 1175.1 L1125.5 1174.7 L1127.5 1174.3 L1129.5 1173.9 L1131.5 1173.5 L1133.5 1173.2 L1135.5 1172.8 L1137.5 1172.4 L1139.5 1172.0 L1141.5 1171.6 L1143.5 1171.2 L1145.5 1170.9 L1147.5 1170.5 L1149.5 1170.1 L1151.5 1169.7 L1153.5 1169.3 L1155.5 1168.9 L1157.5 1168.6 L1159.5 1168.2 L1161.5 1167.8 L1163.5 1167.4 L1165.5 1167.0 L1167.5 1166.6 L1169.5 1166.3 L1171.5 1165.9 L1173.5 1165.5 L1175.5 1165.1 L1177.5 1164.7 L1179.5 1164.3 L1181.5 1164.0 L1183.5 1163.6 L1185.5 1163.2 L1187.5 1162.8 L1189.5 1162.4 L1191.5 1162.0 L1193.5 1161.7 L1195.5 1161.3 L1197.5 1160.9 L1199.5 1160.5 L1201.5 1160.1 L1203.5 1159.7 L1205.5 1159.4 L1207.5 1159.0 L1209.5 1158.6 L1211.5 1158.2 L1213.5 1157.8 L1215.5 1157.4 L1217.5 1157.1 L1219.5 1156.7 L1221.5 1156.3 L1223.5 1155.9 L1225.5 1155.5 L1227.5 1155.1 L1229.5 1154.8 L1231.5 1154.4 L1233.5 1154.0 L1235.5 1153.6 L1237.5 1153.2 L1239.5 1152.8 L1241.5 1152.4 L1243.5 1152.1 L1245.5 1151.7 L1247.5 1151.3 L1249.5 1150.9 L1251.5 1150.5 L1253.5 1150.1 L1255.5 1149.8 L1257.5 1149.4 L1259.5 1149.0 L1261.5 1148.6 L1263.5 1148.2 L1265.5 1147.8 L1267.5 1147.4 L1269.5 1147.1 L1271.5 1146.7 L1273.5 1146.3 L1275.5 1145.9 L1277.5 1145.5 L1279.5 1145.1 L1281.5 1144.7 L1283.5 1144.4 L1285.5 1144.0 L1287.5 1143.6 L1289.5 1143.2 L1291.5 1142.8 L1293.5 1142.4 L1295.5 1142.1 L1297.5 1141.7 L1299.5 1141.3 L1301.5 1140.9 L1303.5 1140.5 L1305.5 1140.1 L1307.5 1139.7 L1309.5 1139.4 L1311.5 1139.0 L1313.5 1138.6 L1315.5 1138.2 L1317.5 1137.8 L1319.5 1137.4 L1321.5 1137.0 L1323.5 1136.6 L1325.5 1136.3 L1327.5 1135.9 L1329.5 1135.5 L1331.5 1135.1 L1333.5 1134.7 L1335.5 1134.3 L1337.5 1133.9 L1339.5 1133.6 L1341.5 1133.2 L1343.5 1132.8 L1345.5 1132.4 L1347.5 1132.0 L1349.5 1131.6 L1351.5 1131.2 L1353.5 1130.9 L1355.5 1130.5 L1357.5 1130.1 L1359.5 1129.7 L1361.5 1129.3 L1363.5 1128.9 L1365.5 1128.5 L1367.5 1128.1 L1369.5 1127.8 L1371.5 1127.4 L1373.5 1127.0 L1375.5 1126.6 L1377.5 1126.2 L1379.5 1125.8 L1381.5 1125.4 L1383.5 1125.0 L1385.5 1124.7 L1387.5 1124.3 L1389.5 1123.9 L1391.5 1123.5 L1393.5 1123.1 L1395.5 1122.7 L1397.5 1122.3 L1399.5 1121.9 L1401.5 1121.6 L1403.5 1121.2 L1405.5 1120.8 L1407.5 1120.4 L1409.5 1120.0 L1411.5 1119.6 L1413.5 1119.2 L1415.5 1118.8 L1417.5 1118.5 L1419.5 1118.1 L1421.5 1117.7 L1423.5 1117.3 L1425.5 1116.9 L1427.5 1116.5 L1429.5 1116.1 L1431.5 1115.7 L1433.5 1115.3 L1435.5 1115.0 L1437.5 1114.6 L1439.5 1114.2 L1441.5 1113.8 L1443.5 1113.4 L1445.5 1113.0 L1447.5 1112.6 L1449.5 1112.2 L1451.5 1111.8 L1453.5 1111.5 L1455.5 1111.1 L1457.5 1110.7 L1459.5 1110.3 L1461.5 1109.9 L1463.5 1109.5 L1465.5 1109.1 L1467.5 1108.7 L1469.5 1108.3 L1471.5 1107.9 L1473.5 1107.6 L1475.5 1107.2 L1477.5 1106.8 L1479.5 1106.4 L1481.5 1106.0 L1483.5 1105.6 L1485.5 1105.2 L1487.5 1104.8 L1489.5 1104.4 L1491.5 1104.0 L1493.5 1103.7 L1495.5 1103.3 L1497.5 1102.9 L1499.5 1102.5 L1501.5 1102.1 L1503.5 1101.7 L1505.5 1101.3 L1507.5 1100.9 L1509.5 1100.5 L1511.5 1100.1 L1513.5 1099.8 L1515.5 1099.4 L1517.5 1099.0 L1519.5 1098.6 L1521.5 1098.2 L1523.5 1097.8 L1525.5 1097.4 L1527.5 1097.0 L1529.5 1096.6 L1531.5 1096.2 L1533.5 1095.8 L1535.5 1095.4 L1537.5 1095.1 L1539.5 1094.7 L1541.5 1094.3 L1543.5 1093.9 L1545.5 1093.5 L1547.5 1093.1 L1549.5 1092.7 L1551.5 1092.3 L1553.5 1091.9 L1555.5 1091.5 L1557.5 1091.1 L1559.5 1090.7 L1561.5 1090.4 L1563.5 1090.0 L1565.5 1089.6 L1567.5 1089.2 L1569.5 1088.8 L1571.5 1088.4 L1573.5 1088.0 L1575.5 1087.6 L1577.5 1087.2 L1579.5 1086.8 L1581.5 1086.4 L1583.5 1086.0 L1585.5 1085.6 L1587.5 1085.2 L1589.5 1084.9 L1591.5 1084.5 L1593.5 1084.1 L1595.5 1083.7 L1597.5 1083.3 L1599.5 1082.9 L1601.5 1082.5 L1603.5 1082.1 L1605.5 1081.7 L1607.5 1081.3 L1609.5 1080.9 L1611.5 1080.5 L1613.5 1080.1 L1615.5 1079.7 L1617.5 1079.3 L1619.5 1078.9 L1621.5 1078.6 L1623.5 1078.2 L1625.5 1077.8 L1627.5 1077.4 L1629.5 1077.0 L1631.5 1076.6 L1633.5 1076.2 L1635.5 1075.8 L1637.5 1075.4 L1639.5 1075.0 L1641.5 1074.6 L1643.5 1074.2 L1645.5 1073.8 L1647.5 1073.4 L1649.5 1073.0 L1651.5 1072.6 L1653.5 1072.2 L1655.5 1071.8 L1657.5 1071.4 L1659.5 1071.1 L1661.5 1070.7 L1663.5 1070.3 L1665.5 1069.9 L1667.5 1069.5 L1669.5 1069.1 L1671.5 1068.7 L1673.5 1068.3 L1675.5 1067.9 L1677.5 1067.5 L1679.5 1067.1 L1681.5 1066.7 L1683.5 1066.3 L1685.5 1065.9 L1687.5 1065.5 L1689.5 1065.1 L1691.5 1064.7 L1693.5 1064.3 L1695.5 1063.9 L1697.5 1063.5 L1699.5 1063.1 L1701.5 1062.7 L1703.5 1062.3 L1705.5 1061.9 L1707.5 1061.5 L1709.5 1061.1 L1711.5 1060.7 L1713.5 1060.3 L1715.5 1059.9 L1717.5 1059.5 L1719.5 1059.1 L1721.5 1058.7 L1723.5 1058.3 L1725.5 1057.9 L1727.5 1057.5 L1729.5 1057.1 L1731.5 1056.6 L1733.5 1056.2 L1735.5 1055.8 L1737.5 1055.4 L1739.5 1055.0 L1741.5 1054.6 L1743.5 1054.2 L1745.5 1053.8 L1747.5 1053.4 L1749.5 1053.0 L1751.5 1052.6 L1753.5 1052.3 L1755.5 1051.9 L1757.5 1051.5 L1759.5 1051.1 L1761.5 1050.8 L1763.5 1050.4 L1765.5 1050.1 L1767.5 1049.7 L1769.5 1049.3 L1771.5 1048.9 L1773.5 1048.5 L1775.5 1048.1 L1777.5 1047.7 L1779.5 1047.3 L1781.5 1046.9 L1783.5 1046.4 L1785.5 1046.0 L1787.5 1045.5 L1789.5 1045.1 L1791.5 1044.6 L1793.5 1044.2 L1795.5 1043.7 L1797.5 1043.3 L1799.5 1042.8 L1801.5 1042.3 L1803.5 1041.8 L1805.5 1041.3 L1807.5 1040.8 L1809.5 1040.3 L1811.5 1039.8 L1813.5 1039.3 L1815.5 1038.8 L1817.5 1038.3 L1819.5 1037.8 L1821.5 1037.2 L1823.5 1036.7 L1825.5 1036.1 L1827.5 1035.5 L1829.5 1035.0 L1831.5 1034.4 L1833.5 1033.8 L1835.5 1033.3 L1837.5 1032.7 L1839.5 1032.2 L1841.5 1031.7 L1843.5 1031.2 L1845.5 1030.7 L1847.5 1030.2 L1849.5 1029.7 L1851.5 1029.2 L1853.5 1028.7 L1855.5 1028.2 L1857.5 1027.8 L1859.5 1027.3 L1861.5 1026.8 L1863.5 1026.3 L1865.5 1025.8 L1867.5 1025.2 L1869.5 1024.7 L1871.5 1024.2 L1873.5 1023.6 L1875.5 1023.1 L1877.5 1022.6 L1879.5 1022.0 L1881.5 1021.5 L1883.5 1021.1 L1885.5 1020.6 L1887.5 1020.1 L1889.5 1019.7 L1891.5 1019.2 L1893.5 1018.8 L1895.5 1018.4 L1897.5 1017.9 L1899.5 1017.5 L1901.5 1017.1 L1903.5 1016.7 L1905.5 1016.4 L1907.5 1016.0 L1909.5 1015.7 L1911.5 1015.3 L1913.5 1015.0 L1915.5 1014.6 L1917.5 1014.3 L1919.5 1014.0 L1921.5 1013.7 L1923.5 1013.4 L1925.5 1013.1 L1927.5 1012.9 L1929.5 1012.7 L1931.5 1012.5 L1933.5 1012.4 L1935.5 1012.2 L1937.5 1012.0 L1939.5 1011.8 L1941.5 1011.7 L1943.5 1011.6 L1945.5 1011.4 L1947.5 1011.3 L1949.5 1011.3 L1951.5 1011.2 L1953.5 1011.2 L1955.5 1011.2 L1957.5 1011.3 L1959.5 1011.4 L1961.5 1011.5 L1963.5 1011.6 L1965.5 1011.7 L1967.5 1011.9 L1969.5 1012.0 L1971.5 1012.2 L1973.5 1012.3 L1975.5 1012.4 L1977.5 1012.5 L1979.5 1012.6 L1981.5 1012.7 L1983.5 1012.8 L1985.5 1012.9 L1987.5 1013.0 L1989.5 1013.1 L1991.5 1013.2 L1993.5 1013.3 L1995.5 1013.4 L1997.5 1013.5 L1999.5 1013.5 L2001.5 1013.6 L2003.5 1013.7 L2005.5 1013.8 L2007.5 1013.8 L2009.5 1013.9 L2011.5 1014.0 L2013.5 1014.0 L2015.5 1014.1 L2017.5 1014.2 L2019.5 1014.2 L2021.5 1014.3 L2023.5 1014.4 L2025.5 1014.4 L2027.5 1014.5 L2029.5 1014.6 L2031.5 1014.6 L2033.5 1014.7 L2035.5 1014.8 L2037.5 1014.8 L2039.5 1014.9 L2041.5 1015.0 L2043.5 1015.2 L2045.5 1015.3 L2047.5 1015.5 L2049.5 1015.7 L2051.5 1016.0 L2053.5 1016.4 L2055.5 1016.8 L2057.5 1017.1 L2059.5 1017.6 L2061.5 1018.0 L2063.5 1018.4 L2065.5 1018.8 L2067.5 1019.1 L2069.5 1019.5 L2071.5 1019.9 L2073.5 1020.2 L2075.5 1020.6 L2077.5 1021.0 L2079.5 1021.4 L2081.5 1021.8 L2083.5 1022.3 L2085.5 1022.7 L2087.5 1023.2 L2089.5 1023.6 L2091.5 1024.2 L2093.5 1024.7 L2095.5 1025.2 L2097.5 1025.8 L2099.5 1026.4 L2101.5 1027.0 L2103.5 1027.6 L2105.5 1028.3 L2107.5 1029.0 L2109.5 1029.8 L2111.5 1030.6 L2113.5 1031.4 L2115.5 1032.3 L2117.5 1033.2 L2119.5 1034.2 L2121.5 1035.2 L2123.5 1036.3 L2125.5 1037.4 L2127.5 1038.6 L2129.5 1039.8 L2131.5 1041.0 L2133.5 1042.3 L2135.5 1043.6 L2137.5 1045.0 L2139.5 1046.4 L2141.5 1047.9 L2143.5 1049.4 L2145.5 1051.0 L2147.5 1052.5 L2149.5 1054.2 L2151.5 1056.0 L2153.5 1058.0 L2155.5 1060.2 L2157.5 1062.6 L2159.5 1065.1 L2161.5 1067.8 L2163.5 1070.6 L2165.5 1073.6 L2167.5 1076.7 L2169.5 1080.1 L2171.5 1083.8 L2173.5 1087.8 L2175.5 1092.2 L2177.5 1096.8 L2179.5 1101.6 L2181.5 1106.6 L2183.5 1111.5 L2185.5 1116.5 L2187.5 1121.7 L2189.5 1127.1 L2191.5 1132.7 L2193.5 1138.5 L2195.5 1144.4 L2197.5 1150.5 L2199.5 1156.9 L2201.5 1163.4 L2203.5 1170.3 L2205.5 1177.4 L2207.5 1185.0 L2209.5 1192.8 L2211.5 1200.9 L2213.5 1209.0 L2215.5 1217.3 L2217.5 1225.8 L2219.5 1234.4 L2221.5 1243.2 L2223.5 1252.3 L2225.5 1261.5 L2227.5 1270.9 L2229.5 1280.4 L2231.5 1290.0 L2233.5 1299.8 L2235.5 1309.6 L2237.5 1319.3 L2239.5 1329.2 L2241.5 1339.0 L2243.0 1346.4" stroke="#0070C0" stroke-dasharray="43.75 25.00"/>
<path d="M223.5 1346.4 L225.5 1345.9 L227.5 1345.4 L229.5 1344.9 L231.5 1344.3 L233.5 1343.8 L235.5 1343.3 L237.5 1342.8 L239.5 1342.3 L241.5 1341.8 L243.5 1341.3 L245.5 1340.7 L247.5 1340.2 L249.5 1339.7 L251.5 1339.2 L253.5 1338.7 L255.5 1338.2 L257.5 1337.7 L259.5 1337.2 L261.5 1336.6 L263.5 1336.1 L265.5 1335.6 L267.5 1335.1 L269.5 1334.6 L271.5 1334.1 L273.5 1333.6 L275.5 1333.0 L277.5 1332.5 L279.5 1332.0 L281.5 1331.5 L283.5 1331.0 L285.5 1330.5 L287.5 1330.0 L289.5 1329.4 L291.5 1328.9 L293.5 1328.4 L295.5 1327.9 L297.5 1327.4 L299.5 1326.9 L301.5 1326.4 L303.5 1325.8 L305.5 1325.3 L307.5 1324.8 L309.5 1324.3 L311.5 1323.8 L313.5 1323.3 L315.5 1322.8 L317.5 1322.2 L319.5 1321.7 L321.5 1321.2 L323.5 1320.7 L325.5 1320.2 L327.5 1319.7 L329.5 1319.2 L331.5 1318.6 L333.5 1318.1 L335.5 1317.6 L337.5 1317.1 L339.5 1316.6 L341.5 1316.1 L343.5 1315.6 L345.5 1315.0 L347.5 1314.5 L349.5 1314.0 L351.5 1313.5 L353.5 1313.0 L355.5 1312.5 L357.5 1311.9 L359.5 1311.4 L361.5 1310.9 L363.5 1310.4 L365.5 1309.9 L367.5 1309.4 L369.5 1308.9 L371.5 1308.3 L373.5 1307.8 L375.5 1307.3 L377.5 1306.8 L379.5 1306.3 L381.5 1305.8 L383.5 1305.3 L385.5 1304.7 L387.5 1304.2 L389.5 1303.7 L391.5 1303.2 L393.5 1302.7 L395.5 1302.2 L397.5 1301.7 L399.5 1301.1 L401.5 1300.6 L403.5 1300.1 L405.5 1299.6 L407.5 1299.1 L409.5 1298.6 L411.5 1298.0 L413.5 1297.5 L415.5 1297.0 L417.5 1296.5 L419.5 1296.0 L421.5 1295.5 L423.5 1295.0 L425.5 1294.4 L427.5 1293.9 L429.5 1293.4 L431.5 1292.9 L433.5 1292.4 L435.5 1291.9 L437.5 1291.4 L439.5 1290.8 L441.5 1290.3 L443.5 1289.8 L445.5 1289.3 L447.5 1288.8 L449.5 1288.3 L451.5 1287.7 L453.5 1287.2 L455.5 1286.7 L457.5 1286.2 L459.5 1285.7 L461.5 1285.2 L463.5 1284.7 L465.5 1284.1 L467.5 1283.6 L469.5 1283.1 L471.5 1282.6 L473.5 1282.1 L475.5 1281.6 L477.5 1281.0 L479.5 1280.5 L481.5 1280.0 L483.5 1279.5 L485.5 1279.0 L487.5 1278.5 L489.5 1278.0 L491.5 1277.4 L493.5 1276.9 L495.5 1276.4 L497.5 1275.9 L499.5 1275.4 L501.5 1274.9 L503.5 1274.3 L505.5 1273.8 L507.5 1273.3 L509.5 1272.8 L511.5 1272.3 L513.5 1271.8 L515.5 1271.3 L517.5 1270.7 L519.5 1270.2 L521.5 1269.7 L523.5 1269.2 L525.5 1268.7 L527.5 1268.2 L529.5 1267.6 L531.5 1267.1 L533.5 1266.6 L535.5 1266.1 L537.5 1265.6 L539.5 1265.1 L541.5 1264.6 L543.5 1264.0 L545.5 1263.5 L547.5 1263.0 L549.5 1262.5 L551.5 1262.0 L553.5 1261.5 L555.5 1260.9 L557.5 1260.4 L559.5 1259.9 L561.5 1259.4 L563.5 1258.9 L565.5 1258.4 L567.5 1257.8 L569.5 1257.3 L571.5 1256.8 L573.5 1256.3 L575.5 1255.8 L577.5 1255.3 L579.5 1254.8 L581.5 1254.2 L583.5 1253.7 L585.5 1253.2 L587.5 1252.7 L589.5 1252.2 L591.5 1251.7 L593.5 1251.1 L595.5 1250.6 L597.5 1250.1 L599.5 1249.6 L601.5 1249.1 L603.5 1248.6 L605.5 1248.0 L607.5 1247.5 L609.5 1247.0 L611.5 1246.5 L613.5 1246.0 L615.5 1245.5 L617.5 1245.0 L619.5 1244.4 L621.5 1243.9 L623.5 1243.4 L625.5 1242.9 L627.5 1242.4 L629.5 1241.9 L631.5 1241.3 L633.5 1240.8 L635.5 1240.3 L637.5 1239.8 L639.5 1239.3 L641.5 1238.8 L643.5 1238.2 L645.5 1237.7 L647.5 1237.2 L649.5 1236.7 L651.5 1236.2 L653.5 1235.7 L655.5 1235.2 L657.5 1234.6 L659.5 1234.1 L661.5 1233.6 L663.5 1233.1 L665.5 1232.6 L667.5 1232.1 L669.5 1231.5 L671.5 1231.0 L673.5 1230.5 L675.5 1230.0 L677.5 1229.5 L679.5 1229.0 L681.5 1228.4 L683.5 1227.9 L685.5 1227.4 L687.5 1226.9 L689.5 1226.4 L691.5 1225.9 L693.5 1225.4 L695.5 1224.8 L697.5 1224.3 L699.5 1223.8 L701.5 1223.3 L703.5 1222.8 L705.5 1222.3 L707.5 1221.7 L709.5 1221.2 L711.5 1220.7 L713.5 1220.2 L715.5 1219.7 L717.5 1219.2 L719.5 1218.6 L721.5 1218.1 L723.5 1217.6 L725.5 1217.1 L727.5 1216.6 L729.5 1216.1 L731.5 1215.6 L733.5 1215.0 L735.5 1214.5 L737.5 1214.0 L739.5 1213.5 L741.5 1213.0 L743.5 1212.5 L745.5 1211.9 L747.5 1211.4 L749.5 1210.9 L751.5 1210.4 L753.5 1209.9 L755.5 1209.4 L757.5 1208.8 L759.5 1208.3 L761.5 1207.8 L763.5 1207.3 L765.5 1206.8 L767.5 1206.3 L769.5 1205.8 L771.5 1205.2 L773.5 1204.7 L775.5 1204.2 L777.5 1203.7 L779.5 1203.2 L781.5 1202.7 L783.5 1202.1 L785.5 1201.6 L787.5 1201.1 L789.5 1200.6 L791.5 1200.1 L793.5 1199.6 L795.5 1199.0 L797.5 1198.5 L799.5 1198.0 L801.5 1197.5 L803.5 1197.0 L805.5 1196.5 L807.5 1196.0 L809.5 1195.4 L811.5 1194.9 L813.5 1194.4 L815.5 1193.9 L817.5 1193.4 L819.5 1192.9 L821.5 1192.3 L823.5 1191.8 L825.5 1191.3 L827.5 1190.8 L829.5 1190.3 L831.5 1189.8 L833.5 1189.2 L835.5 1188.7 L837.5 1188.2 L839.5 1187.7 L841.5 1187.2 L843.5 1186.7 L845.5 1186.2 L847.5 1185.6 L849.5 1185.1 L851.5 1184.6 L853.5 1184.1 L855.5 1183.6 L857.5 1183.1 L859.5 1182.5 L861.5 1182.0 L863.5 1181.5 L865.5 1181.0 L867.5 1180.5 L869.5 1180.0 L871.5 1179.4 L873.5 1178.9 L875.5 1178.4 L877.5 1177.9 L879.5 1177.4 L881.5 1176.9 L883.5 1176.4 L885.5 1175.8 L887.5 1175.3 L889.5 1174.8 L891.5 1174.3 L893.5 1173.8 L895.5 1173.3 L897.5 1172.7 L899.5 1172.2 L901.5 1171.7 L903.5 1171.2 L905.5 1170.7 L907.5 1170.2 L909.5 1169.7 L911.5 1169.1 L913.5 1168.6 L915.5 1168.1 L917.5 1167.6 L919.5 1167.1 L921.5 1166.6 L923.5 1166.0 L925.5 1165.5 L927.5 1165.0 L929.5 1164.5 L931.5 1164.0 L933.5 1163.5 L935.5 1163.0 L937.5 1162.4 L939.5 1161.9 L941.5 1161.4 L943.5 1160.9 L945.5 1160.4 L947.5 1159.9 L949.5 1159.3 L951.5 1158.8 L953.5 1158.3 L955.5 1157.8 L957.5 1157.3 L959.5 1156.8 L961.5 1156.3 L963.5 1155.7 L965.5 1155.2 L967.5 1154.7 L969.5 1154.2 L971.5 1153.7 L973.5 1153.2 L975.5 1152.6 L977.5 1152.1 L979.5 1151.6 L981.5 1151.1 L983.5 1150.6 L985.5 1150.1 L987.5 1149.6 L989.5 1149.0 L991.5 1148.5 L993.5 1148.0 L995.5 1147.5 L997.5 1147.0 L999.5 1146.5 L1001.5 1145.9 L1003.5 1145.4 L1005.5 1144.9 L1007.5 1144.4 L1009.5 1143.9 L1011.5 1143.4 L1013.5 1142.9 L1015.5 1142.3 L1017.5 1141.8 L1019.5 1141.3 L1021.5 1140.8 L1023.5 1140.3 L1025.5 1139.8 L1027.5 1139.3 L1029.5 1138.7 L1031.5 1138.2 L1033.5 1137.7 L1035.5 1137.2 L1037.5 1136.7 L1039.5 1136.2 L1041.5 1135.6 L1043.5 1135.1 L1045.5 1134.6 L1047.5 1134.1 L1049.5 1133.6 L1051.5 1133.1 L1053.5 1132.6 L1055.5 1132.0 L1057.5 1131.5 L1059.5 1131.0 L1061.5 1130.5 L1063.5 1130.0 L1065.5 1129.5 L1067.5 1129.0 L1069.5 1128.4 L1071.5 1127.9 L1073.5 1127.4 L1075.5 1126.9 L1077.5 1126.4 L1079.5 1125.9 L1081.5 1125.4 L1083.5 1124.8 L1085.5 1124.3 L1087.5 1123.8 L1089.5 1123.3 L1091.5 1122.8 L1093.5 1122.3 L1095.5 1121.7 L1097.5 1121.2 L1099.5 1120.7 L1101.5 1120.2 L1103.5 1119.7 L1105.5 1119.2 L1107.5 1118.7 L1109.5 1118.1 L1111.5 1117.6 L1113.5 1117.1 L1115.5 1116.6 L1117.5 1116.1 L1119.5 1115.6 L1121.5 1115.1 L1123.5 1114.5 L1125.5 1114.0 L1127.5 1113.5 L1129.5 1113.0 L1131.5 1112.5 L1133.5 1112.0 L1135.5 1111.5 L1137.5 1110.9 L1139.5 1110.4 L1141.5 1109.9 L1143.5 1109.4 L1145.5 1108.9 L1147.5 1108.4 L1149.5 1107.9 L1151.5 1107.3 L1153.5 1106.8 L1155.5 1106.3 L1157.5 1105.8 L1159.5 1105.3 L1161.5 1104.8 L1163.5 1104.3 L1165.5 1103.7 L1167.5 1103.2 L1169.5 1102.7 L1171.5 1102.2 L1173.5 1101.7 L1175.5 1101.2 L1177.5 1100.7 L1179.5 1100.2 L1181.5 1099.6 L1183.5 1099.1 L1185.5 1098.6 L1187.5 1098.1 L1189.5 1097.6 L1191.5 1097.1 L1193.5 1096.6 L1195.5 1096.0 L1197.5 1095.5 L1199.5 1095.0 L1201.5 1094.5 L1203.5 1094.0 L1205.5 1093.5 L1207.5 1093.0 L1209.5 1092.4 L1211.5 1091.9 L1213.5 1091.4 L1215.5 1090.9 L1217.5 1090.4 L1219.5 1089.9 L1221.5 1089.4 L1223.5 1088.8 L1225.5 1088.3 L1227.5 1087.8 L1229.5 1087.3 L1231.5 1086.8 L1233.5 1086.3 L1235.5 1085.8 L1237.5 1085.3 L1239.5 1084.7 L1241.5 1084.2 L1243.5 1083.7 L1245.5 1083.2 L1247.5 1082.7 L1249.5 1082.2 L1251.5 1081.7 L1253.5 1081.1 L1255.5 1080.6 L1257.5 1080.1 L1259.5 1079.6 L1261.5 1079.1 L1263.5 1078.6 L1265.5 1078.1 L1267.5 1077.6 L1269.5 1077.0 L1271.5 1076.5 L1273.5 1076.0 L1275.5 1075.5 L1277.5 1075.0 L1279.5 1074.5 L1281.5 1074.0 L1283.5 1073.5 L1285.5 1072.9 L1287.5 1072.4 L1289.5 1071.9 L1291.5 1071.4 L1293.5 1070.9 L1295.5 1070.4 L1297.5 1069.9 L1299.5 1069.4 L1301.5 1068.8 L1303.5 1068.3 L1305.5 1067.8 L1307.5 1067.3 L1309.5 1066.8 L1311.5 1066.3 L1313.5 1065.8 L1315.5 1065.2 L1317.5 1064.7 L1319.5 1064.2 L1321.5 1063.7 L1323.5 1063.2 L1325.5 1062.7 L1327.5 1062.2 L1329.5 1061.7 L1331.5 1061.1 L1333.5 1060.6 L1335.5 1060.1 L1337.5 1059.6 L1339.5 1059.1 L1341.5 1058.6 L1343.5 1058.1 L1345.5 1057.6 L1347.5 1057.1 L1349.5 1056.5 L1351.5 1056.0 L1353.5 1055.5 L1355.5 1055.0 L1357.5 1054.5 L1359.5 1054.0 L1361.5 1053.5 L1363.5 1053.0 L1365.5 1052.4 L1367.5 1051.9 L1369.5 1051.4 L1371.5 1050.9 L1373.5 1050.4 L1375.5 1049.9 L1377.5 1049.4 L1379.5 1048.9 L1381.5 1048.3 L1383.5 1047.8 L1385.5 1047.3 L1387.5 1046.8 L1389.5 1046.3 L1391.5 1045.8 L1393.5 1045.3 L1395.5 1044.8 L1397.5 1044.3 L1399.5 1043.7 L1401.5 1043.2 L1403.5 1042.7 L1405.5 1042.2 L1407.5 1041.7 L1409.5 1041.2 L1411.5 1040.7 L1413.5 1040.2 L1415.5 1039.6 L1417.5 1039.1 L1419.5 1038.6 L1421.5 1038.1 L1423.5 1037.6 L1425.5 1037.1 L1427.5 1036.6 L1429.5 1036.1 L1431.5 1035.6 L1433.5 1035.0 L1435.5 1034.5 L1437.5 1034.0 L1439.5 1033.5 L1441.5 1033.0 L1443.5 1032.5 L1445.5 1032.0 L1447.5 1031.5 L1449.5 1031.0 L1451.5 1030.4 L1453.5 1029.9 L1455.5 1029.4 L1457.5 1028.9 L1459.5 1028.4 L1461.5 1027.9 L1463.5 1027.4 L1465.5 1026.9 L1467.5 1026.4 L1469.5 1025.9 L1471.5 1025.3 L1473.5 1024.8 L1475.5 1024.3 L1477.5 1023.8 L1479.5 1023.3 L1481.5 1022.8 L1483.5 1022.3 L1485.5 1021.8 L1487.5 1021.3 L1489.5 1020.7 L1491.5 1020.2 L1493.5 1019.7 L1495.5 1019.2 L1497.5 1018.7 L1499.5 1018.2 L1501.5 1017.7 L1503.5 1017.2 L1505.5 1016.7 L1507.5 1016.2 L1509.5 1015.6 L1511.5 1015.1 L1513.5 1014.6 L1515.5 1014.1 L1517.5 1013.6 L1519.5 1013.1 L1521.5 1012.6 L1523.5 1012.1 L1525.5 1011.6 L1527.5 1011.1 L1529.5 1010.5 L1531.5 1010.0 L1533.5 1009.5 L1535.5 1009.0 L1537.5 1008.5 L1539.5 1008.0 L1541.5 1007.5 L1543.5 1007.0 L1545.5 1006.5 L1547.5 1006.0 L1549.5 1005.4 L1551.5 1004.9 L1553.5 1004.4 L1555.5 1003.9 L1557.5 1003.4 L1559.5 1002.9 L1561.5 1002.4 L1563.5 1001.9 L1565.5 1001.4 L1567.5 1000.9 L1569.5 1000.4 L1571.5 999.8 L1573.5 999.3 L1575.5 998.8 L1577.5 998.3 L1579.5 997.8 L1581.5 997.3 L1583.5 996.8 L1585.5 996.3 L1587.5 995.8 L1589.5 995.3 L1591.5 994.8 L1593.5 994.2 L1595.5 993.7 L1597.5 993.2 L1599.5 992.7 L1601.5 992.2 L1603.5 991.7 L1605.5 991.2 L1607.5 990.7 L1609.5 990.2 L1611.5 989.7 L1613.5 989.2 L1615.5 988.7 L1617.5 988.1 L1619.5 987.6 L1621.5 987.1 L1623.5 986.6 L1625.5 986.1 L1627.5 985.6 L1629.5 985.1 L1631.5 984.6 L1633.5 984.1 L1635.5 983.6 L1637.5 983.1 L1639.5 982.6 L1641.5 982.0 L1643.5 981.5 L1645.5 981.0 L1647.5 980.5 L1649.5 980.0 L1651.5 979.5 L1653.5 979.0 L1655.5 978.5 L1657.5 978.0 L1659.5 977.5 L1661.5 977.0 L1663.5 976.5 L1665.5 976.0 L1667.5 975.4 L1669.5 974.9 L1671.5 974.4 L1673.5 973.9 L1675.5 973.4 L1677.5 972.9 L1679.5 972.4 L1681.5 971.9 L1683.5 971.4 L1685.5 970.9 L1687.5 970.4 L1689.5 969.9 L1691.5 969.4 L1693.5 968.8 L1695.5 968.3 L1697.5 967.8 L1699.5 967.3 L1701.5 966.8 L1703.5 966.3 L1705.5 965.8 L1707.5 965.3 L1709.5 964.8 L1711.5 964.3 L1713.5 963.8 L1715.5 963.3 L1717.5 962.8 L1719.5 962.3 L1721.5 961.8 L1723.5 961.3 L1725.5 960.8 L1727.5 960.3 L1729.5 959.8 L1731.5 959.3 L1733.5 958.8 L1735.5 958.3 L1737.5 957.8 L1739.5 957.3 L1741.5 956.8 L1743.5 956.2 L1745.5 955.7 L1747.5 955.2 L1749.5 954.7 L1751.5 954.2 L1753.5 953.6 L1755.5 953.1 L1757.5 952.6 L1759.5 952.1 L1761.5 951.5 L1763.5 951.0 L1765.5 950.5 L1767.5 949.9 L1769.5 949.4 L1771.5 948.9 L1773.5 948.4 L1775.5 947.8 L1777.5 947.3 L1779.5 946.7 L1781.5 946.2 L1783.5 945.6 L1785.5 945.0 L1787.5 944.5 L1789.5 943.8 L1791.5 943.2 L1793.5 942.6 L1795.5 942.0 L1797.5 941.3 L1799.5 940.6 L1801.5 939.9 L1803.5 939.2 L1805.5 938.5 L1807.5 937.8 L1809.5 937.0 L1811.5 936.2 L1813.5 935.4 L1815.5 934.5 L1817.5 933.6 L1819.5 932.7 L1821.5 931.8 L1823.5 930.8 L1825.5 929.9 L1827.5 929.0 L1829.5 928.1 L1831.5 927.2 L1833.5 926.2 L1835.5 925.3 L1837.5 924.4 L1839.5 923.5 L1841.5 922.6 L1843.5 921.7 L1845.5 920.8 L1847.5 919.9 L1849.5 919.0 L1851.5 918.1 L1853.5 917.3 L1855.5 916.4 L1857.5 915.6 L1859.5 914.7 L1861.5 913.9 L1863.5 913.1 L1865.5 912.3 L1867.5 911.5 L1869.5 910.7 L1871.5 909.9 L1873.5 909.1 L1875.5 908.4 L1877.5 907.6 L1879.5 906.9 L1881.5 906.1 L1883.5 905.4 L1885.5 904.7 L1887.5 904.0 L1889.5 903.3 L1891.5 902.7 L1893.5 902.1 L1895.5 901.5 L1897.5 900.9 L1899.5 900.4 L1901.5 899.8 L1903.5 899.3 L1905.5 898.7 L1907.5 898.2 L1909.5 897.8 L1911.5 897.3 L1913.5 897.0 L1915.5 896.7 L1917.5 896.5 L1919.5 896.3 L1921.5 896.2 L1923.5 896.1 L1925.5 896.0 L1927.5 895.9 L1929.5 895.8 L1931.5 895.7 L1933.5 895.7 L1935.5 895.6 L1937.5 895.6 L1939.5 895.5 L1941.5 895.5 L1943.5 895.5 L1945.5 895.6 L1947.5 895.7 L1949.5 896.0 L1951.5 896.3 L1953.5 896.6 L1955.5 897.0 L1957.5 897.5 L1959.5 897.9 L1961.5 898.4 L1963.5 898.8 L1965.5 899.2 L1967.5 899.7 L1969.5 900.3 L1971.5 900.8 L1973.5 901.4 L1975.5 902.1 L1977.5 902.8 L1979.5 903.5 L1981.5 904.2 L1983.5 905.0 L1985.5 905.8 L1987.5 906.6 L1989.5 907.5 L1991.5 908.5 L1993.5 909.5 L1995.5 910.6 L1997.5 911.7 L1999.5 912.9 L2001.5 914.0 L2003.5 915.2 L2005.5 916.3 L2007.5 917.4 L2009.5 918.6 L2011.5 919.7 L2013.5 920.8 L2015.5 921.9 L2017.5 923.0 L2019.5 924.2 L2021.5 925.3 L2023.5 926.5 L2025.5 927.7 L2027.5 929.0 L2029.5 930.2 L2031.5 931.5 L2033.5 932.9 L2035.5 934.2 L2037.5 935.6 L2039.5 937.0 L2041.5 938.5 L2043.5 939.9 L2045.5 941.4 L2047.5 942.8 L2049.5 944.2 L2051.5 945.6 L2053.5 947.1 L2055.5 948.5 L2057.5 949.9 L2059.5 951.4 L2061.5 952.9 L2063.5 954.4 L2065.5 956.1 L2067.5 957.8 L2069.5 959.6 L2071.5 961.5 L2073.5 963.5 L2075.5 965.5 L2077.5 967.5 L2079.5 969.5 L2081.5 971.5 L2083.5 973.5 L2085.5 975.4 L2087.5 977.4 L2089.5 979.4 L2091.5 981.4 L2093.5 983.4 L2095.5 985.4 L2097.5 987.4 L2099.5 989.5 L2101.5 991.6 L2103.5 993.7 L2105.5 995.8 L2107.5 997.9 L2109.5 1000.0 L2111.5 1002.1 L2113.5 1004.2 L2115.5 1006.4 L2117.5 1008.6 L2119.5 1010.8 L2121.5 1013.0 L2123.5 1015.3 L2125.5 1017.6 L2127.5 1019.9 L2129.5 1022.3 L2131.5 1024.7 L2133.5 1027.2 L2135.5 1029.8 L2137.5 1032.4 L2139.5 1035.1 L2141.5 1037.8 L2143.5 1040.5 L2145.5 1043.3 L2147.5 1046.2 L2149.5 1049.1 L2151.5 1052.1 L2153.5 1055.1 L2155.5 1058.2 L2157.5 1061.4 L2159.5 1064.5 L2161.5 1067.7 L2163.5 1071.0 L2165.5 1074.4 L2167.5 1078.1 L2169.5 1081.9 L2171.5 1086.0 L2173.5 1090.3 L2175.5 1094.8 L2177.5 1099.4 L2179.5 1104.2 L2181.5 1109.2 L2183.5 1114.5 L2185.5 1120.0 L2187.5 1125.6 L2189.5 1131.5 L2191.5 1137.6 L2193.5 1144.0 L2195.5 1150.5 L2197.5 1157.3 L2199.5 1164.2 L2201.5 1171.4 L2203.5 1178.8 L2205.5 1186.3 L2207.5 1193.9 L2209.5 1201.7 L2211.5 1209.7 L2213.5 1217.8 L2215.5 1226.1 L2217.5 1234.4 L2219.5 1242.9 L2221.5 1251.5 L2223.5 1260.2 L2225.5 1268.8 L2227.5 1277.6 L2229.5 1286.4 L2231.5 1295.2 L2233.5 1304.2 L2235.5 1313.3 L2237.5 1322.2 L2239.5 1331.0 L2241.5 1339.8 L2243.0 1346.4" stroke="#0070C0" stroke-dasharray="43.75 25.00 0.00 25.00"/>
<path d="M223.5 1346.4 L225.5 1345.6 L227.5 1344.9 L229.5 1344.1 L231.5 1343.3 L233.5 1342.6 L235.5 1341.8 L237.5 1341.0 L239.5 1340.3 L241.5 1339.5 L243.5 1338.7 L245.5 1338.0 L247.5 1337.2 L249.5 1336.4 L251.5 1335.6 L253.5 1334.9 L255.5 1334.1 L257.5 1333.3 L259.5 1332.6 L261.5 1331.8 L263.5 1331.0 L265.5 1330.3 L267.5 1329.5 L269.5 1328.7 L271.5 1328.0 L273.5 1327.2 L275.5 1326.4 L277.5 1325.7 L279.5 1324.9 L281.5 1324.1 L283.5 1323.4 L285.5 1322.6 L287.5 1321.8 L289.5 1321.1 L291.5 1320.3 L293.5 1319.5 L295.5 1318.8 L297.5 1318.0 L299.5 1317.2 L301.5 1316.5 L303.5 1315.7 L305.5 1314.9 L307.5 1314.2 L309.5 1313.4 L311.5 1312.6 L313.5 1311.9 L315.5 1311.1 L317.5 1310.3 L319.5 1309.6 L321.5 1308.8 L323.5 1308.0 L325.5 1307.3 L327.5 1306.5 L329.5 1305.7 L331.5 1305.0 L333.5 1304.2 L335.5 1303.4 L337.5 1302.7 L339.5 1301.9 L341.5 1301.1 L343.5 1300.4 L345.5 1299.6 L347.5 1298.8 L349.5 1298.1 L351.5 1297.3 L353.5 1296.5 L355.5 1295.8 L357.5 1295.0 L359.5 1294.2 L361.5 1293.5 L363.5 1292.7 L365.5 1291.9 L367.5 1291.2 L369.5 1290.4 L371.5 1289.6 L373.5 1288.9 L375.5 1288.1 L377.5 1287.3 L379.5 1286.6 L381.5 1285.8 L383.5 1285.0 L385.5 1284.3 L387.5 1283.5 L389.5 1282.7 L391.5 1282.0 L393.5 1281.2 L395.5 1280.4 L397.5 1279.7 L399.5 1278.9 L401.5 1278.1 L403.5 1277.4 L405.5 1276.6 L407.5 1275.8 L409.5 1275.1 L411.5 1274.3 L413.5 1273.5 L415.5 1272.8 L417.5 1272.0 L419.5 1271.2 L421.5 1270.5 L423.5 1269.7 L425.5 1268.9 L427.5 1268.2 L429.5 1267.4 L431.5 1266.6 L433.5 1265.9 L435.5 1265.1 L437.5 1264.3 L439.5 1263.6 L441.5 1262.8 L443.5 1262.0 L445.5 1261.3 L447.5 1260.5 L449.5 1259.7 L451.5 1259.0 L453.5 1258.2 L455.5 1257.4 L457.5 1256.7 L459.5 1255.9 L461.5 1255.1 L463.5 1254.4 L465.5 1253.6 L467.5 1252.9 L469.5 1252.1 L471.5 1251.3 L473.5 1250.6 L475.5 1249.8 L477.5 1249.0 L479.5 1248.3 L481.5 1247.5 L483.5 1246.7 L485.5 1246.0 L487.5 1245.2 L489.5 1244.4 L491.5 1243.7 L493.5 1242.9 L495.5 1242.1 L497.5 1241.4 L499.5 1240.6 L501.5 1239.8 L503.5 1239.1 L505.5 1238.3 L507.5 1237.5 L509.5 1236.8 L511.5 1236.0 L513.5 1235.2 L515.5 1234.5 L517.5 1233.7 L519.5 1232.9 L521.5 1232.2 L523.5 1231.4 L525.5 1230.7 L527.5 1229.9 L529.5 1229.1 L531.5 1228.4 L533.5 1227.6 L535.5 1226.8 L537.5 1226.1 L539.5 1225.3 L541.5 1224.5 L543.5 1223.8 L545.5 1223.0 L547.5 1222.2 L549.5 1221.5 L551.5 1220.7 L553.5 1219.9 L555.5 1219.2 L557.5 1218.4 L559.5 1217.6 L561.5 1216.9 L563.5 1216.1 L565.5 1215.3 L567.5 1214.6 L569.5 1213.8 L571.5 1213.1 L573.5 1212.3 L575.5 1211.5 L577.5 1210.8 L579.5 1210.0 L581.5 1209.2 L583.5 1208.5 L585.5 1207.7 L587.5 1206.9 L589.5 1206.2 L591.5 1205.4 L593.5 1204.6 L595.5 1203.9 L597.5 1203.1 L599.5 1202.3 L601.5 1201.6 L603.5 1200.8 L605.5 1200.0 L607.5 1199.3 L609.5 1198.5 L611.5 1197.8 L613.5 1197.0 L615.5 1196.2 L617.5 1195.5 L619.5 1194.7 L621.5 1193.9 L623.5 1193.2 L625.5 1192.4 L627.5 1191.6 L629.5 1190.9 L631.5 1190.1 L633.5 1189.3 L635.5 1188.6 L637.5 1187.8 L639.5 1187.0 L641.5 1186.3 L643.5 1185.5 L645.5 1184.7 L647.5 1184.0 L649.5 1183.2 L651.5 1182.5 L653.5 1181.7 L655.5 1180.9 L657.5 1180.2 L659.5 1179.4 L661.5 1178.6 L663.5 1177.9 L665.5 1177.1 L667.5 1176.3 L669.5 1175.6 L671.5 1174.8 L673.5 1174.0 L675.5 1173.3 L677.5 1172.5 L679.5 1171.7 L681.5 1171.0 L683.5 1170.2 L685.5 1169.5 L687.5 1168.7 L689.5 1167.9 L691.5 1167.2 L693.5 1166.4 L695.5 1165.6 L697.5 1164.9 L699.5 1164.1 L701.5 1163.3 L703.5 1162.6 L705.5 1161.8 L707.5 1161.0 L709.5 1160.3 L711.5 1159.5 L713.5 1158.7 L715.5 1158.0 L717.5 1157.2 L719.5 1156.5 L721.5 1155.7 L723.5 1154.9 L725.5 1154.2 L727.5 1153.4 L729.5 1152.6 L731.5 1151.9 L733.5 1151.1 L735.5 1150.3 L737.5 1149.6 L739.5 1148.8 L741.5 1148.0 L743.5 1147.3 L745.5 1146.5 L747.5 1145.7 L749.5 1145.0 L751.5 1144.2 L753.5 1143.4 L755.5 1142.7 L757.5 1141.9 L759.5 1141.2 L761.5 1140.4 L763.5 1139.6 L765.5 1138.9 L767.5 1138.1 L769.5 1137.3 L771.5 1136.6 L773.5 1135.8 L775.5 1135.0 L777.5 1134.3 L779.5 1133.5 L781.5 1132.7 L783.5 1132.0 L785.5 1131.2 L787.5 1130.4 L789.5 1129.7 L791.5 1128.9 L793.5 1128.2 L795.5 1127.4 L797.5 1126.6 L799.5 1125.9 L801.5 1125.1 L803.5 1124.3 L805.5 1123.6 L807.5 1122.8 L809.5 1122.0 L811.5 1121.3 L813.5 1120.5 L815.5 1119.7 L817.5 1119.0 L819.5 1118.2 L821.5 1117.4 L823.5 1116.7 L825.5 1115.9 L827.5 1115.1 L829.5 1114.4 L831.5 1113.6 L833.5 1112.9 L835.5 1112.1 L837.5 1111.3 L839.5 1110.6 L841.5 1109.8 L843.5 1109.0 L845.5 1108.3 L847.5 1107.5 L849.5 1106.7 L851.5 1106.0 L853.5 1105.2 L855.5 1104.4 L857.5 1103.7 L859.5 1102.9 L861.5 1102.1 L863.5 1101.4 L865.5 1100.6 L867.5 1099.8 L869.5 1099.1 L871.5 1098.3 L873.5 1097.6 L875.5 1096.8 L877.5 1096.0 L879.5 1095.3 L881.5 1094.5 L883.5 1093.7 L885.5 1093.0 L887.5 1092.2 L889.5 1091.4 L891.5 1090.7 L893.5 1089.9 L895.5 1089.1 L897.5 1088.4 L899.5 1087.6 L901.5 1086.8 L903.5 1086.1 L905.5 1085.3 L907.5 1084.5 L909.5 1083.8 L911.5 1083.0 L913.5 1082.2 L915.5 1081.5 L917.5 1080.7 L919.5 1080.0 L921.5 1079.2 L923.5 1078.4 L925.5 1077.7 L927.5 1076.9 L929.5 1076.1 L931.5 1075.4 L933.5 1074.6 L935.5 1073.8 L937.5 1073.1 L939.5 1072.3 L941.5 1071.5 L943.5 1070.8 L945.5 1070.0 L947.5 1069.2 L949.5 1068.5 L951.5 1067.7 L953.5 1066.9 L955.5 1066.2 L957.5 1065.4 L959.5 1064.6 L961.5 1063.9 L963.5 1063.1 L965.5 1062.3 L967.5 1061.6 L969.5 1060.8 L971.5 1060.0 L973.5 1059.3 L975.5 1058.5 L977.5 1057.7 L979.5 1057.0 L981.5 1056.2 L983.5 1055.5 L985.5 1054.7 L987.5 1053.9 L989.5 1053.2 L991.5 1052.4 L993.5 1051.6 L995.5 1050.9 L997.5 1050.1 L999.5 1049.3 L1001.5 1048.6 L1003.5 1047.8 L1005.5 1047.0 L1007.5 1046.3 L1009.5 1045.5 L1011.5 1044.7 L1013.5 1044.0 L1015.5 1043.2 L1017.5 1042.4 L1019.5 1041.7 L1021.5 1040.9 L1023.5 1040.1 L1025.5 1039.4 L1027.5 1038.6 L1029.5 1037.8 L1031.5 1037.1 L1033.5 1036.3 L1035.5 1035.5 L1037.5 1034.8 L1039.5 1034.0 L1041.5 1033.2 L1043.5 1032.5 L1045.5 1031.7 L1047.5 1030.9 L1049.5 1030.2 L1051.5 1029.4 L1053.5 1028.6 L1055.5 1027.9 L1057.5 1027.1 L1059.5 1026.3 L1061.5 1025.6 L1063.5 1024.8 L1065.5 1024.0 L1067.5 1023.3 L1069.5 1022.5 L1071.5 1021.7 L1073.5 1021.0 L1075.5 1020.2 L1077.5 1019.4 L1079.5 1018.7 L1081.5 1017.9 L1083.5 1017.1 L1085.5 1016.4 L1087.5 1015.6 L1089.5 1014.8 L1091.5 1014.1 L1093.5 1013.3 L1095.5 1012.5 L1097.5 1011.8 L1099.5 1011.0 L1101.5 1010.2 L1103.5 1009.5 L1105.5 1008.7 L1107.5 1007.9 L1109.5 1007.2 L1111.5 1006.4 L1113.5 1005.6 L1115.5 1004.9 L1117.5 1004.1 L1119.5 1003.3 L1121.5 1002.6 L1123.5 1001.8 L1125.5 1001.0 L1127.5 1000.3 L1129.5 999.5 L1131.5 998.7 L1133.5 998.0 L1135.5 997.2 L1137.5 996.4 L1139.5 995.7 L1141.5 994.9 L1143.5 994.1 L1145.5 993.4 L1147.5 992.6 L1149.5 991.8 L1151.5 991.1 L1153.5 990.3 L1155.5 989.5 L1157.5 988.8 L1159.5 988.0 L1161.5 987.2 L1163.5 986.5 L1165.5 985.7 L1167.5 984.9 L1169.5 984.2 L1171.5 983.4 L1173.5 982.6 L1175.5 981.8 L1177.5 981.1 L1179.5 980.3 L1181.5 979.5 L1183.5 978.8 L1185.5 978.0 L1187.5 977.2 L1189.5 976.5 L1191.5 975.7 L1193.5 974.9 L1195.5 974.2 L1197.5 973.4 L1199.5 972.6 L1201.5 971.9 L1203.5 971.1 L1205.5 970.3 L1207.5 969.6 L1209.5 968.8 L1211.5 968.0 L1213.5 967.3 L1215.5 966.5 L1217.5 965.7 L1219.5 965.0 L1221.5 964.2 L1223.5 963.4 L1225.5 962.6 L1227.5 961.9 L1229.5 961.1 L1231.5 960.3 L1233.5 959.6 L1235.5 958.8 L1237.5 958.0 L1239.5 957.3 L1241.5 956.5 L1243.5 955.7 L1245.5 955.0 L1247.5 954.2 L1249.5 953.4 L1251.5 952.7 L1253.5 951.9 L1255.5 951.1 L1257.5 950.3 L1259.5 949.6 L1261.5 948.8 L1263.5 948.0 L1265.5 947.3 L1267.5 946.5 L1269.5 945.7 L1271.5 945.0 L1273.5 944.2 L1275.5 943.4 L1277.5 942.7 L1279.5 941.9 L1281.5 941.1 L1283.5 940.4 L1285.5 939.6 L1287.5 938.8 L1289.5 938.0 L1291.5 937.3 L1293.5 936.5 L1295.5 935.7 L1297.5 935.0 L1299.5 934.2 L1301.5 933.4 L1303.5 932.7 L1305.5 931.9 L1307.5 931.1 L1309.5 930.3 L1311.5 929.6 L1313.5 928.8 L1315.5 928.0 L1317.5 927.3 L1319.5 926.5 L1321.5 925.7 L1323.5 925.0 L1325.5 924.2 L1327.5 923.4 L1329.5 922.6 L1331.5 921.9 L1333.5 921.1 L1335.5 920.3 L1337.5 919.6 L1339.5 918.8 L1341.5 918.0 L1343.5 917.3 L1345.5 916.5 L1347.5 915.7 L1349.5 914.9 L1351.5 914.2 L1353.5 913.4 L1355.5 912.6 L1357.5 911.9 L1359.5 911.1 L1361.5 910.3 L1363.5 909.6 L1365.5 908.8 L1367.5 908.0 L1369.5 907.2 L1371.5 906.5 L1373.5 905.7 L1375.5 904.9 L1377.5 904.2 L1379.5 903.4 L1381.5 902.6 L1383.5 901.8 L1385.5 901.1 L1387.5 900.3 L1389.5 899.5 L1391.5 898.8 L1393.5 898.0 L1395.5 897.2 L1397.5 896.4 L1399.5 895.7 L1401.5 894.9 L1403.5 894.1 L1405.5 893.4 L1407.5 892.6 L1409.5 891.8 L1411.5 891.0 L1413.5 890.3 L1415.5 889.5 L1417.5 888.7 L1419.5 888.0 L1421.5 887.2 L1423.5 886.4 L1425.5 885.6 L1427.5 884.9 L1429.5 884.1 L1431.5 883.3 L1433.5 882.6 L1435.5 881.8 L1437.5 881.0 L1439.5 880.2 L1441.5 879.5 L1443.5 878.7 L1445.5 877.9 L1447.5 877.2 L1449.5 876.4 L1451.5 875.6 L1453.5 874.8 L1455.5 874.1 L1457.5 873.3 L1459.5 872.5 L1461.5 871.7 L1463.5 871.0 L1465.5 870.2 L1467.5 869.4 L1469.5 868.7 L1471.5 867.9 L1473.5 867.1 L1475.5 866.3 L1477.5 865.6 L1479.5 864.8 L1481.5 864.0 L1483.5 863.2 L1485.5 862.5 L1487.5 861.7 L1489.5 860.9 L1491.5 860.2 L1493.5 859.4 L1495.5 858.6 L1497.5 857.8 L1499.5 857.1 L1501.5 856.3 L1503.5 855.5 L1505.5 854.7 L1507.5 854.0 L1509.5 853.2 L1511.5 852.4 L1513.5 851.6 L1515.5 850.9 L1517.5 850.1 L1519.5 849.3 L1521.5 848.6 L1523.5 847.8 L1525.5 847.0 L1527.5 846.2 L1529.5 845.5 L1531.5 844.7 L1533.5 843.9 L1535.5 843.1 L1537.5 842.4 L1539.5 841.6 L1541.5 840.8 L1543.5 840.0 L1545.5 839.3 L1547.5 838.5 L1549.5 837.7 L1551.5 836.9 L1553.5 836.2 L1555.5 835.4 L1557.5 834.6 L1559.5 833.8 L1561.5 833.1 L1563.5 832.3 L1565.5 831.5 L1567.5 830.7 L1569.5 830.0 L1571.5 829.2 L1573.5 828.4 L1575.5 827.6 L1577.5 826.9 L1579.5 826.1 L1581.5 825.3 L1583.5 824.5 L1585.5 823.8 L1587.5 823.0 L1589.5 822.2 L1591.5 821.4 L1593.5 820.7 L1595.5 819.9 L1597.5 819.1 L1599.5 818.3 L1601.5 817.6 L1603.5 816.8 L1605.5 816.0 L1607.5 815.2 L1609.5 814.5 L1611.5 813.7 L1613.5 812.9 L1615.5 812.1 L1617.5 811.4 L1619.5 810.6 L1621.5 809.8 L1623.5 809.0 L1625.5 808.3 L1627.5 807.5 L1629.5 806.7 L1631.5 805.9 L1633.5 805.1 L1635.5 804.4 L1637.5 803.6 L1639.5 802.8 L1641.5 802.0 L1643.5 801.3 L1645.5 800.5 L1647.5 799.7 L1649.5 798.9 L1651.5 798.2 L1653.5 797.4 L1655.5 796.6 L1657.5 795.8 L1659.5 795.0 L1661.5 794.3 L1663.5 793.5 L1665.5 792.7 L1667.5 791.9 L1669.5 791.2 L1671.5 790.4 L1673.5 789.6 L1675.5 788.8 L1677.5 788.1 L1679.5 787.3 L1681.5 786.5 L1683.5 785.7 L1685.5 784.9 L1687.5 784.2 L1689.5 783.4 L1691.5 782.6 L1693.5 781.8 L1695.5 781.1 L1697.5 780.3 L1699.5 779.5 L1701.5 778.7 L1703.5 777.9 L1705.5 777.2 L1707.5 776.4 L1709.5 775.6 L1711.5 774.8 L1713.5 774.0 L1715.5 773.3 L1717.5 772.5 L1719.5 771.7 L1721.5 770.9 L1723.5 770.1 L1725.5 769.4 L1727.5 768.6 L1729.5 767.8 L1731.5 767.0 L1733.5 766.2 L1735.5 765.4 L1737.5 764.7 L1739.5 763.9 L1741.5 763.1 L1743.5 762.3 L1745.5 761.5 L1747.5 760.7 L1749.5 759.9 L1751.5 759.1 L1753.5 758.3 L1755.5 757.6 L1757.5 756.8 L1759.5 756.0 L1761.5 755.3 L1763.5 754.5 L1765.5 753.7 L1767.5 752.9 L1769.5 752.1 L1771.5 751.3 L1773.5 750.4 L1775.5 749.6 L1777.5 748.7 L1779.5 747.7 L1781.5 746.8 L1783.5 745.8 L1785.5 744.8 L1787.5 743.7 L1789.5 742.7 L1791.5 741.6 L1793.5 740.4 L1795.5 739.3 L1797.5 738.1 L1799.5 736.9 L1801.5 735.7 L1803.5 734.4 L1805.5 733.0 L1807.5 731.7 L1809.5 730.3 L1811.5 728.9 L1813.5 727.5 L1815.5 726.1 L1817.5 724.7 L1819.5 723.2 L1821.5 721.7 L1823.5 720.2 L1825.5 718.7 L1827.5 717.2 L1829.5 715.7 L1831.5 714.1 L1833.5 712.6 L1835.5 711.0 L1837.5 709.3 L1839.5 707.7 L1841.5 706.0 L1843.5 704.4 L1845.5 702.7 L1847.5 701.1 L1849.5 699.5 L1851.5 698.0 L1853.5 696.4 L1855.5 694.9 L1857.5 693.3 L1859.5 691.8 L1861.5 690.3 L1863.5 688.8 L1865.5 687.3 L1867.5 685.9 L1869.5 684.5 L1871.5 683.2 L1873.5 682.0 L1875.5 680.7 L1877.5 679.5 L1879.5 678.3 L1881.5 677.1 L1883.5 676.0 L1885.5 674.9 L1887.5 673.9 L1889.5 672.9 L1891.5 671.9 L1893.5 671.0 L1895.5 670.2 L1897.5 669.3 L1899.5 668.5 L1901.5 667.7 L1903.5 666.9 L1905.5 666.2 L1907.5 665.5 L1909.5 664.8 L1911.5 664.2 L1913.5 663.7 L1915.5 663.2 L1917.5 662.8 L1919.5 662.4 L1921.5 662.3 L1923.5 662.3 L1925.5 662.4 L1927.5 662.5 L1929.5 662.7 L1931.5 662.9 L1933.5 663.1 L1935.5 663.3 L1937.5 663.6 L1939.5 663.9 L1941.5 664.2 L1943.5 664.6 L1945.5 665.2 L1947.5 665.9 L1949.5 666.8 L1951.5 667.8 L1953.5 668.9 L1955.5 670.0 L1957.5 671.3 L1959.5 672.5 L1961.5 673.9 L1963.5 675.2 L1965.5 676.6 L1967.5 678.1 L1969.5 679.8 L1971.5 681.6 L1973.5 683.4 L1975.5 685.4 L1977.5 687.5 L1979.5 689.6 L1981.5 691.7 L1983.5 693.9 L1985.5 696.3 L1987.5 698.8 L1989.5 701.4 L1991.5 704.1 L1993.5 706.9 L1995.5 709.6 L1997.5 712.4 L1999.5 715.3 L2001.5 718.2 L2003.5 721.2 L2005.5 724.2 L2007.5 727.3 L2009.5 730.5 L2011.5 733.7 L2013.5 737.0 L2015.5 740.5 L2017.5 744.0 L2019.5 747.6 L2021.5 751.1 L2023.5 754.6 L2025.5 758.1 L2027.5 761.6 L2029.5 765.0 L2031.5 768.6 L2033.5 772.2 L2035.5 775.9 L2037.5 779.8 L2039.5 783.8 L2041.5 787.9 L2043.5 792.0 L2045.5 796.1 L2047.5 800.3 L2049.5 804.4 L2051.5 808.5 L2053.5 812.7 L2055.5 816.9 L2057.5 821.0 L2059.5 825.2 L2061.5 829.3 L2063.5 833.5 L2065.5 837.7 L2067.5 842.0 L2069.5 846.5 L2071.5 851.0 L2073.5 855.7 L2075.5 860.4 L2077.5 865.0 L2079.5 869.6 L2081.5 874.0 L2083.5 878.4 L2085.5 882.8 L2087.5 887.3 L2089.5 892.0 L2091.5 896.7 L2093.5 901.4 L2095.5 906.2 L2097.5 911.1 L2099.5 916.0 L2101.5 920.9 L2103.5 925.8 L2105.5 930.7 L2107.5 935.7 L2109.5 940.7 L2111.5 945.8 L2113.5 950.8 L2115.5 955.7 L2117.5 960.5 L2119.5 965.0 L2121.5 969.5 L2123.5 973.9 L2125.5 978.4 L2127.5 983.1 L2129.5 987.9 L2131.5 992.7 L2133.5 997.6 L2135.5 1002.5 L2137.5 1007.3 L2139.5 1012.1 L2141.5 1016.8 L2143.5 1021.6 L2145.5 1026.4 L2147.5 1031.3 L2149.5 1036.2 L2151.5 1041.1 L2153.5 1046.1 L2155.5 1051.2 L2157.5 1056.3 L2159.5 1061.4 L2161.5 1066.7 L2163.5 1071.9 L2165.5 1077.2 L2167.5 1082.6 L2169.5 1088.1 L2171.5 1093.6 L2173.5 1099.2 L2175.5 1104.9 L2177.5 1110.7 L2179.5 1116.5 L2181.5 1122.3 L2183.5 1128.2 L2185.5 1134.2 L2187.5 1140.3 L2189.5 1146.5 L2191.5 1152.7 L2193.5 1159.0 L2195.5 1165.4 L2197.5 1171.8 L2199.5 1178.4 L2201.5 1185.0 L2203.5 1191.7 L2205.5 1198.5 L2207.5 1205.3 L2209.5 1212.3 L2211.5 1219.3 L2213.5 1226.4 L2215.5 1233.6 L2217.5 1240.8 L2219.5 1248.2 L2221.5 1255.5 L2223.5 1263.0 L2225.5 1270.5 L2227.5 1278.1 L2229.5 1286.0 L2231.5 1294.1 L2233.5 1302.6 L2235.5 1311.3 L2237.5 1320.3 L2239.5 1329.6 L2241.5 1339.2 L2243.0 1346.4" stroke="#0070C0" stroke-dasharray="12.50 12.50"/>
<path d="M223.5 1346.4 L225.5 1345.1 L227.5 1343.9 L229.5 1342.6 L231.5 1341.4 L233.5 1340.1 L235.5 1338.8 L237.5 1337.6 L239.5 1336.3 L241.5 1335.1 L243.5 1333.8 L245.5 1332.5 L247.5 1331.3 L249.5 1330.0 L251.5 1328.8 L253.5 1327.5 L255.5 1326.2 L257.5 1325.0 L259.5 1323.7 L261.5 1322.5 L263.5 1321.2 L265.5 1319.9 L267.5 1318.7 L269.5 1317.4 L271.5 1316.2 L273.5 1314.9 L275.5 1313.6 L277.5 1312.4 L279.5 1311.1 L281.5 1309.8 L283.5 1308.6 L285.5 1307.3 L287.5 1306.1 L289.5 1304.8 L291.5 1303.5 L293.5 1302.3 L295.5 1301.0 L297.5 1299.8 L299.5 1298.5 L301.5 1297.2 L303.5 1296.0 L305.5 1294.7 L307.5 1293.5 L309.5 1292.2 L311.5 1290.9 L313.5 1289.7 L315.5 1288.4 L317.5 1287.1 L319.5 1285.9 L321.5 1284.6 L323.5 1283.4 L325.5 1282.1 L327.5 1280.8 L329.5 1279.6 L331.5 1278.3 L333.5 1277.1 L335.5 1275.8 L337.5 1274.5 L339.5 1273.3 L341.5 1272.0 L343.5 1270.7 L345.5 1269.5 L347.5 1268.2 L349.5 1267.0 L351.5 1265.7 L353.5 1264.4 L355.5 1263.2 L357.5 1261.9 L359.5 1260.6 L361.5 1259.4 L363.5 1258.1 L365.5 1256.9 L367.5 1255.6 L369.5 1254.3 L371.5 1253.1 L373.5 1251.8 L375.5 1250.5 L377.5 1249.3 L379.5 1248.0 L381.5 1246.8 L383.5 1245.5 L385.5 1244.2 L387.5 1243.0 L389.5 1241.7 L391.5 1240.4 L393.5 1239.2 L395.5 1237.9 L397.5 1236.7 L399.5 1235.4 L401.5 1234.1 L403.5 1232.9 L405.5 1231.6 L407.5 1230.3 L409.5 1229.1 L411.5 1227.8 L413.5 1226.6 L415.5 1225.3 L417.5 1224.0 L419.5 1222.8 L421.5 1221.5 L423.5 1220.2 L425.5 1219.0 L427.5 1217.7 L429.5 1216.5 L431.5 1215.2 L433.5 1213.9 L435.5 1212.7 L437.5 1211.4 L439.5 1210.1 L441.5 1208.9 L443.5 1207.6 L445.5 1206.3 L447.5 1205.1 L449.5 1203.8 L451.5 1202.6 L453.5 1201.3 L455.5 1200.0 L457.5 1198.8 L459.5 1197.5 L461.5 1196.2 L463.5 1195.0 L465.5 1193.7 L467.5 1192.5 L469.5 1191.2 L471.5 1189.9 L473.5 1188.7 L475.5 1187.4 L477.5 1186.1 L479.5 1184.9 L481.5 1183.6 L483.5 1182.3 L485.5 1181.1 L487.5 1179.8 L489.5 1178.6 L491.5 1177.3 L493.5 1176.0 L495.5 1174.8 L497.5 1173.5 L499.5 1172.2 L501.5 1171.0 L503.5 1169.7 L505.5 1168.4 L507.5 1167.2 L509.5 1165.9 L511.5 1164.7 L513.5 1163.4 L515.5 1162.1 L517.5 1160.9 L519.5 1159.6 L521.5 1158.3 L523.5 1157.1 L525.5 1155.8 L527.5 1154.5 L529.5 1153.3 L531.5 1152.0 L533.5 1150.8 L535.5 1149.5 L537.5 1148.2 L539.5 1147.0 L541.5 1145.7 L543.5 1144.4 L545.5 1143.2 L547.5 1141.9 L549.5 1140.6 L551.5 1139.4 L553.5 1138.1 L555.5 1136.8 L557.5 1135.6 L559.5 1134.3 L561.5 1133.1 L563.5 1131.8 L565.5 1130.5 L567.5 1129.3 L569.5 1128.0 L571.5 1126.7 L573.5 1125.5 L575.5 1124.2 L577.5 1122.9 L579.5 1121.7 L581.5 1120.4 L583.5 1119.1 L585.5 1117.9 L587.5 1116.6 L589.5 1115.4 L591.5 1114.1 L593.5 1112.8 L595.5 1111.6 L597.5 1110.3 L599.5 1109.0 L601.5 1107.8 L603.5 1106.5 L605.5 1105.2 L607.5 1104.0 L609.5 1102.7 L611.5 1101.4 L613.5 1100.2 L615.5 1098.9 L617.5 1097.7 L619.5 1096.4 L621.5 1095.1 L623.5 1093.9 L625.5 1092.6 L627.5 1091.3 L629.5 1090.1 L631.5 1088.8 L633.5 1087.5 L635.5 1086.3 L637.5 1085.0 L639.5 1083.8 L641.5 1082.5 L643.5 1081.2 L645.5 1080.0 L647.5 1078.7 L649.5 1077.4 L651.5 1076.2 L653.5 1074.9 L655.5 1073.6 L657.5 1072.4 L659.5 1071.1 L661.5 1069.8 L663.5 1068.6 L665.5 1067.3 L667.5 1066.1 L669.5 1064.8 L671.5 1063.5 L673.5 1062.3 L675.5 1061.0 L677.5 1059.7 L679.5 1058.5 L681.5 1057.2 L683.5 1055.9 L685.5 1054.7 L687.5 1053.4 L689.5 1052.1 L691.5 1050.9 L693.5 1049.6 L695.5 1048.4 L697.5 1047.1 L699.5 1045.8 L701.5 1044.6 L703.5 1043.3 L705.5 1042.0 L707.5 1040.8 L709.5 1039.5 L711.5 1038.2 L713.5 1037.0 L715.5 1035.7 L717.5 1034.4 L719.5 1033.2 L721.5 1031.9 L723.5 1030.7 L725.5 1029.4 L727.5 1028.1 L729.5 1026.9 L731.5 1025.6 L733.5 1024.3 L735.5 1023.1 L737.5 1021.8 L739.5 1020.5 L741.5 1019.3 L743.5 1018.0 L745.5 1016.7 L747.5 1015.5 L749.5 1014.2 L751.5 1013.0 L753.5 1011.7 L755.5 1010.4 L757.5 1009.2 L759.5 1007.9 L761.5 1006.6 L763.5 1005.4 L765.5 1004.1 L767.5 1002.8 L769.5 1001.6 L771.5 1000.3 L773.5 999.1 L775.5 997.8 L777.5 996.5 L779.5 995.3 L781.5 994.0 L783.5 992.7 L785.5 991.5 L787.5 990.2 L789.5 988.9 L791.5 987.7 L793.5 986.4 L795.5 985.2 L797.5 983.9 L799.5 982.6 L801.5 981.4 L803.5 980.1 L805.5 978.8 L807.5 977.6 L809.5 976.3 L811.5 975.0 L813.5 973.8 L815.5 972.5 L817.5 971.2 L819.5 970.0 L821.5 968.7 L823.5 967.5 L825.5 966.2 L827.5 964.9 L829.5 963.7 L831.5 962.4 L833.5 961.1 L835.5 959.9 L837.5 958.6 L839.5 957.4 L841.5 956.1 L843.5 954.8 L845.5 953.6 L847.5 952.3 L849.5 951.0 L851.5 949.8 L853.5 948.5 L855.5 947.2 L857.5 946.0 L859.5 944.7 L861.5 943.5 L863.5 942.2 L865.5 940.9 L867.5 939.7 L869.5 938.4 L871.5 937.1 L873.5 935.9 L875.5 934.6 L877.5 933.4 L879.5 932.1 L881.5 930.8 L883.5 929.6 L885.5 928.3 L887.5 927.0 L889.5 925.8 L891.5 924.5 L893.5 923.2 L895.5 922.0 L897.5 920.7 L899.5 919.5 L901.5 918.2 L903.5 916.9 L905.5 915.7 L907.5 914.4 L909.5 913.1 L911.5 911.9 L913.5 910.6 L915.5 909.4 L917.5 908.1 L919.5 906.8 L921.5 905.6 L923.5 904.3 L925.5 903.0 L927.5 901.8 L929.5 900.5 L931.5 899.3 L933.5 898.0 L935.5 896.7 L937.5 895.5 L939.5 894.2 L941.5 892.9 L943.5 891.7 L945.5 890.4 L947.5 889.2 L949.5 887.9 L951.5 886.6 L953.5 885.4 L955.5 884.1 L957.5 882.9 L959.5 881.6 L961.5 880.3 L963.5 879.1 L965.5 877.8 L967.5 876.5 L969.5 875.3 L971.5 874.0 L973.5 872.8 L975.5 871.5 L977.5 870.2 L979.5 869.0 L981.5 867.7 L983.5 866.4 L985.5 865.2 L987.5 863.9 L989.5 862.7 L991.5 861.4 L993.5 860.1 L995.5 858.9 L997.5 857.6 L999.5 856.4 L1001.5 855.1 L1003.5 853.8 L1005.5 852.6 L1007.5 851.3 L1009.5 850.1 L1011.5 848.8 L1013.5 847.5 L1015.5 846.3 L1017.5 845.0 L1019.5 843.7 L1021.5 842.5 L1023.5 841.2 L1025.5 840.0 L1027.5 838.7 L1029.5 837.4 L1031.5 836.2 L1033.5 834.9 L1035.5 833.7 L1037.5 832.4 L1039.5 831.1 L1041.5 829.9 L1043.5 828.6 L1045.5 827.4 L1047.5 826.1 L1049.5 824.8 L1051.5 823.6 L1053.5 822.3 L1055.5 821.1 L1057.5 819.8 L1059.5 818.5 L1061.5 817.3 L1063.5 816.0 L1065.5 814.8 L1067.5 813.5 L1069.5 812.2 L1071.5 811.0 L1073.5 809.7 L1075.5 808.5 L1077.5 807.2 L1079.5 805.9 L1081.5 804.7 L1083.5 803.4 L1085.5 802.2 L1087.5 800.9 L1089.5 799.6 L1091.5 798.4 L1093.5 797.1 L1095.5 795.9 L1097.5 794.6 L1099.5 793.3 L1101.5 792.1 L1103.5 790.8 L1105.5 789.6 L1107.5 788.3 L1109.5 787.0 L1111.5 785.8 L1113.5 784.5 L1115.5 783.3 L1117.5 782.0 L1119.5 780.8 L1121.5 779.5 L1123.5 778.2 L1125.5 777.0 L1127.5 775.7 L1129.5 774.5 L1131.5 773.2 L1133.5 771.9 L1135.5 770.7 L1137.5 769.4 L1139.5 768.2 L1141.5 766.9 L1143.5 765.6 L1145.5 764.4 L1147.5 763.1 L1149.5 761.9 L1151.5 760.6 L1153.5 759.4 L1155.5 758.1 L1157.5 756.8 L1159.5 755.6 L1161.5 754.3 L1163.5 753.1 L1165.5 751.8 L1167.5 750.6 L1169.5 749.3 L1171.5 748.0 L1173.5 746.8 L1175.5 745.5 L1177.5 744.3 L1179.5 743.0 L1181.5 741.8 L1183.5 740.5 L1185.5 739.2 L1187.5 738.0 L1189.5 736.7 L1191.5 735.5 L1193.5 734.2 L1195.5 733.0 L1197.5 731.7 L1199.5 730.4 L1201.5 729.2 L1203.5 727.9 L1205.5 726.7 L1207.5 725.4 L1209.5 724.2 L1211.5 722.9 L1213.5 721.6 L1215.5 720.4 L1217.5 719.1 L1219.5 717.9 L1221.5 716.6 L1223.5 715.4 L1225.5 714.1 L1227.5 712.8 L1229.5 711.6 L1231.5 710.3 L1233.5 709.1 L1235.5 707.8 L1237.5 706.6 L1239.5 705.3 L1241.5 704.1 L1243.5 702.8 L1245.5 701.5 L1247.5 700.3 L1249.5 699.0 L1251.5 697.8 L1253.5 696.5 L1255.5 695.3 L1257.5 694.0 L1259.5 692.8 L1261.5 691.5 L1263.5 690.2 L1265.5 689.0 L1267.5 687.7 L1269.5 686.5 L1271.5 685.2 L1273.5 684.0 L1275.5 682.7 L1277.5 681.5 L1279.5 680.2 L1281.5 679.0 L1283.5 677.7 L1285.5 676.4 L1287.5 675.2 L1289.5 673.9 L1291.5 672.7 L1293.5 671.4 L1295.5 670.2 L1297.5 668.9 L1299.5 667.7 L1301.5 666.4 L1303.5 665.2 L1305.5 663.9 L1307.5 662.7 L1309.5 661.4 L1311.5 660.1 L1313.5 658.9 L1315.5 657.6 L1317.5 656.4 L1319.5 655.1 L1321.5 653.9 L1323.5 652.6 L1325.5 651.4 L1327.5 650.1 L1329.5 648.9 L1331.5 647.6 L1333.5 646.4 L1335.5 645.1 L1337.5 643.9 L1339.5 642.6 L1341.5 641.4 L1343.5 640.1 L1345.5 638.8 L1347.5 637.6 L1349.5 636.3 L1351.5 635.1 L1353.5 633.8 L1355.5 632.6 L1357.5 631.3 L1359.5 630.1 L1361.5 628.8 L1363.5 627.6 L1365.5 626.3 L1367.5 625.1 L1369.5 623.8 L1371.5 622.6 L1373.5 621.3 L1375.5 620.1 L1377.5 618.8 L1379.5 617.6 L1381.5 616.3 L1383.5 615.1 L1385.5 613.8 L1387.5 612.6 L1389.5 611.3 L1391.5 610.1 L1393.5 608.8 L1395.5 607.6 L1397.5 606.3 L1399.5 605.1 L1401.5 603.8 L1403.5 602.6 L1405.5 601.3 L1407.5 600.1 L1409.5 598.8 L1411.5 597.6 L1413.5 596.3 L1415.5 595.1 L1417.5 593.8 L1419.5 592.6 L1421.5 591.3 L1423.5 590.1 L1425.5 588.8 L1427.5 587.6 L1429.5 586.3 L1431.5 585.1 L1433.5 583.8 L1435.5 582.6 L1437.5 581.3 L1439.5 580.1 L1441.5 578.8 L1443.5 577.6 L1445.5 576.3 L1447.5 575.1 L1449.5 573.8 L1451.5 572.6 L1453.5 571.3 L1455.5 570.1 L1457.5 568.8 L1459.5 567.6 L1461.5 566.3 L1463.5 565.1 L1465.5 563.8 L1467.5 562.6 L1469.5 561.3 L1471.5 560.1 L1473.5 558.8 L1475.5 557.6 L1477.5 556.3 L1479.5 555.1 L1481.5 553.9 L1483.5 552.6 L1485.5 551.4 L1487.5 550.1 L1489.5 548.9 L1491.5 547.6 L1493.5 546.4 L1495.5 545.1 L1497.5 543.9 L1499.5 542.6 L1501.5 541.4 L1503.5 540.1 L1505.5 538.9 L1507.5 537.7 L1509.5 536.4 L1511.5 535.2 L1513.5 533.9 L1515.5 532.7 L1517.5 531.5 L1519.5 530.2 L1521.5 529.0 L1523.5 527.8 L1525.5 526.5 L1527.5 525.3 L1529.5 524.1 L1531.5 522.8 L1533.5 521.6 L1535.5 520.4 L1537.5 519.1 L1539.5 517.9 L1541.5 516.6 L1543.5 515.4 L1545.5 514.1 L1547.5 512.9 L1549.5 511.6 L1551.5 510.4 L1553.5 509.1 L1555.5 507.9 L1557.5 506.6 L1559.5 505.4 L1561.5 504.1 L1563.5 502.9 L1565.5 501.6 L1567.5 500.4 L1569.5 499.1 L1571.5 497.8 L1573.5 496.6 L1575.5 495.3 L1577.5 494.0 L1579.5 492.7 L1581.5 491.4 L1583.5 490.1 L1585.5 488.7 L1587.5 487.4 L1589.5 486.0 L1591.5 484.7 L1593.5 483.3 L1595.5 481.9 L1597.5 480.4 L1599.5 478.9 L1601.5 477.3 L1603.5 475.7 L1605.5 474.1 L1607.5 472.5 L1609.5 470.8 L1611.5 469.2 L1613.5 467.5 L1615.5 465.8 L1617.5 464.1 L1619.5 462.3 L1621.5 460.5 L1623.5 458.7 L1625.5 456.9 L1627.5 455.2 L1629.5 453.4 L1631.5 451.6 L1633.5 449.9 L1635.5 448.1 L1637.5 446.4 L1639.5 444.6 L1641.5 442.9 L1643.5 441.1 L1645.5 439.4 L1647.5 437.6 L1649.5 435.9 L1651.5 434.1 L1653.5 432.4 L1655.5 430.6 L1657.5 428.9 L1659.5 427.2 L1661.5 425.4 L1663.5 423.7 L1665.5 421.9 L1667.5 420.1 L1669.5 418.4 L1671.5 416.6 L1673.5 414.8 L1675.5 413.0 L1677.5 411.3 L1679.5 409.6 L1681.5 408.0 L1683.5 406.4 L1685.5 404.9 L1687.5 403.4 L1689.5 402.0 L1691.5 400.6 L1693.5 399.2 L1695.5 397.7 L1697.5 396.2 L1699.5 394.8 L1701.5 393.3 L1703.5 392.0 L1705.5 390.7 L1707.5 389.5 L1709.5 388.3 L1711.5 387.1 L1713.5 385.9 L1715.5 384.8 L1717.5 383.7 L1719.5 382.6 L1721.5 381.6 L1723.5 380.6 L1725.5 379.6 L1727.5 378.7 L1729.5 377.8 L1731.5 376.9 L1733.5 376.1 L1735.5 375.4 L1737.5 374.7 L1739.5 374.1 L1741.5 373.5 L1743.5 372.9 L1745.5 372.4 L1747.5 372.0 L1749.5 371.7 L1751.5 371.3 L1753.5 371.0 L1755.5 370.7 L1757.5 370.5 L1759.5 370.4 L1761.5 370.4 L1763.5 370.5 L1765.5 370.6 L1767.5 370.8 L1769.5 371.0 L1771.5 371.3 L1773.5 371.5 L1775.5 371.8 L1777.5 372.3 L1779.5 372.7 L1781.5 373.3 L1783.5 373.8 L1785.5 374.3 L1787.5 374.9 L1789.5 375.4 L1791.5 376.1 L1793.5 376.7 L1795.5 377.3 L1797.5 378.0 L1799.5 378.8 L1801.5 379.6 L1803.5 380.4 L1805.5 381.3 L1807.5 382.2 L1809.5 383.1 L1811.5 384.1 L1813.5 385.2 L1815.5 386.2 L1817.5 387.4 L1819.5 388.5 L1821.5 389.6 L1823.5 390.8 L1825.5 392.1 L1827.5 393.3 L1829.5 394.6 L1831.5 395.9 L1833.5 397.3 L1835.5 398.8 L1837.5 400.2 L1839.5 401.7 L1841.5 403.2 L1843.5 404.7 L1845.5 406.3 L1847.5 407.8 L1849.5 409.4 L1851.5 411.0 L1853.5 412.6 L1855.5 414.3 L1857.5 416.0 L1859.5 417.7 L1861.5 419.5 L1863.5 421.3 L1865.5 423.2 L1867.5 425.1 L1869.5 427.1 L1871.5 429.2 L1873.5 431.3 L1875.5 433.5 L1877.5 435.7 L1879.5 437.9 L1881.5 440.0 L1883.5 442.2 L1885.5 444.4 L1887.5 446.5 L1889.5 448.5 L1891.5 450.6 L1893.5 452.8 L1895.5 455.1 L1897.5 457.5 L1899.5 460.1 L1901.5 462.7 L1903.5 465.2 L1905.5 467.8 L1907.5 470.5 L1909.5 473.1 L1911.5 475.6 L1913.5 478.1 L1915.5 480.6 L1917.5 483.2 L1919.5 486.0 L1921.5 489.0 L1923.5 491.9 L1925.5 494.8 L1927.5 497.6 L1929.5 500.4 L1931.5 503.3 L1933.5 506.3 L1935.5 509.4 L1937.5 512.6 L1939.5 515.8 L1941.5 518.9 L1943.5 522.1 L1945.5 525.3 L1947.5 528.5 L1949.5 531.7 L1951.5 535.0 L1953.5 538.3 L1955.5 541.7 L1957.5 545.1 L1959.5 548.5 L1961.5 552.0 L1963.5 555.5 L1965.5 559.0 L1967.5 562.4 L1969.5 565.9 L1971.5 569.5 L1973.5 573.3 L1975.5 577.2 L1977.5 581.0 L1979.5 584.8 L1981.5 588.6 L1983.5 592.7 L1985.5 597.0 L1987.5 601.3 L1989.5 605.5 L1991.5 609.8 L1993.5 614.1 L1995.5 618.6 L1997.5 623.2 L1999.5 627.6 L2001.5 632.0 L2003.5 636.4 L2005.5 641.0 L2007.5 645.5 L2009.5 650.2 L2011.5 655.0 L2013.5 659.9 L2015.5 664.7 L2017.5 669.5 L2019.5 674.1 L2021.5 678.7 L2023.5 683.3 L2025.5 687.8 L2027.5 692.5 L2029.5 697.6 L2031.5 703.1 L2033.5 708.4 L2035.5 713.5 L2037.5 718.7 L2039.5 724.0 L2041.5 729.2 L2043.5 734.1 L2045.5 739.1 L2047.5 744.0 L2049.5 749.0 L2051.5 754.1 L2053.5 759.1 L2055.5 764.4 L2057.5 770.1 L2059.5 775.9 L2061.5 781.6 L2063.5 787.2 L2065.5 792.5 L2067.5 797.8 L2069.5 803.0 L2071.5 808.2 L2073.5 813.7 L2075.5 819.2 L2077.5 824.7 L2079.5 830.0 L2081.5 835.6 L2083.5 841.6 L2085.5 847.4 L2087.5 853.1 L2089.5 858.7 L2091.5 864.3 L2093.5 869.9 L2095.5 875.5 L2097.5 881.1 L2099.5 886.5 L2101.5 891.9 L2103.5 897.7 L2105.5 903.6 L2107.5 909.7 L2109.5 915.8 L2111.5 921.6 L2113.5 927.2 L2115.5 932.7 L2117.5 938.3 L2119.5 943.9 L2121.5 949.6 L2123.5 955.8 L2125.5 962.2 L2127.5 967.9 L2129.5 973.4 L2131.5 979.4 L2133.5 985.7 L2135.5 991.7 L2137.5 997.6 L2139.5 1003.5 L2141.5 1009.3 L2143.5 1015.1 L2145.5 1020.8 L2147.5 1026.7 L2149.5 1032.5 L2151.5 1038.5 L2153.5 1044.4 L2155.5 1050.4 L2157.5 1056.4 L2159.5 1062.4 L2161.5 1068.5 L2163.5 1074.5 L2165.5 1080.5 L2167.5 1086.5 L2169.5 1092.5 L2171.5 1098.4 L2173.5 1104.4 L2175.5 1110.3 L2177.5 1116.3 L2179.5 1122.4 L2181.5 1128.5 L2183.5 1134.6 L2185.5 1140.8 L2187.5 1147.0 L2189.5 1153.2 L2191.5 1159.5 L2193.5 1165.8 L2195.5 1172.2 L2197.5 1178.6 L2199.5 1185.1 L2201.5 1191.6 L2203.5 1198.2 L2205.5 1204.8 L2207.5 1211.6 L2209.5 1218.5 L2211.5 1225.6 L2213.5 1232.9 L2215.5 1240.4 L2217.5 1247.9 L2219.5 1255.6 L2221.5 1263.1 L2223.5 1270.6 L2225.5 1278.0 L2227.5 1285.4 L2229.5 1292.8 L2231.5 1300.3 L2233.5 1308.0 L2235.5 1315.9 L2237.5 1324.0 L2239.5 1332.1 L2241.5 1340.3 L2243.0 1346.4" stroke="#0070C0" stroke-dasharray="0.00 12.50"/>
</g>
<text class="tk" x="182.6" y="1359.8" font-size="41.30" text-anchor="end">0</text>
<text class="tk" x="2386.8" y="1359.8" font-size="41.30">0</text>
<text class="tk" x="223.5" y="1417.9" font-size="41.30" text-anchor="middle">0</text>
<text class="tk" x="182.6" y="1242.2" font-size="41.30" text-anchor="end">1</text>
<text class="tk" x="2386.8" y="1242.2" font-size="41.30">0.2</text>
<text class="tk" x="435.6" y="1417.9" font-size="41.30" text-anchor="middle">230</text>
<text class="tk" x="182.6" y="1124.7" font-size="41.30" text-anchor="end">2</text>
<text class="tk" x="2386.8" y="1124.7" font-size="41.30">0.4</text>
<text class="tk" x="647.7" y="1417.9" font-size="41.30" text-anchor="middle">460</text>
<text class="tk" x="182.6" y="1007.1" font-size="41.30" text-anchor="end">3</text>
<text class="tk" x="2386.8" y="1007.1" font-size="41.30">0.6</text>
<text class="tk" x="859.8" y="1417.9" font-size="41.30" text-anchor="middle">690</text>
<text class="tk" x="182.6" y="889.6" font-size="41.30" text-anchor="end">4</text>
<text class="tk" x="2386.8" y="889.6" font-size="41.30">0.8</text>
<text class="tk" x="1071.9" y="1417.9" font-size="41.30" text-anchor="middle">920</text>
<text class="tk" x="182.6" y="772.0" font-size="41.30" text-anchor="end">5</text>
<text class="tk" x="2386.8" y="772.0" font-size="41.30">1</text>
<text class="tk" x="1284.0" y="1417.9" font-size="41.30" text-anchor="middle">1150</text>
<text class="tk" x="182.6" y="654.4" font-size="41.30" text-anchor="end">6</text>
<text class="tk" x="2386.8" y="654.4" font-size="41.30">1.2</text>
<text class="tk" x="1496.2" y="1417.9" font-size="41.30" text-anchor="middle">1380</text>
<text class="tk" x="182.6" y="536.9" font-size="41.30" text-anchor="end">7</text>
<text class="tk" x="2386.8" y="536.9" font-size="41.30">1.4</text>
<text class="tk" x="1708.3" y="1417.9" font-size="41.30" text-anchor="middle">1610</text>
<text class="tk" x="182.6" y="419.3" font-size="41.30" text-anchor="end">8</text>
<text class="tk" x="2386.8" y="419.3" font-size="41.30">1.6</text>
<text class="tk" x="1920.4" y="1417.9" font-size="41.30" text-anchor="middle">1840</text>
<text class="tk" x="182.6" y="301.8" font-size="41.30" text-anchor="end">9</text>
<text class="tk" x="2386.8" y="301.8" font-size="41.30">1.8</text>
<text class="tk" x="2132.5" y="1417.9" font-size="41.30" text-anchor="middle">2070</text>
<text class="tk" x="182.6" y="184.2" font-size="41.30" text-anchor="end">10</text>
<text class="tk" x="2386.8" y="184.2" font-size="41.30">2</text>
<text class="tk" x="2344.6" y="1417.9" font-size="41.30" text-anchor="middle">2300</text>
<text y="104.6" font-size="74.70"><tspan x="684.5" textLength="42.2" lengthAdjust="spacingAndGlyphs">P</tspan><tspan x="725.8" textLength="395.0" lengthAdjust="spacingAndGlyphs">erformance</tspan> <tspan x="1138.1" textLength="188.1" lengthAdjust="spacingAndGlyphs">curve</tspan> <tspan x="1344.8" textLength="122.0" lengthAdjust="spacingAndGlyphs">145</tspan><tspan x="1467.5" textLength="27.1" lengthAdjust="spacingAndGlyphs">-</tspan><tspan x="1496.1" textLength="122.2" lengthAdjust="spacingAndGlyphs">BZS</tspan><tspan x="1618.1" textLength="81.5" lengthAdjust="spacingAndGlyphs">24</tspan><tspan x="1700.4" textLength="26.5" lengthAdjust="spacingAndGlyphs">-</tspan><tspan x="1725.3" textLength="125.9" lengthAdjust="spacingAndGlyphs">016</tspan></text>
<text y="1490.3" font-size="52.30"><tspan x="1107.0" textLength="144.3" lengthAdjust="spacingAndGlyphs">Speed</tspan> <tspan x="1265.3" textLength="147.5" lengthAdjust="spacingAndGlyphs">(RPM)</tspan></text>
<text y="0" font-size="52.30" transform="translate(108.9 906.0) rotate(-90)"><tspan x="-0.5" textLength="161.7" lengthAdjust="spacingAndGlyphs">Torque</tspan> <tspan x="176.4" textLength="118.2" lengthAdjust="spacingAndGlyphs">(Nm)</tspan></text>
<text y="0" font-size="52.30" transform="translate(2510.2 894.2) rotate(-90)"><tspan x="-3.3" textLength="149.5" lengthAdjust="spacingAndGlyphs">Power</tspan> <tspan x="164.7" textLength="108.8" lengthAdjust="spacingAndGlyphs">(kW)</tspan></text>
<path d="M204.7 1550.6H308.3" stroke="#FF0000" stroke-width="6.25" stroke-linecap="round" fill="none"/>
<text y="1561.0" font-size="33.60"><tspan x="319.2" textLength="174.2" lengthAdjust="spacingAndGlyphs">Continuous</tspan> <tspan x="501.6" textLength="109.5" lengthAdjust="spacingAndGlyphs">Torque</tspan> <tspan x="620.1" textLength="76.9" lengthAdjust="spacingAndGlyphs">(Nm)</tspan> <tspan x="705.0" textLength="30.2" lengthAdjust="spacingAndGlyphs">at</tspan> <tspan x="744.9" textLength="37.1" lengthAdjust="spacingAndGlyphs">16</tspan> <tspan x="789.5" textLength="80.8" lengthAdjust="spacingAndGlyphs">Arms</tspan></text>
<path d="M974.5 1550.6H1078.0" stroke="#FF0000" stroke-width="6.25" stroke-linecap="round" fill="none" stroke-dasharray="43.75 25.00"/>
<text y="1561.0" font-size="33.60"><tspan x="1096.7" textLength="109.5" lengthAdjust="spacingAndGlyphs">Torque</tspan> <tspan x="1215.2" textLength="76.9" lengthAdjust="spacingAndGlyphs">(Nm)</tspan> <tspan x="1300.1" textLength="30.2" lengthAdjust="spacingAndGlyphs">at</tspan> <tspan x="1339.5" textLength="36.6" lengthAdjust="spacingAndGlyphs">24</tspan> <tspan x="1384.6" textLength="80.8" lengthAdjust="spacingAndGlyphs">Arms</tspan></text>
<path d="M1744.2 1550.6H1847.8" stroke="#FF0000" stroke-width="6.25" stroke-linecap="round" fill="none" stroke-dasharray="43.75 25.00 0.00 25.00 0.00 25.00"/>
<text y="1561.0" font-size="33.60"><tspan x="1866.6" textLength="109.5" lengthAdjust="spacingAndGlyphs">Torque</tspan> <tspan x="1985.1" textLength="76.9" lengthAdjust="spacingAndGlyphs">(Nm)</tspan> <tspan x="2070.0" textLength="30.2" lengthAdjust="spacingAndGlyphs">at</tspan> <tspan x="2109.7" textLength="37.4" lengthAdjust="spacingAndGlyphs">32</tspan> <tspan x="2154.5" textLength="80.8" lengthAdjust="spacingAndGlyphs">Arms</tspan></text>
<path d="M204.7 1594.3H308.3" stroke="#FF0000" stroke-width="6.25" stroke-linecap="round" fill="none" stroke-dasharray="12.50 12.50"/>
<text y="1604.7" font-size="33.60"><tspan x="327.0" textLength="109.5" lengthAdjust="spacingAndGlyphs">Torque</tspan> <tspan x="445.5" textLength="76.9" lengthAdjust="spacingAndGlyphs">(Nm)</tspan> <tspan x="530.4" textLength="30.2" lengthAdjust="spacingAndGlyphs">at</tspan> <tspan x="570.4" textLength="36.8" lengthAdjust="spacingAndGlyphs">48</tspan> <tspan x="614.9" textLength="80.8" lengthAdjust="spacingAndGlyphs">Arms</tspan></text>
<path d="M974.5 1594.3H1078.0" stroke="#FF0000" stroke-width="6.25" stroke-linecap="round" fill="none" stroke-dasharray="0.00 12.50"/>
<text y="1604.7" font-size="33.60"><tspan x="1096.9" textLength="72.0" lengthAdjust="spacingAndGlyphs">Peak</tspan> <tspan x="1180.6" textLength="109.5" lengthAdjust="spacingAndGlyphs">Torque</tspan> <tspan x="1299.1" textLength="76.9" lengthAdjust="spacingAndGlyphs">(Nm)</tspan> <tspan x="1384.0" textLength="30.2" lengthAdjust="spacingAndGlyphs">at</tspan> <tspan x="1423.4" textLength="37.8" lengthAdjust="spacingAndGlyphs">80</tspan> <tspan x="1468.5" textLength="80.8" lengthAdjust="spacingAndGlyphs">Arms</tspan></text>
<path d="M1744.2 1594.3H1847.8" stroke="#0070C0" stroke-width="6.25" stroke-linecap="round" fill="none"/>
<text y="1604.7" font-size="33.60"><tspan x="1858.8" textLength="174.2" lengthAdjust="spacingAndGlyphs">Continuous</tspan> <tspan x="2041.1" textLength="98.1" lengthAdjust="spacingAndGlyphs">Power</tspan> <tspan x="2148.9" textLength="74.4" lengthAdjust="spacingAndGlyphs">(kW)</tspan> <tspan x="2230.3" textLength="30.4" lengthAdjust="spacingAndGlyphs">at</tspan> <tspan x="2270.3" textLength="37.2" lengthAdjust="spacingAndGlyphs">16</tspan> <tspan x="2314.8" textLength="81.0" lengthAdjust="spacingAndGlyphs">Arms</tspan></text>
<path d="M204.7 1638.0H308.3" stroke="#0070C0" stroke-width="6.25" stroke-linecap="round" fill="none" stroke-dasharray="43.75 25.00"/>
<text y="1648.4" font-size="33.60"><tspan x="318.8" textLength="98.1" lengthAdjust="spacingAndGlyphs">Power</tspan> <tspan x="426.6" textLength="74.4" lengthAdjust="spacingAndGlyphs">(kW)</tspan> <tspan x="508.0" textLength="30.4" lengthAdjust="spacingAndGlyphs">at</tspan> <tspan x="547.5" textLength="36.7" lengthAdjust="spacingAndGlyphs">24</tspan> <tspan x="592.5" textLength="81.0" lengthAdjust="spacingAndGlyphs">Arms</tspan></text>
<path d="M974.5 1638.0H1078.0" stroke="#0070C0" stroke-width="6.25" stroke-linecap="round" fill="none" stroke-dasharray="43.75 25.00 0.00 25.00"/>
<text y="1648.4" font-size="33.60"><tspan x="1088.7" textLength="98.1" lengthAdjust="spacingAndGlyphs">Power</tspan> <tspan x="1196.5" textLength="74.4" lengthAdjust="spacingAndGlyphs">(kW)</tspan> <tspan x="1277.9" textLength="30.4" lengthAdjust="spacingAndGlyphs">at</tspan> <tspan x="1317.7" textLength="37.5" lengthAdjust="spacingAndGlyphs">32</tspan> <tspan x="1362.4" textLength="81.0" lengthAdjust="spacingAndGlyphs">Arms</tspan></text>
<path d="M1744.2 1638.0H1847.8" stroke="#0070C0" stroke-width="6.25" stroke-linecap="round" fill="none" stroke-dasharray="12.50 12.50"/>
<text y="1648.4" font-size="33.60"><tspan x="1857.9" textLength="98.1" lengthAdjust="spacingAndGlyphs">Power</tspan> <tspan x="1965.7" textLength="74.4" lengthAdjust="spacingAndGlyphs">(kW)</tspan> <tspan x="2047.1" textLength="30.4" lengthAdjust="spacingAndGlyphs">at</tspan> <tspan x="2087.2" textLength="36.9" lengthAdjust="spacingAndGlyphs">48</tspan> <tspan x="2131.6" textLength="81.0" lengthAdjust="spacingAndGlyphs">Arms</tspan></text>
<path d="M204.7 1681.6H308.3" stroke="#0070C0" stroke-width="6.25" stroke-linecap="round" fill="none" stroke-dasharray="0.00 12.50"/>
<text y="1692.0" font-size="33.60"><tspan x="319.2" textLength="72.0" lengthAdjust="spacingAndGlyphs">Peak</tspan> <tspan x="400.7" textLength="98.1" lengthAdjust="spacingAndGlyphs">Power</tspan> <tspan x="508.5" textLength="74.4" lengthAdjust="spacingAndGlyphs">(kW)</tspan> <tspan x="589.9" textLength="30.4" lengthAdjust="spacingAndGlyphs">at</tspan> <tspan x="629.4" textLength="37.9" lengthAdjust="spacingAndGlyphs">80</tspan> <tspan x="674.4" textLength="81.0" lengthAdjust="spacingAndGlyphs">Arms</tspan></text>
</svg></body></html>
